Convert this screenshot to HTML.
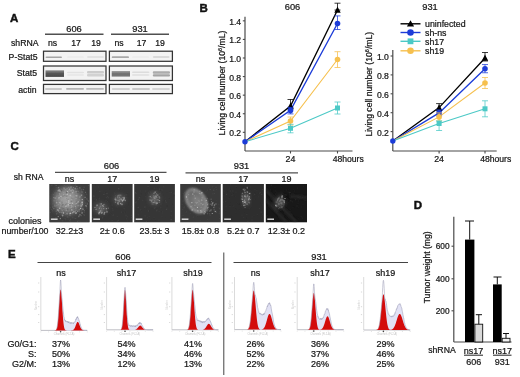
<!DOCTYPE html>
<html><head><meta charset="utf-8"><style>
html,body{margin:0;padding:0;background:#fff;width:520px;height:377px;overflow:hidden}
svg{display:block;font-family:"Liberation Sans", sans-serif;will-change:transform}
</style></head><body>
<svg width="520" height="377" viewBox="0 0 520 377">
<rect width="520" height="377" fill="#fff"/>
<defs>
<filter id="blur1" x="-20%" y="-80%" width="140%" height="260%"><feGaussianBlur stdDeviation="0.6"/></filter>
<filter id="blur2" x="-20%" y="-80%" width="140%" height="260%"><feGaussianBlur stdDeviation="1.0"/></filter>
<filter id="blurc" x="-50%" y="-50%" width="200%" height="200%"><feGaussianBlur stdDeviation="2.5"/></filter>
<filter id="soft" x="-5%" y="-5%" width="110%" height="110%"><feGaussianBlur stdDeviation="0.4"/></filter>
<filter id="blurd" x="-10%" y="-10%" width="120%" height="120%"><feGaussianBlur stdDeviation="0.35"/></filter>
</defs>
<text x="10" y="21.5" font-size="11.5" text-anchor="start" font-weight="bold" fill="#111" stroke="#111" stroke-width="0.45" >A</text>
<text x="74" y="32" font-size="9.3" text-anchor="middle" font-weight="normal" fill="#161616" stroke="#161616" stroke-width="0.22" >606</text>
<text x="140" y="32" font-size="9.3" text-anchor="middle" font-weight="normal" fill="#161616" stroke="#161616" stroke-width="0.22" >931</text>
<line x1="45" y1="34.2" x2="103.5" y2="34.2" stroke="#505050" stroke-width="1.35" />
<line x1="111" y1="34.2" x2="169" y2="34.2" stroke="#505050" stroke-width="1.35" />
<text x="11" y="46.3" font-size="8.7" text-anchor="start" font-weight="normal" fill="#161616" stroke="#161616" stroke-width="0.22" >shRNA</text>
<text x="52.5" y="46.3" font-size="8.7" text-anchor="middle" font-weight="normal" fill="#161616" stroke="#161616" stroke-width="0.22" >ns</text>
<text x="76" y="46.3" font-size="8.7" text-anchor="middle" font-weight="normal" fill="#161616" stroke="#161616" stroke-width="0.22" >17</text>
<text x="96" y="46.3" font-size="8.7" text-anchor="middle" font-weight="normal" fill="#161616" stroke="#161616" stroke-width="0.22" >19</text>
<text x="119" y="46.3" font-size="8.7" text-anchor="middle" font-weight="normal" fill="#161616" stroke="#161616" stroke-width="0.22" >ns</text>
<text x="141.5" y="46.3" font-size="8.7" text-anchor="middle" font-weight="normal" fill="#161616" stroke="#161616" stroke-width="0.22" >17</text>
<text x="160" y="46.3" font-size="8.7" text-anchor="middle" font-weight="normal" fill="#161616" stroke="#161616" stroke-width="0.22" >19</text>
<text x="37.6" y="60.1" font-size="8.7" text-anchor="end" font-weight="normal" fill="#161616" stroke="#161616" stroke-width="0.22" >P-Stat5</text>
<text x="37" y="75.7" font-size="8.7" text-anchor="end" font-weight="normal" fill="#161616" stroke="#161616" stroke-width="0.22" >Stat5</text>
<text x="36.6" y="92.7" font-size="8.7" text-anchor="end" font-weight="normal" fill="#161616" stroke="#161616" stroke-width="0.22" >actin</text>
<rect x="43.5" y="51.2" width="62.5" height="10.099999999999994" fill="#f3f3f3" stroke="#333333" stroke-width="1.25" />
<rect x="43.5" y="66" width="62.5" height="14.5" fill="#f3f3f3" stroke="#333333" stroke-width="1.25" />
<rect x="43.5" y="84.4" width="62.5" height="9.199999999999989" fill="#f3f3f3" stroke="#333333" stroke-width="1.25" />
<rect x="109.4" y="51.2" width="63.0" height="10.099999999999994" fill="#f3f3f3" stroke="#333333" stroke-width="1.25" />
<rect x="109.4" y="66" width="63.0" height="14.5" fill="#f3f3f3" stroke="#333333" stroke-width="1.25" />
<rect x="109.4" y="84.4" width="63.0" height="9.199999999999989" fill="#f3f3f3" stroke="#333333" stroke-width="1.25" />
<defs><linearGradient id="bg1" x1="0" y1="0" x2="0" y2="1"><stop offset="0" stop-color="#8a8a8a"/><stop offset="0.5" stop-color="#555"/><stop offset="1" stop-color="#4a4a4a"/></linearGradient><linearGradient id="bg2" x1="0" y1="0" x2="0" y2="1"><stop offset="0" stop-color="#a0a0a0"/><stop offset="0.5" stop-color="#6e6e6e"/><stop offset="1" stop-color="#7a7a7a"/></linearGradient></defs>
<rect x="45.5" y="56.55" width="16.5" height="1.5" fill="#a4a4a4" stroke="none" stroke-width="1" filter="url(#blur1)" rx="1" opacity="1"/>
<rect x="67" y="56.4" width="17" height="1.2" fill="#e8e8e8" stroke="none" stroke-width="1" filter="url(#blur1)" rx="1" opacity="1"/>
<rect x="87" y="56.35" width="17" height="1.3" fill="#dedede" stroke="none" stroke-width="1" filter="url(#blur1)" rx="1" opacity="1"/>
<rect x="45.5" y="70.3" width="18.5" height="6.6" fill="url(#bg1)" stroke="none" stroke-width="1" filter="url(#blur1)"/>
<rect x="67" y="71.75" width="17" height="1.5" fill="#e2e2e2" stroke="none" stroke-width="1" filter="url(#blur1)" rx="1" opacity="1"/>
<rect x="67" y="74.25" width="17" height="1.5" fill="#e6e6e6" stroke="none" stroke-width="1" filter="url(#blur1)" rx="1" opacity="1"/>
<rect x="87" y="71.1" width="17" height="2.4" fill="#cccccc" stroke="none" stroke-width="1" filter="url(#blur1)" rx="1" opacity="1"/>
<rect x="87" y="74.1" width="17" height="2.4" fill="#d2d2d2" stroke="none" stroke-width="1" filter="url(#blur1)" rx="1" opacity="1"/>
<rect x="45" y="88.15" width="17" height="1.5" fill="#bcbcbc" stroke="none" stroke-width="1" filter="url(#blur1)" rx="1" opacity="1"/>
<rect x="66" y="88.10000000000001" width="18" height="1.6" fill="#b4b4b4" stroke="none" stroke-width="1" filter="url(#blur1)" rx="1" opacity="1"/>
<rect x="86" y="88.10000000000001" width="18" height="1.6" fill="#bcbcbc" stroke="none" stroke-width="1" filter="url(#blur1)" rx="1" opacity="1"/>
<rect x="111.7" y="56.300000000000004" width="17.299999999999997" height="1.8" fill="#a8a8a8" stroke="none" stroke-width="1" filter="url(#blur1)" rx="1" opacity="1"/>
<rect x="132" y="56.4" width="17.400000000000006" height="1.2" fill="#e8e8e8" stroke="none" stroke-width="1" filter="url(#blur1)" rx="1" opacity="1"/>
<rect x="152.8" y="56.25" width="16.799999999999983" height="1.5" fill="#d2d2d2" stroke="none" stroke-width="1" filter="url(#blur1)" rx="1" opacity="1"/>
<rect x="111.7" y="71" width="18.3" height="5.6" fill="url(#bg2)" stroke="none" stroke-width="1" filter="url(#blur1)"/>
<rect x="132" y="71.6" width="17.5" height="1.4" fill="#dcdcdc" stroke="none" stroke-width="1" filter="url(#blur1)" rx="1" opacity="1"/>
<rect x="132" y="74.3" width="17.5" height="1.4" fill="#e0e0e0" stroke="none" stroke-width="1" filter="url(#blur1)" rx="1" opacity="1"/>
<rect x="152.8" y="71.3" width="17.19999999999999" height="2.4" fill="#acacac" stroke="none" stroke-width="1" filter="url(#blur1)" rx="1" opacity="1"/>
<rect x="152.8" y="74.2" width="17.19999999999999" height="2.4" fill="#a4a4a4" stroke="none" stroke-width="1" filter="url(#blur1)" rx="1" opacity="1"/>
<rect x="111.7" y="88.25" width="18.299999999999997" height="1.5" fill="#c6c6c6" stroke="none" stroke-width="1" filter="url(#blur1)" rx="1" opacity="1"/>
<rect x="132" y="88.25" width="18" height="1.5" fill="#bcbcbc" stroke="none" stroke-width="1" filter="url(#blur1)" rx="1" opacity="1"/>
<rect x="152" y="88.25" width="18" height="1.5" fill="#cacaca" stroke="none" stroke-width="1" filter="url(#blur1)" rx="1" opacity="1"/>
<text x="199.5" y="12" font-size="11.5" text-anchor="start" font-weight="bold" fill="#111" stroke="#111" stroke-width="0.45" >B</text>
<text x="292.5" y="10" font-size="9.3" text-anchor="middle" font-weight="normal" fill="#161616" stroke="#161616" stroke-width="0.22" >606</text>
<text x="430" y="9.5" font-size="9.3" text-anchor="middle" font-weight="normal" fill="#161616" stroke="#161616" stroke-width="0.22" >931</text>
<line x1="245" y1="16.8" x2="245" y2="151" stroke="#4a4a4a" stroke-width="1.2" />
<line x1="245" y1="151" x2="352.5" y2="151" stroke="#4a4a4a" stroke-width="1.2" />
<line x1="242.8" y1="132.32" x2="245" y2="132.32" stroke="#4a4a4a" stroke-width="1.1" />
<text x="241.1" y="136.32" font-size="8.6" text-anchor="end" font-weight="normal" fill="#161616" stroke="#161616" stroke-width="0.22" >0.2</text>
<line x1="242.8" y1="113.74000000000001" x2="245" y2="113.74000000000001" stroke="#4a4a4a" stroke-width="1.1" />
<text x="241.1" y="117.74000000000001" font-size="8.6" text-anchor="end" font-weight="normal" fill="#161616" stroke="#161616" stroke-width="0.22" >0.4</text>
<line x1="242.8" y1="95.16000000000003" x2="245" y2="95.16000000000003" stroke="#4a4a4a" stroke-width="1.1" />
<text x="241.1" y="99.16000000000003" font-size="8.6" text-anchor="end" font-weight="normal" fill="#161616" stroke="#161616" stroke-width="0.22" >0.6</text>
<line x1="242.8" y1="76.58000000000001" x2="245" y2="76.58000000000001" stroke="#4a4a4a" stroke-width="1.1" />
<text x="241.1" y="80.58000000000001" font-size="8.6" text-anchor="end" font-weight="normal" fill="#161616" stroke="#161616" stroke-width="0.22" >0.8</text>
<line x1="242.8" y1="58.000000000000014" x2="245" y2="58.000000000000014" stroke="#4a4a4a" stroke-width="1.1" />
<text x="241.1" y="62.000000000000014" font-size="8.6" text-anchor="end" font-weight="normal" fill="#161616" stroke="#161616" stroke-width="0.22" >1.0</text>
<line x1="242.8" y1="39.42000000000003" x2="245" y2="39.42000000000003" stroke="#4a4a4a" stroke-width="1.1" />
<text x="241.1" y="43.42000000000003" font-size="8.6" text-anchor="end" font-weight="normal" fill="#161616" stroke="#161616" stroke-width="0.22" >1.2</text>
<line x1="242.8" y1="20.840000000000032" x2="245" y2="20.840000000000032" stroke="#4a4a4a" stroke-width="1.1" />
<text x="241.1" y="24.840000000000032" font-size="8.6" text-anchor="end" font-weight="normal" fill="#161616" stroke="#161616" stroke-width="0.22" >1.4</text>
<line x1="290.5" y1="151" x2="290.5" y2="153.5" stroke="#4a4a4a" stroke-width="1.1" />
<line x1="337.5" y1="151" x2="337.5" y2="153.5" stroke="#4a4a4a" stroke-width="1.1" />
<text x="290.5" y="162.3" font-size="8.8" text-anchor="middle" font-weight="normal" fill="#161616" stroke="#161616" stroke-width="0.22" >24</text>
<text x="332.7" y="162.3" font-size="8.6" text-anchor="start" font-weight="normal" fill="#161616" stroke="#161616" stroke-width="0.22" >48hours</text>
<text x="225.3" y="83" font-size="8.65" text-anchor="middle" font-weight="normal" fill="#161616" stroke="#161616" stroke-width="0.22" transform="rotate(-90 225.3 83)">Living cell number (10<tspan font-size="5.6" dy="-3">6</tspan><tspan dy="3">/mL)</tspan></text>
<polyline points="245,141.7 290.5,106 337.5,10" fill="none" stroke="#000000" stroke-width="1.35"/>
<polyline points="245,141.7 290.5,110.4 337.5,23.5" fill="none" stroke="#1c3cd8" stroke-width="1.35"/>
<polyline points="245,141.7 290.5,121 337.5,59.5" fill="none" stroke="#f6c04e" stroke-width="1.1"/>
<polyline points="245,141.7 290.5,128.3 337.5,108" fill="none" stroke="#4cc9c6" stroke-width="1.1"/>
<line x1="290.5" y1="99.5" x2="290.5" y2="109" stroke="#000000" stroke-width="0.9" opacity="0.85"/>
<line x1="287.5" y1="99.5" x2="293.5" y2="99.5" stroke="#000000" stroke-width="0.9" opacity="0.85"/>
<line x1="287.5" y1="109" x2="293.5" y2="109" stroke="#000000" stroke-width="0.9" opacity="0.85"/>
<path d="M287.3,108.8 L290.5,102.6 L293.7,108.8 Z" fill="#000000" stroke="none" stroke-width="1" />
<line x1="337.5" y1="3.2" x2="337.5" y2="10" stroke="#000000" stroke-width="0.9" opacity="0.85"/>
<line x1="334.5" y1="3.2" x2="340.5" y2="3.2" stroke="#000000" stroke-width="0.9" opacity="0.85"/>
<line x1="334.5" y1="10" x2="340.5" y2="10" stroke="#000000" stroke-width="0.9" opacity="0.85"/>
<path d="M334.3,12.8 L337.5,6.6 L340.7,12.8 Z" fill="#000000" stroke="none" stroke-width="1" />
<line x1="290.5" y1="107.4" x2="290.5" y2="113.9" stroke="#1c3cd8" stroke-width="0.9" opacity="0.85"/>
<line x1="287.5" y1="107.4" x2="293.5" y2="107.4" stroke="#1c3cd8" stroke-width="0.9" opacity="0.85"/>
<line x1="287.5" y1="113.9" x2="293.5" y2="113.9" stroke="#1c3cd8" stroke-width="0.9" opacity="0.85"/>
<circle cx="290.5" cy="110.4" r="2.8" fill="#1c3cd8" />
<line x1="337.5" y1="15.9" x2="337.5" y2="29.5" stroke="#1c3cd8" stroke-width="0.9" opacity="0.85"/>
<line x1="334.5" y1="15.9" x2="340.5" y2="15.9" stroke="#1c3cd8" stroke-width="0.9" opacity="0.85"/>
<line x1="334.5" y1="29.5" x2="340.5" y2="29.5" stroke="#1c3cd8" stroke-width="0.9" opacity="0.85"/>
<circle cx="337.5" cy="23.5" r="2.8" fill="#1c3cd8" />
<line x1="290.5" y1="117" x2="290.5" y2="125" stroke="#f6c04e" stroke-width="0.9" opacity="0.85"/>
<line x1="287.5" y1="117" x2="293.5" y2="117" stroke="#f6c04e" stroke-width="0.9" opacity="0.85"/>
<line x1="287.5" y1="125" x2="293.5" y2="125" stroke="#f6c04e" stroke-width="0.9" opacity="0.85"/>
<circle cx="290.5" cy="121" r="2.8" fill="#f6c04e" />
<line x1="337.5" y1="51.7" x2="337.5" y2="67.5" stroke="#f6c04e" stroke-width="0.9" opacity="0.85"/>
<line x1="334.5" y1="51.7" x2="340.5" y2="51.7" stroke="#f6c04e" stroke-width="0.9" opacity="0.85"/>
<line x1="334.5" y1="67.5" x2="340.5" y2="67.5" stroke="#f6c04e" stroke-width="0.9" opacity="0.85"/>
<circle cx="337.5" cy="59.5" r="2.8" fill="#f6c04e" />
<line x1="290.5" y1="124.30000000000001" x2="290.5" y2="132.8" stroke="#4cc9c6" stroke-width="0.9" opacity="0.85"/>
<line x1="287.5" y1="124.30000000000001" x2="293.5" y2="124.30000000000001" stroke="#4cc9c6" stroke-width="0.9" opacity="0.85"/>
<line x1="287.5" y1="132.8" x2="293.5" y2="132.8" stroke="#4cc9c6" stroke-width="0.9" opacity="0.85"/>
<rect x="288.0" y="125.80000000000001" width="5" height="5" fill="#4cc9c6" stroke="none" stroke-width="1" />
<line x1="337.5" y1="102" x2="337.5" y2="114" stroke="#4cc9c6" stroke-width="0.9" opacity="0.85"/>
<line x1="334.5" y1="102" x2="340.5" y2="102" stroke="#4cc9c6" stroke-width="0.9" opacity="0.85"/>
<line x1="334.5" y1="114" x2="340.5" y2="114" stroke="#4cc9c6" stroke-width="0.9" opacity="0.85"/>
<rect x="335.0" y="105.5" width="5" height="5" fill="#4cc9c6" stroke="none" stroke-width="1" />
<circle cx="245" cy="141.7" r="2.7" fill="#1c3cd8" />
<line x1="392.8" y1="50" x2="392.8" y2="151" stroke="#4a4a4a" stroke-width="1.2" />
<line x1="392.8" y1="151" x2="496.7" y2="151" stroke="#4a4a4a" stroke-width="1.2" />
<line x1="390.6" y1="131.6" x2="392.8" y2="131.6" stroke="#4a4a4a" stroke-width="1.1" />
<text x="388.90000000000003" y="135.6" font-size="8.6" text-anchor="end" font-weight="normal" fill="#161616" stroke="#161616" stroke-width="0.22" >0.2</text>
<line x1="390.6" y1="112.7" x2="392.8" y2="112.7" stroke="#4a4a4a" stroke-width="1.1" />
<text x="388.90000000000003" y="116.7" font-size="8.6" text-anchor="end" font-weight="normal" fill="#161616" stroke="#161616" stroke-width="0.22" >0.4</text>
<line x1="390.6" y1="93.80000000000001" x2="392.8" y2="93.80000000000001" stroke="#4a4a4a" stroke-width="1.1" />
<text x="388.90000000000003" y="97.80000000000001" font-size="8.6" text-anchor="end" font-weight="normal" fill="#161616" stroke="#161616" stroke-width="0.22" >0.6</text>
<line x1="390.6" y1="74.9" x2="392.8" y2="74.9" stroke="#4a4a4a" stroke-width="1.1" />
<text x="388.90000000000003" y="78.9" font-size="8.6" text-anchor="end" font-weight="normal" fill="#161616" stroke="#161616" stroke-width="0.22" >0.8</text>
<line x1="390.6" y1="56.0" x2="392.8" y2="56.0" stroke="#4a4a4a" stroke-width="1.1" />
<text x="388.90000000000003" y="60.0" font-size="8.6" text-anchor="end" font-weight="normal" fill="#161616" stroke="#161616" stroke-width="0.22" >1.0</text>
<line x1="439.1" y1="151" x2="439.1" y2="153.5" stroke="#4a4a4a" stroke-width="1.1" />
<line x1="485" y1="151" x2="485" y2="153.5" stroke="#4a4a4a" stroke-width="1.1" />
<text x="439.1" y="162.3" font-size="8.8" text-anchor="middle" font-weight="normal" fill="#161616" stroke="#161616" stroke-width="0.22" >24</text>
<text x="480.2" y="162.3" font-size="8.6" text-anchor="start" font-weight="normal" fill="#161616" stroke="#161616" stroke-width="0.22" >48hours</text>
<text x="371.8" y="84.2" font-size="8.65" text-anchor="middle" font-weight="normal" fill="#161616" stroke="#161616" stroke-width="0.22" transform="rotate(-90 371.8 84.2)">Living cell number (10<tspan font-size="5.6" dy="-3">6</tspan><tspan dy="3">/mL)</tspan></text>
<polyline points="392.8,141 439.1,107.6 485,58" fill="none" stroke="#000000" stroke-width="1.35"/>
<polyline points="392.8,141 439.1,112.9 485,68.75" fill="none" stroke="#1c3cd8" stroke-width="1.35"/>
<polyline points="392.8,141 439.1,116.9 485,83" fill="none" stroke="#f6c04e" stroke-width="1.1"/>
<polyline points="392.8,141 439.1,123.5 485,108.8" fill="none" stroke="#4cc9c6" stroke-width="1.1"/>
<line x1="439.1" y1="103.6" x2="439.1" y2="110.6" stroke="#000000" stroke-width="0.9" opacity="0.85"/>
<line x1="436.1" y1="103.6" x2="442.1" y2="103.6" stroke="#000000" stroke-width="0.9" opacity="0.85"/>
<line x1="436.1" y1="110.6" x2="442.1" y2="110.6" stroke="#000000" stroke-width="0.9" opacity="0.85"/>
<path d="M435.90000000000003,110.39999999999999 L439.1,104.19999999999999 L442.3,110.39999999999999 Z" fill="#000000" stroke="none" stroke-width="1" />
<line x1="485" y1="52.5" x2="485" y2="61" stroke="#000000" stroke-width="0.9" opacity="0.85"/>
<line x1="482" y1="52.5" x2="488" y2="52.5" stroke="#000000" stroke-width="0.9" opacity="0.85"/>
<line x1="482" y1="61" x2="488" y2="61" stroke="#000000" stroke-width="0.9" opacity="0.85"/>
<path d="M481.8,60.8 L485,54.6 L488.2,60.8 Z" fill="#000000" stroke="none" stroke-width="1" />
<line x1="439.1" y1="109.9" x2="439.1" y2="115.9" stroke="#1c3cd8" stroke-width="0.9" opacity="0.85"/>
<line x1="436.1" y1="109.9" x2="442.1" y2="109.9" stroke="#1c3cd8" stroke-width="0.9" opacity="0.85"/>
<line x1="436.1" y1="115.9" x2="442.1" y2="115.9" stroke="#1c3cd8" stroke-width="0.9" opacity="0.85"/>
<circle cx="439.1" cy="112.9" r="2.8" fill="#1c3cd8" />
<line x1="485" y1="64.55" x2="485" y2="72.75" stroke="#1c3cd8" stroke-width="0.9" opacity="0.85"/>
<line x1="482" y1="64.55" x2="488" y2="64.55" stroke="#1c3cd8" stroke-width="0.9" opacity="0.85"/>
<line x1="482" y1="72.75" x2="488" y2="72.75" stroke="#1c3cd8" stroke-width="0.9" opacity="0.85"/>
<circle cx="485" cy="68.75" r="2.8" fill="#1c3cd8" />
<line x1="439.1" y1="112.9" x2="439.1" y2="120.9" stroke="#f6c04e" stroke-width="0.9" opacity="0.85"/>
<line x1="436.1" y1="112.9" x2="442.1" y2="112.9" stroke="#f6c04e" stroke-width="0.9" opacity="0.85"/>
<line x1="436.1" y1="120.9" x2="442.1" y2="120.9" stroke="#f6c04e" stroke-width="0.9" opacity="0.85"/>
<circle cx="439.1" cy="116.9" r="2.8" fill="#f6c04e" />
<line x1="485" y1="77.5" x2="485" y2="88.5" stroke="#f6c04e" stroke-width="0.9" opacity="0.85"/>
<line x1="482" y1="77.5" x2="488" y2="77.5" stroke="#f6c04e" stroke-width="0.9" opacity="0.85"/>
<line x1="482" y1="88.5" x2="488" y2="88.5" stroke="#f6c04e" stroke-width="0.9" opacity="0.85"/>
<circle cx="485" cy="83" r="2.8" fill="#f6c04e" />
<line x1="439.1" y1="120.9" x2="439.1" y2="130.5" stroke="#4cc9c6" stroke-width="0.9" opacity="0.85"/>
<line x1="436.1" y1="120.9" x2="442.1" y2="120.9" stroke="#4cc9c6" stroke-width="0.9" opacity="0.85"/>
<line x1="436.1" y1="130.5" x2="442.1" y2="130.5" stroke="#4cc9c6" stroke-width="0.9" opacity="0.85"/>
<rect x="436.6" y="121.0" width="5" height="5" fill="#4cc9c6" stroke="none" stroke-width="1" />
<line x1="485" y1="100.8" x2="485" y2="116.8" stroke="#4cc9c6" stroke-width="0.9" opacity="0.85"/>
<line x1="482" y1="100.8" x2="488" y2="100.8" stroke="#4cc9c6" stroke-width="0.9" opacity="0.85"/>
<line x1="482" y1="116.8" x2="488" y2="116.8" stroke="#4cc9c6" stroke-width="0.9" opacity="0.85"/>
<rect x="482.5" y="106.3" width="5" height="5" fill="#4cc9c6" stroke="none" stroke-width="1" />
<circle cx="392.8" cy="141" r="2.7" fill="#1c3cd8" />
<line x1="400.5" y1="23.8" x2="420.5" y2="23.8" stroke="#000000" stroke-width="1.4" />
<path d="M406.9,26.6 L410.5,20.2 L414.1,26.6 Z" fill="#000000" stroke="none" stroke-width="1" />
<text x="425" y="27.0" font-size="8.8" text-anchor="start" font-weight="normal" fill="#161616" stroke="#161616" stroke-width="0.22" >uninfected</text>
<line x1="400.5" y1="32.5" x2="420.5" y2="32.5" stroke="#1c3cd8" stroke-width="1.4" />
<circle cx="410.5" cy="32.5" r="3.3" fill="#1c3cd8" />
<text x="425" y="35.7" font-size="8.8" text-anchor="start" font-weight="normal" fill="#161616" stroke="#161616" stroke-width="0.22" >sh-ns</text>
<line x1="400.5" y1="41.3" x2="420.5" y2="41.3" stroke="#4cc9c6" stroke-width="1.4" />
<rect x="407.6" y="38.4" width="5.8" height="5.8" fill="#4cc9c6" stroke="none" stroke-width="1" />
<text x="425" y="44.5" font-size="8.8" text-anchor="start" font-weight="normal" fill="#161616" stroke="#161616" stroke-width="0.22" >sh17</text>
<line x1="400.5" y1="50.8" x2="420.5" y2="50.8" stroke="#f6c04e" stroke-width="1.4" />
<circle cx="410.5" cy="50.8" r="3.3" fill="#f6c04e" />
<text x="425" y="54.0" font-size="8.8" text-anchor="start" font-weight="normal" fill="#161616" stroke="#161616" stroke-width="0.22" >sh19</text>
<text x="10.5" y="150.2" font-size="11.5" text-anchor="start" font-weight="bold" fill="#111" stroke="#111" stroke-width="0.45" >C</text>
<text x="111.5" y="169" font-size="9.3" text-anchor="middle" font-weight="normal" fill="#161616" stroke="#161616" stroke-width="0.22" >606</text>
<text x="241.5" y="169" font-size="9.3" text-anchor="middle" font-weight="normal" fill="#161616" stroke="#161616" stroke-width="0.22" >931</text>
<line x1="55" y1="172.3" x2="166.5" y2="172.3" stroke="#505050" stroke-width="1.2" />
<line x1="185.5" y1="172.8" x2="298" y2="172.8" stroke="#505050" stroke-width="1.2" />
<text x="13.8" y="180.4" font-size="8.6" text-anchor="start" font-weight="normal" fill="#161616" stroke="#161616" stroke-width="0.22" >sh RNA</text>
<text x="69.5" y="182.3" font-size="9" text-anchor="middle" font-weight="normal" fill="#161616" stroke="#161616" stroke-width="0.22" >ns</text>
<text x="69.5" y="233.9" font-size="9" text-anchor="middle" font-weight="normal" fill="#161616" stroke="#161616" stroke-width="0.22" >32.2±3</text>
<rect x="49.4" y="184" width="40.2" height="38.3" fill="#3c3c3c" stroke="none" stroke-width="1" />
<text x="112.19999999999999" y="182.3" font-size="9" text-anchor="middle" font-weight="normal" fill="#161616" stroke="#161616" stroke-width="0.22" >17</text>
<text x="112.19999999999999" y="233.9" font-size="9" text-anchor="middle" font-weight="normal" fill="#161616" stroke="#161616" stroke-width="0.22" >2± 0.6</text>
<rect x="91.8" y="184" width="40.8" height="38.3" fill="#363636" stroke="none" stroke-width="1" />
<text x="154.54999999999998" y="182.3" font-size="9" text-anchor="middle" font-weight="normal" fill="#161616" stroke="#161616" stroke-width="0.22" >19</text>
<text x="154.54999999999998" y="233.9" font-size="9" text-anchor="middle" font-weight="normal" fill="#161616" stroke="#161616" stroke-width="0.22" >23.5± 3</text>
<rect x="134.2" y="184" width="40.7" height="38.3" fill="#363636" stroke="none" stroke-width="1" />
<text x="200.5" y="182.3" font-size="9" text-anchor="middle" font-weight="normal" fill="#161616" stroke="#161616" stroke-width="0.22" >ns</text>
<text x="200.5" y="233.9" font-size="9" text-anchor="middle" font-weight="normal" fill="#161616" stroke="#161616" stroke-width="0.22" >15.8± 0.8</text>
<rect x="180.2" y="184" width="40.6" height="38.3" fill="#3a3a3a" stroke="none" stroke-width="1" />
<text x="243.29999999999998" y="182.3" font-size="9" text-anchor="middle" font-weight="normal" fill="#161616" stroke="#161616" stroke-width="0.22" >17</text>
<text x="243.29999999999998" y="233.9" font-size="9" text-anchor="middle" font-weight="normal" fill="#161616" stroke="#161616" stroke-width="0.22" >5.2± 0.7</text>
<rect x="222.7" y="184" width="41.2" height="38.3" fill="#2e2e2e" stroke="none" stroke-width="1" />
<text x="286.40000000000003" y="182.3" font-size="9" text-anchor="middle" font-weight="normal" fill="#161616" stroke="#161616" stroke-width="0.22" >19</text>
<text x="286.40000000000003" y="233.9" font-size="9" text-anchor="middle" font-weight="normal" fill="#161616" stroke="#161616" stroke-width="0.22" >12.3± 0.2</text>
<rect x="265.8" y="184" width="41.2" height="38.3" fill="#181818" stroke="none" stroke-width="1" />
<text x="25" y="223.9" font-size="9" text-anchor="middle" font-weight="normal" fill="#161616" stroke="#161616" stroke-width="0.22" >colonies</text>
<text x="25" y="233.9" font-size="8.8" text-anchor="middle" font-weight="normal" fill="#161616" stroke="#161616" stroke-width="0.22" >number/100</text>
<defs><clipPath id="ci0"><rect x="49.4" y="184" width="40.2" height="38.3"/></clipPath><clipPath id="ci1"><rect x="91.8" y="184" width="40.8" height="38.3"/></clipPath><clipPath id="ci2"><rect x="134.2" y="184" width="40.7" height="38.3"/></clipPath><clipPath id="ci3"><rect x="180.2" y="184" width="40.6" height="38.3"/></clipPath><clipPath id="ci4"><rect x="222.7" y="184" width="41.2" height="38.3"/></clipPath><clipPath id="ci5"><rect x="265.8" y="184" width="41.2" height="38.3"/></clipPath></defs>
<g clip-path="url(#ci0)"><g filter="url(#soft)">
<rect x="49.4" y="184" width="40.2" height="38.3" fill="#3e3e3e" stroke="none" stroke-width="1" />
<rect x="62.1" y="189.6" width="1" height="1" fill="rgb(101,101,101)" opacity="0.22"/><rect x="81.6" y="187.5" width="1" height="1" fill="rgb(97,97,97)" opacity="0.22"/><rect x="69.3" y="185.4" width="1" height="1" fill="rgb(87,87,87)" opacity="0.37"/><rect x="58.8" y="204.6" width="1" height="1" fill="rgb(63,63,63)" opacity="0.53"/><rect x="54.3" y="192.3" width="1" height="1" fill="rgb(100,100,100)" opacity="0.43"/><rect x="51.8" y="205.8" width="1" height="1" fill="rgb(63,63,63)" opacity="0.59"/><rect x="51.2" y="216.0" width="1" height="1" fill="rgb(78,78,78)" opacity="0.37"/><rect x="70.6" y="205.3" width="1" height="1" fill="rgb(95,95,95)" opacity="0.53"/><rect x="56.5" y="205.7" width="1" height="1" fill="rgb(100,100,100)" opacity="0.28"/><rect x="53.2" y="210.6" width="1" height="1" fill="rgb(96,96,96)" opacity="0.22"/><rect x="57.5" y="209.4" width="1" height="1" fill="rgb(87,87,87)" opacity="0.51"/><rect x="67.7" y="218.4" width="1" height="1" fill="rgb(83,83,83)" opacity="0.32"/><rect x="80.5" y="210.1" width="1" height="1" fill="rgb(75,75,75)" opacity="0.23"/><rect x="61.2" y="202.5" width="1" height="1" fill="rgb(81,81,81)" opacity="0.49"/><rect x="60.7" y="220.6" width="1" height="1" fill="rgb(67,67,67)" opacity="0.40"/><rect x="55.9" y="196.8" width="1" height="1" fill="rgb(119,119,119)" opacity="0.40"/><rect x="50.9" y="208.9" width="1" height="1" fill="rgb(108,108,108)" opacity="0.42"/><rect x="80.3" y="214.5" width="1" height="1" fill="rgb(81,81,81)" opacity="0.48"/><rect x="72.7" y="205.6" width="1" height="1" fill="rgb(89,89,89)" opacity="0.23"/><rect x="53.1" y="194.1" width="1" height="1" fill="rgb(104,104,104)" opacity="0.47"/><rect x="51.8" y="210.2" width="1" height="1" fill="rgb(101,101,101)" opacity="0.43"/><rect x="76.1" y="200.6" width="1" height="1" fill="rgb(105,105,105)" opacity="0.35"/><rect x="75.6" y="184.8" width="1" height="1" fill="rgb(89,89,89)" opacity="0.34"/><rect x="73.3" y="202.4" width="1" height="1" fill="rgb(73,73,73)" opacity="0.51"/><rect x="54.5" y="193.2" width="1" height="1" fill="rgb(85,85,85)" opacity="0.57"/><rect x="68.9" y="190.2" width="1" height="1" fill="rgb(85,85,85)" opacity="0.42"/><rect x="84.0" y="214.6" width="1" height="1" fill="rgb(115,115,115)" opacity="0.42"/><rect x="77.1" y="220.8" width="1" height="1" fill="rgb(103,103,103)" opacity="0.55"/><rect x="86.9" y="189.6" width="1" height="1" fill="rgb(71,71,71)" opacity="0.26"/><rect x="75.2" y="184.4" width="1" height="1" fill="rgb(113,113,113)" opacity="0.44"/><rect x="59.7" y="184.2" width="1" height="1" fill="rgb(86,86,86)" opacity="0.41"/><rect x="73.3" y="195.9" width="1" height="1" fill="rgb(68,68,68)" opacity="0.48"/><rect x="69.6" y="207.0" width="1" height="1" fill="rgb(103,103,103)" opacity="0.50"/><rect x="67.3" y="216.5" width="1" height="1" fill="rgb(120,120,120)" opacity="0.55"/><rect x="80.7" y="198.6" width="1" height="1" fill="rgb(85,85,85)" opacity="0.36"/><rect x="68.3" y="198.9" width="1" height="1" fill="rgb(72,72,72)" opacity="0.23"/><rect x="57.6" y="190.1" width="1" height="1" fill="rgb(81,81,81)" opacity="0.44"/><rect x="53.4" y="205.1" width="1" height="1" fill="rgb(94,94,94)" opacity="0.24"/><rect x="63.7" y="185.0" width="1" height="1" fill="rgb(115,115,115)" opacity="0.28"/><rect x="64.1" y="207.7" width="1" height="1" fill="rgb(82,82,82)" opacity="0.44"/><rect x="68.0" y="188.3" width="1" height="1" fill="rgb(91,91,91)" opacity="0.60"/><rect x="67.7" y="202.0" width="1" height="1" fill="rgb(65,65,65)" opacity="0.26"/><rect x="78.8" y="211.6" width="1" height="1" fill="rgb(90,90,90)" opacity="0.53"/><rect x="55.7" y="184.9" width="1" height="1" fill="rgb(120,120,120)" opacity="0.58"/><rect x="63.6" y="209.7" width="1" height="1" fill="rgb(118,118,118)" opacity="0.21"/><rect x="70.1" y="220.5" width="1" height="1" fill="rgb(115,115,115)" opacity="0.24"/><rect x="82.5" y="203.3" width="1" height="1" fill="rgb(118,118,118)" opacity="0.27"/><rect x="79.7" y="203.9" width="1" height="1" fill="rgb(109,109,109)" opacity="0.40"/><rect x="74.3" y="206.9" width="1" height="1" fill="rgb(110,110,110)" opacity="0.59"/><rect x="82.8" y="214.1" width="1" height="1" fill="rgb(112,112,112)" opacity="0.36"/><rect x="80.9" y="191.5" width="1" height="1" fill="rgb(91,91,91)" opacity="0.34"/><rect x="50.5" y="185.0" width="1" height="1" fill="rgb(77,77,77)" opacity="0.39"/><rect x="57.0" y="206.6" width="1" height="1" fill="rgb(82,82,82)" opacity="0.38"/><rect x="86.1" y="220.9" width="1" height="1" fill="rgb(83,83,83)" opacity="0.23"/><rect x="53.4" y="201.5" width="1" height="1" fill="rgb(81,81,81)" opacity="0.28"/><rect x="73.9" y="217.6" width="1" height="1" fill="rgb(113,113,113)" opacity="0.20"/><rect x="85.0" y="196.8" width="1" height="1" fill="rgb(101,101,101)" opacity="0.23"/><rect x="75.3" y="217.9" width="1" height="1" fill="rgb(110,110,110)" opacity="0.48"/><rect x="57.2" y="217.2" width="1" height="1" fill="rgb(87,87,87)" opacity="0.52"/><rect x="62.4" y="213.9" width="1" height="1" fill="rgb(106,106,106)" opacity="0.36"/><rect x="65.1" y="219.3" width="1" height="1" fill="rgb(106,106,106)" opacity="0.26"/><rect x="88.3" y="185.0" width="1" height="1" fill="rgb(97,97,97)" opacity="0.56"/><rect x="81.0" y="189.5" width="1" height="1" fill="rgb(112,112,112)" opacity="0.44"/><rect x="68.0" y="219.0" width="1" height="1" fill="rgb(69,69,69)" opacity="0.42"/><rect x="54.5" y="184.5" width="1" height="1" fill="rgb(106,106,106)" opacity="0.46"/><rect x="70.0" y="218.8" width="1" height="1" fill="rgb(87,87,87)" opacity="0.59"/><rect x="57.0" y="216.6" width="1" height="1" fill="rgb(61,61,61)" opacity="0.30"/><rect x="60.9" y="193.0" width="1" height="1" fill="rgb(97,97,97)" opacity="0.33"/><rect x="70.7" y="215.1" width="1" height="1" fill="rgb(63,63,63)" opacity="0.56"/><rect x="63.3" y="201.1" width="1" height="1" fill="rgb(97,97,97)" opacity="0.53"/><rect x="69.7" y="214.9" width="1" height="1" fill="rgb(116,116,116)" opacity="0.40"/><rect x="70.2" y="203.5" width="1" height="1" fill="rgb(61,61,61)" opacity="0.55"/><rect x="79.8" y="206.7" width="1" height="1" fill="rgb(109,109,109)" opacity="0.52"/><rect x="56.2" y="201.7" width="1" height="1" fill="rgb(106,106,106)" opacity="0.25"/><rect x="51.8" y="209.5" width="1" height="1" fill="rgb(93,93,93)" opacity="0.42"/><rect x="80.1" y="188.0" width="1" height="1" fill="rgb(95,95,95)" opacity="0.22"/><rect x="56.9" y="185.6" width="1" height="1" fill="rgb(66,66,66)" opacity="0.40"/><rect x="71.4" y="212.3" width="1" height="1" fill="rgb(118,118,118)" opacity="0.23"/><rect x="62.2" y="220.3" width="1" height="1" fill="rgb(98,98,98)" opacity="0.40"/><rect x="76.6" y="200.9" width="1" height="1" fill="rgb(94,94,94)" opacity="0.52"/><rect x="69.3" y="193.2" width="1" height="1" fill="rgb(93,93,93)" opacity="0.55"/><rect x="86.3" y="193.7" width="1" height="1" fill="rgb(95,95,95)" opacity="0.56"/><rect x="57.3" y="200.7" width="1" height="1" fill="rgb(86,86,86)" opacity="0.25"/><rect x="66.7" y="186.7" width="1" height="1" fill="rgb(75,75,75)" opacity="0.37"/><rect x="57.7" y="195.3" width="1" height="1" fill="rgb(67,67,67)" opacity="0.56"/><rect x="55.5" y="210.7" width="1" height="1" fill="rgb(102,102,102)" opacity="0.35"/><rect x="59.3" y="189.1" width="1" height="1" fill="rgb(89,89,89)" opacity="0.29"/><rect x="86.7" y="198.9" width="1" height="1" fill="rgb(91,91,91)" opacity="0.27"/><rect x="75.6" y="192.3" width="1" height="1" fill="rgb(105,105,105)" opacity="0.37"/><rect x="69.6" y="196.6" width="1" height="1" fill="rgb(72,72,72)" opacity="0.34"/><rect x="53.0" y="197.7" width="1" height="1" fill="rgb(81,81,81)" opacity="0.42"/><rect x="66.7" y="184.7" width="1" height="1" fill="rgb(81,81,81)" opacity="0.41"/><rect x="61.0" y="219.8" width="1" height="1" fill="rgb(67,67,67)" opacity="0.59"/><rect x="80.3" y="220.2" width="1" height="1" fill="rgb(66,66,66)" opacity="0.23"/><rect x="60.1" y="217.8" width="1" height="1" fill="rgb(71,71,71)" opacity="0.31"/><rect x="54.5" y="199.8" width="1" height="1" fill="rgb(118,118,118)" opacity="0.47"/><rect x="86.5" y="199.1" width="1" height="1" fill="rgb(94,94,94)" opacity="0.57"/><rect x="71.8" y="210.1" width="1" height="1" fill="rgb(65,65,65)" opacity="0.31"/><rect x="80.7" y="190.8" width="1" height="1" fill="rgb(117,117,117)" opacity="0.23"/><rect x="86.2" y="207.7" width="1" height="1" fill="rgb(111,111,111)" opacity="0.30"/><rect x="73.2" y="192.3" width="1" height="1" fill="rgb(76,76,76)" opacity="0.55"/><rect x="67.2" y="196.7" width="1" height="1" fill="rgb(95,95,95)" opacity="0.37"/><rect x="85.3" y="207.2" width="1" height="1" fill="rgb(62,62,62)" opacity="0.41"/><rect x="58.7" y="188.1" width="1" height="1" fill="rgb(70,70,70)" opacity="0.30"/><rect x="56.5" y="218.8" width="1" height="1" fill="rgb(100,100,100)" opacity="0.32"/><rect x="79.2" y="194.8" width="1" height="1" fill="rgb(92,92,92)" opacity="0.47"/><rect x="60.0" y="214.0" width="1" height="1" fill="rgb(76,76,76)" opacity="0.21"/><rect x="50.1" y="202.9" width="1" height="1" fill="rgb(72,72,72)" opacity="0.41"/><rect x="59.0" y="200.7" width="1" height="1" fill="rgb(102,102,102)" opacity="0.53"/><rect x="66.3" y="202.5" width="1" height="1" fill="rgb(113,113,113)" opacity="0.56"/><rect x="87.4" y="195.5" width="1" height="1" fill="rgb(73,73,73)" opacity="0.59"/><rect x="62.8" y="215.0" width="1" height="1" fill="rgb(105,105,105)" opacity="0.49"/><rect x="54.9" y="220.9" width="1" height="1" fill="rgb(63,63,63)" opacity="0.53"/><rect x="50.0" y="207.3" width="1" height="1" fill="rgb(116,116,116)" opacity="0.30"/><rect x="55.8" y="187.2" width="1" height="1" fill="rgb(113,113,113)" opacity="0.35"/><rect x="69.2" y="220.2" width="1" height="1" fill="rgb(98,98,98)" opacity="0.30"/><rect x="60.9" y="201.1" width="1" height="1" fill="rgb(70,70,70)" opacity="0.31"/><rect x="49.5" y="197.6" width="1" height="1" fill="rgb(81,81,81)" opacity="0.59"/><rect x="70.8" y="193.1" width="1" height="1" fill="rgb(116,116,116)" opacity="0.32"/><rect x="63.4" y="184.0" width="1" height="1" fill="rgb(84,84,84)" opacity="0.23"/><rect x="60.3" y="208.5" width="1" height="1" fill="rgb(75,75,75)" opacity="0.40"/><rect x="49.6" y="193.9" width="1" height="1" fill="rgb(65,65,65)" opacity="0.26"/><rect x="72.4" y="198.7" width="1" height="1" fill="rgb(79,79,79)" opacity="0.32"/><rect x="58.5" y="205.8" width="1" height="1" fill="rgb(93,93,93)" opacity="0.54"/><rect x="55.5" y="217.3" width="1" height="1" fill="rgb(110,110,110)" opacity="0.55"/><rect x="64.7" y="196.2" width="1" height="1" fill="rgb(91,91,91)" opacity="0.26"/><rect x="77.8" y="208.0" width="1" height="1" fill="rgb(62,62,62)" opacity="0.53"/><rect x="77.4" y="203.1" width="1" height="1" fill="rgb(87,87,87)" opacity="0.49"/><rect x="81.2" y="189.2" width="1" height="1" fill="rgb(93,93,93)" opacity="0.50"/><rect x="71.7" y="214.3" width="1" height="1" fill="rgb(61,61,61)" opacity="0.53"/><rect x="72.3" y="217.3" width="1" height="1" fill="rgb(103,103,103)" opacity="0.58"/><rect x="74.6" y="187.2" width="1" height="1" fill="rgb(62,62,62)" opacity="0.25"/><rect x="63.5" y="187.9" width="1" height="1" fill="rgb(113,113,113)" opacity="0.38"/><rect x="51.4" y="184.7" width="1" height="1" fill="rgb(94,94,94)" opacity="0.47"/><rect x="68.6" y="184.1" width="1" height="1" fill="rgb(111,111,111)" opacity="0.23"/><rect x="86.0" y="217.5" width="1" height="1" fill="rgb(65,65,65)" opacity="0.46"/><rect x="52.0" y="211.5" width="1" height="1" fill="rgb(76,76,76)" opacity="0.52"/><rect x="82.6" y="192.8" width="1" height="1" fill="rgb(108,108,108)" opacity="0.28"/><rect x="78.4" y="220.4" width="1" height="1" fill="rgb(91,91,91)" opacity="0.54"/><rect x="52.4" y="218.0" width="1" height="1" fill="rgb(78,78,78)" opacity="0.51"/><rect x="73.6" y="208.0" width="1" height="1" fill="rgb(64,64,64)" opacity="0.44"/><rect x="62.4" y="208.3" width="1" height="1" fill="rgb(104,104,104)" opacity="0.32"/><rect x="71.7" y="184.5" width="1" height="1" fill="rgb(63,63,63)" opacity="0.39"/><rect x="87.5" y="187.7" width="1" height="1" fill="rgb(73,73,73)" opacity="0.47"/><rect x="60.8" y="203.3" width="1" height="1" fill="rgb(89,89,89)" opacity="0.39"/><rect x="79.5" y="221.1" width="1" height="1" fill="rgb(95,95,95)" opacity="0.28"/><rect x="87.7" y="218.9" width="1" height="1" fill="rgb(61,61,61)" opacity="0.32"/><rect x="52.4" y="202.9" width="1" height="1" fill="rgb(88,88,88)" opacity="0.60"/><rect x="64.6" y="218.2" width="1" height="1" fill="rgb(119,119,119)" opacity="0.28"/><rect x="72.2" y="189.3" width="1" height="1" fill="rgb(93,93,93)" opacity="0.30"/><rect x="63.5" y="206.5" width="1" height="1" fill="rgb(100,100,100)" opacity="0.40"/><rect x="84.2" y="210.2" width="1" height="1" fill="rgb(74,74,74)" opacity="0.40"/><rect x="83.7" y="198.7" width="1" height="1" fill="rgb(70,70,70)" opacity="0.20"/><rect x="68.7" y="200.8" width="1" height="1" fill="rgb(79,79,79)" opacity="0.49"/><rect x="65.7" y="198.0" width="1" height="1" fill="rgb(67,67,67)" opacity="0.54"/><rect x="49.5" y="212.0" width="1" height="1" fill="rgb(113,113,113)" opacity="0.36"/><rect x="86.2" y="191.3" width="1" height="1" fill="rgb(60,60,60)" opacity="0.56"/><rect x="60.8" y="197.9" width="1" height="1" fill="rgb(85,85,85)" opacity="0.36"/><rect x="83.5" y="186.8" width="1" height="1" fill="rgb(119,119,119)" opacity="0.37"/><rect x="60.2" y="185.8" width="1" height="1" fill="rgb(66,66,66)" opacity="0.22"/>
<ellipse cx="68" cy="200.5" rx="15" ry="14" fill="#767676" opacity="1" filter="url(#blurc)" transform="rotate(0 68 200.5)"/>
<ellipse cx="67" cy="199.5" rx="9" ry="8.5" fill="#9c9c9c" opacity="1" filter="url(#blurc)" transform="rotate(0 67 199.5)"/>
<rect x="61.7" y="190.7" width="1.0" height="1.0" fill="rgb(144,144,144)" opacity="0.69"/><rect x="62.7" y="212.2" width="1.3" height="1.3" fill="rgb(164,164,164)" opacity="0.94"/><rect x="72.5" y="189.8" width="1.4" height="1.4" fill="rgb(180,180,180)" opacity="0.75"/><rect x="67.4" y="197.3" width="1.3" height="1.3" fill="rgb(167,167,167)" opacity="0.79"/><rect x="77.0" y="210.8" width="1.1" height="1.1" fill="rgb(180,180,180)" opacity="0.52"/><rect x="59.3" y="202.0" width="1.0" height="1.0" fill="rgb(193,193,193)" opacity="0.59"/><rect x="63.4" y="193.9" width="1.2" height="1.2" fill="rgb(160,160,160)" opacity="0.52"/><rect x="65.4" y="197.4" width="1.2" height="1.2" fill="rgb(173,173,173)" opacity="0.75"/><rect x="59.7" y="202.9" width="1.3" height="1.3" fill="rgb(164,164,164)" opacity="0.53"/><rect x="69.6" y="204.6" width="1.1" height="1.1" fill="rgb(121,121,121)" opacity="0.63"/><rect x="58.9" y="210.1" width="1.0" height="1.0" fill="rgb(112,112,112)" opacity="0.86"/><rect x="59.8" y="205.4" width="1.2" height="1.2" fill="rgb(158,158,158)" opacity="0.60"/><rect x="68.1" y="190.3" width="1.2" height="1.2" fill="rgb(156,156,156)" opacity="0.52"/><rect x="56.1" y="200.3" width="1.3" height="1.3" fill="rgb(137,137,137)" opacity="0.50"/><rect x="75.4" y="195.1" width="1.2" height="1.2" fill="rgb(165,165,165)" opacity="0.97"/><rect x="76.1" y="189.5" width="0.9" height="0.9" fill="rgb(114,114,114)" opacity="0.68"/><rect x="69.2" y="187.5" width="1.4" height="1.4" fill="rgb(172,172,172)" opacity="0.45"/><rect x="56.8" y="209.3" width="1.3" height="1.3" fill="rgb(169,169,169)" opacity="0.98"/><rect x="68.0" y="205.3" width="1.0" height="1.0" fill="rgb(176,176,176)" opacity="0.98"/><rect x="78.6" y="208.8" width="1.3" height="1.3" fill="rgb(168,168,168)" opacity="0.50"/><rect x="68.1" y="200.0" width="1.0" height="1.0" fill="rgb(182,182,182)" opacity="0.96"/><rect x="63.0" y="194.2" width="1.0" height="1.0" fill="rgb(142,142,142)" opacity="0.74"/><rect x="55.9" y="205.4" width="0.9" height="0.9" fill="rgb(148,148,148)" opacity="0.74"/><rect x="59.9" y="196.0" width="1.0" height="1.0" fill="rgb(186,186,186)" opacity="0.45"/><rect x="53.4" y="197.1" width="1.0" height="1.0" fill="rgb(150,150,150)" opacity="0.80"/><rect x="75.7" y="193.8" width="1.0" height="1.0" fill="rgb(141,141,141)" opacity="0.47"/><rect x="57.7" y="206.6" width="0.9" height="0.9" fill="rgb(134,134,134)" opacity="0.72"/><rect x="63.6" y="192.1" width="1.0" height="1.0" fill="rgb(195,195,195)" opacity="0.68"/><rect x="60.8" y="207.9" width="1.2" height="1.2" fill="rgb(163,163,163)" opacity="0.65"/><rect x="67.0" y="201.2" width="1.0" height="1.0" fill="rgb(174,174,174)" opacity="0.49"/><rect x="61.3" y="200.7" width="1.3" height="1.3" fill="rgb(134,134,134)" opacity="0.58"/><rect x="70.3" y="212.9" width="1.0" height="1.0" fill="rgb(189,189,189)" opacity="0.72"/><rect x="70.7" y="206.8" width="1.1" height="1.1" fill="rgb(195,195,195)" opacity="0.48"/><rect x="56.1" y="192.7" width="0.9" height="0.9" fill="rgb(113,113,113)" opacity="0.99"/><rect x="70.1" y="203.1" width="0.9" height="0.9" fill="rgb(160,160,160)" opacity="0.70"/><rect x="66.0" y="192.6" width="1.0" height="1.0" fill="rgb(120,120,120)" opacity="0.96"/><rect x="64.9" y="206.0" width="1.4" height="1.4" fill="rgb(169,169,169)" opacity="0.47"/><rect x="63.3" y="192.8" width="1.1" height="1.1" fill="rgb(152,152,152)" opacity="0.69"/><rect x="71.3" y="203.1" width="0.9" height="0.9" fill="rgb(163,163,163)" opacity="0.98"/><rect x="78.5" y="210.5" width="1.0" height="1.0" fill="rgb(155,155,155)" opacity="0.87"/><rect x="63.2" y="212.6" width="0.9" height="0.9" fill="rgb(200,200,200)" opacity="0.71"/><rect x="58.0" y="210.5" width="1.0" height="1.0" fill="rgb(156,156,156)" opacity="0.86"/><rect x="56.2" y="202.3" width="1.0" height="1.0" fill="rgb(190,190,190)" opacity="0.87"/><rect x="70.7" y="201.2" width="0.9" height="0.9" fill="rgb(117,117,117)" opacity="0.59"/><rect x="67.8" y="186.8" width="1.1" height="1.1" fill="rgb(144,144,144)" opacity="0.63"/><rect x="71.0" y="199.6" width="1.3" height="1.3" fill="rgb(198,198,198)" opacity="0.62"/><rect x="67.9" y="201.4" width="1.3" height="1.3" fill="rgb(191,191,191)" opacity="0.97"/><rect x="80.5" y="205.8" width="1.0" height="1.0" fill="rgb(169,169,169)" opacity="0.97"/><rect x="62.3" y="205.3" width="1.1" height="1.1" fill="rgb(173,173,173)" opacity="0.52"/><rect x="66.6" y="200.5" width="1.4" height="1.4" fill="rgb(148,148,148)" opacity="0.90"/><rect x="69.7" y="189.3" width="1.1" height="1.1" fill="rgb(150,150,150)" opacity="0.70"/><rect x="70.4" y="189.6" width="1.2" height="1.2" fill="rgb(160,160,160)" opacity="0.86"/><rect x="68.1" y="204.2" width="0.9" height="0.9" fill="rgb(180,180,180)" opacity="0.75"/><rect x="73.2" y="208.5" width="1.0" height="1.0" fill="rgb(119,119,119)" opacity="0.60"/><rect x="72.0" y="202.8" width="1.1" height="1.1" fill="rgb(200,200,200)" opacity="0.98"/><rect x="70.5" y="205.2" width="1.1" height="1.1" fill="rgb(196,196,196)" opacity="0.58"/><rect x="55.2" y="197.4" width="1.3" height="1.3" fill="rgb(147,147,147)" opacity="0.61"/><rect x="59.6" y="196.9" width="1.3" height="1.3" fill="rgb(135,135,135)" opacity="0.69"/><rect x="70.9" y="207.0" width="1.0" height="1.0" fill="rgb(184,184,184)" opacity="0.55"/><rect x="74.9" y="203.4" width="1.0" height="1.0" fill="rgb(177,177,177)" opacity="0.58"/><rect x="72.4" y="189.6" width="1.4" height="1.4" fill="rgb(123,123,123)" opacity="0.45"/><rect x="73.3" y="195.8" width="1.1" height="1.1" fill="rgb(157,157,157)" opacity="0.47"/><rect x="66.6" y="205.3" width="1.0" height="1.0" fill="rgb(184,184,184)" opacity="0.56"/><rect x="77.6" y="205.2" width="1.0" height="1.0" fill="rgb(187,187,187)" opacity="0.59"/><rect x="70.5" y="186.6" width="1.0" height="1.0" fill="rgb(186,186,186)" opacity="0.84"/><rect x="66.3" y="202.8" width="1.1" height="1.1" fill="rgb(115,115,115)" opacity="0.56"/><rect x="67.6" y="211.7" width="1.2" height="1.2" fill="rgb(136,136,136)" opacity="0.90"/><rect x="72.0" y="192.1" width="1.1" height="1.1" fill="rgb(189,189,189)" opacity="0.62"/><rect x="71.9" y="212.9" width="1.2" height="1.2" fill="rgb(118,118,118)" opacity="0.67"/><rect x="71.5" y="189.2" width="1.0" height="1.0" fill="rgb(178,178,178)" opacity="0.50"/><rect x="74.5" y="210.9" width="1.1" height="1.1" fill="rgb(146,146,146)" opacity="0.82"/><rect x="65.0" y="202.1" width="1.3" height="1.3" fill="rgb(155,155,155)" opacity="0.68"/><rect x="81.0" y="201.9" width="1.3" height="1.3" fill="rgb(192,192,192)" opacity="0.56"/><rect x="67.1" y="194.0" width="0.9" height="0.9" fill="rgb(130,130,130)" opacity="0.68"/><rect x="72.1" y="192.1" width="1.3" height="1.3" fill="rgb(168,168,168)" opacity="0.88"/><rect x="70.3" y="202.9" width="1.0" height="1.0" fill="rgb(160,160,160)" opacity="0.50"/><rect x="61.4" y="194.4" width="1.2" height="1.2" fill="rgb(128,128,128)" opacity="0.64"/><rect x="71.3" y="205.6" width="0.9" height="0.9" fill="rgb(159,159,159)" opacity="0.72"/><rect x="73.0" y="187.1" width="1.0" height="1.0" fill="rgb(126,126,126)" opacity="0.91"/><rect x="81.8" y="204.2" width="1.1" height="1.1" fill="rgb(187,187,187)" opacity="0.96"/><rect x="57.1" y="209.4" width="1.2" height="1.2" fill="rgb(130,130,130)" opacity="0.80"/><rect x="75.3" y="191.5" width="1.2" height="1.2" fill="rgb(135,135,135)" opacity="0.91"/><rect x="70.9" y="206.7" width="1.1" height="1.1" fill="rgb(176,176,176)" opacity="0.54"/><rect x="64.3" y="204.8" width="1.4" height="1.4" fill="rgb(134,134,134)" opacity="0.47"/><rect x="55.9" y="195.7" width="0.9" height="0.9" fill="rgb(151,151,151)" opacity="0.51"/><rect x="59.0" y="194.2" width="1.2" height="1.2" fill="rgb(149,149,149)" opacity="0.81"/><rect x="65.3" y="207.3" width="1.1" height="1.1" fill="rgb(157,157,157)" opacity="0.70"/><rect x="65.9" y="201.3" width="1.2" height="1.2" fill="rgb(172,172,172)" opacity="0.71"/><rect x="56.9" y="204.2" width="1.3" height="1.3" fill="rgb(132,132,132)" opacity="0.90"/><rect x="64.9" y="202.7" width="1.1" height="1.1" fill="rgb(156,156,156)" opacity="0.50"/><rect x="58.0" y="204.2" width="0.9" height="0.9" fill="rgb(191,191,191)" opacity="0.52"/><rect x="75.4" y="196.7" width="1.3" height="1.3" fill="rgb(120,120,120)" opacity="0.48"/><rect x="58.8" y="200.3" width="1.4" height="1.4" fill="rgb(127,127,127)" opacity="0.46"/><rect x="78.7" y="205.1" width="1.2" height="1.2" fill="rgb(124,124,124)" opacity="0.56"/><rect x="78.5" y="199.3" width="1.4" height="1.4" fill="rgb(131,131,131)" opacity="0.83"/><rect x="66.7" y="193.8" width="1.3" height="1.3" fill="rgb(188,188,188)" opacity="0.87"/><rect x="75.7" y="212.0" width="1.0" height="1.0" fill="rgb(168,168,168)" opacity="0.53"/><rect x="53.6" y="200.3" width="1.0" height="1.0" fill="rgb(143,143,143)" opacity="0.79"/><rect x="68.7" y="209.3" width="1.0" height="1.0" fill="rgb(161,161,161)" opacity="0.54"/><rect x="79.4" y="195.8" width="1.3" height="1.3" fill="rgb(131,131,131)" opacity="0.89"/><rect x="66.8" y="213.2" width="0.9" height="0.9" fill="rgb(156,156,156)" opacity="0.98"/><rect x="57.6" y="203.5" width="1.2" height="1.2" fill="rgb(123,123,123)" opacity="0.59"/><rect x="54.5" y="197.5" width="1.3" height="1.3" fill="rgb(157,157,157)" opacity="0.60"/><rect x="79.4" y="199.8" width="1.1" height="1.1" fill="rgb(120,120,120)" opacity="0.69"/><rect x="73.7" y="211.7" width="0.9" height="0.9" fill="rgb(176,176,176)" opacity="0.59"/><rect x="58.5" y="189.5" width="1.2" height="1.2" fill="rgb(194,194,194)" opacity="0.94"/><rect x="66.6" y="188.0" width="1.0" height="1.0" fill="rgb(147,147,147)" opacity="0.79"/><rect x="58.2" y="204.8" width="1.3" height="1.3" fill="rgb(126,126,126)" opacity="0.72"/><rect x="65.6" y="198.5" width="0.9" height="0.9" fill="rgb(182,182,182)" opacity="0.65"/><rect x="75.0" y="205.9" width="1.0" height="1.0" fill="rgb(184,184,184)" opacity="0.62"/><rect x="74.1" y="207.0" width="1.3" height="1.3" fill="rgb(130,130,130)" opacity="0.52"/><rect x="74.8" y="197.7" width="1.0" height="1.0" fill="rgb(122,122,122)" opacity="0.49"/><rect x="75.5" y="209.8" width="1.0" height="1.0" fill="rgb(143,143,143)" opacity="0.98"/><rect x="80.8" y="205.0" width="1.3" height="1.3" fill="rgb(186,186,186)" opacity="0.81"/><rect x="54.4" y="205.4" width="1.3" height="1.3" fill="rgb(141,141,141)" opacity="0.54"/><rect x="71.7" y="200.5" width="0.9" height="0.9" fill="rgb(133,133,133)" opacity="0.58"/><rect x="80.4" y="205.1" width="0.9" height="0.9" fill="rgb(180,180,180)" opacity="0.81"/><rect x="71.1" y="209.3" width="1.2" height="1.2" fill="rgb(192,192,192)" opacity="0.73"/><rect x="59.5" y="190.3" width="1.0" height="1.0" fill="rgb(149,149,149)" opacity="0.49"/><rect x="57.5" y="190.2" width="1.3" height="1.3" fill="rgb(171,171,171)" opacity="0.84"/><rect x="81.8" y="201.0" width="1.3" height="1.3" fill="rgb(169,169,169)" opacity="0.49"/><rect x="64.5" y="195.5" width="1.4" height="1.4" fill="rgb(143,143,143)" opacity="0.58"/><rect x="76.4" y="202.5" width="1.3" height="1.3" fill="rgb(198,198,198)" opacity="0.97"/><rect x="67.7" y="203.8" width="1.2" height="1.2" fill="rgb(196,196,196)" opacity="0.69"/><rect x="70.6" y="190.3" width="1.0" height="1.0" fill="rgb(192,192,192)" opacity="0.96"/><rect x="71.5" y="197.9" width="1.2" height="1.2" fill="rgb(131,131,131)" opacity="0.59"/><rect x="69.1" y="213.0" width="1.4" height="1.4" fill="rgb(151,151,151)" opacity="0.56"/><rect x="59.1" y="207.7" width="1.1" height="1.1" fill="rgb(190,190,190)" opacity="0.96"/><rect x="81.7" y="199.0" width="1.2" height="1.2" fill="rgb(170,170,170)" opacity="0.91"/><rect x="63.5" y="187.8" width="1.1" height="1.1" fill="rgb(139,139,139)" opacity="0.76"/><rect x="65.5" y="206.7" width="1.2" height="1.2" fill="rgb(119,119,119)" opacity="0.76"/><rect x="69.3" y="202.8" width="1.0" height="1.0" fill="rgb(189,189,189)" opacity="0.96"/><rect x="64.8" y="205.0" width="0.9" height="0.9" fill="rgb(115,115,115)" opacity="0.53"/><rect x="66.1" y="198.2" width="0.9" height="0.9" fill="rgb(115,115,115)" opacity="0.49"/><rect x="60.4" y="195.8" width="1.3" height="1.3" fill="rgb(178,178,178)" opacity="0.94"/><rect x="80.8" y="205.9" width="1.4" height="1.4" fill="rgb(159,159,159)" opacity="0.51"/><rect x="69.4" y="205.2" width="0.9" height="0.9" fill="rgb(191,191,191)" opacity="0.50"/><rect x="68.1" y="189.0" width="1.1" height="1.1" fill="rgb(126,126,126)" opacity="0.50"/><rect x="68.3" y="193.9" width="1.1" height="1.1" fill="rgb(164,164,164)" opacity="0.59"/><rect x="59.4" y="211.8" width="0.9" height="0.9" fill="rgb(157,157,157)" opacity="0.95"/><rect x="69.4" y="189.3" width="1.1" height="1.1" fill="rgb(146,146,146)" opacity="0.79"/><rect x="77.5" y="202.3" width="1.1" height="1.1" fill="rgb(122,122,122)" opacity="0.64"/><rect x="64.9" y="190.3" width="1.0" height="1.0" fill="rgb(121,121,121)" opacity="0.77"/><rect x="65.7" y="209.8" width="1.2" height="1.2" fill="rgb(146,146,146)" opacity="0.87"/><rect x="69.0" y="200.4" width="1.1" height="1.1" fill="rgb(172,172,172)" opacity="0.83"/><rect x="74.7" y="187.8" width="1.2" height="1.2" fill="rgb(175,175,175)" opacity="0.59"/><rect x="75.5" y="197.8" width="1.0" height="1.0" fill="rgb(199,199,199)" opacity="0.58"/><rect x="75.3" y="212.6" width="1.3" height="1.3" fill="rgb(172,172,172)" opacity="0.88"/><rect x="63.7" y="188.3" width="1.2" height="1.2" fill="rgb(155,155,155)" opacity="0.50"/><rect x="80.8" y="194.6" width="1.3" height="1.3" fill="rgb(164,164,164)" opacity="0.94"/><rect x="74.7" y="201.5" width="1.0" height="1.0" fill="rgb(179,179,179)" opacity="0.73"/><rect x="57.8" y="209.9" width="1.0" height="1.0" fill="rgb(168,168,168)" opacity="0.52"/><rect x="57.7" y="193.8" width="1.2" height="1.2" fill="rgb(114,114,114)" opacity="0.64"/><rect x="65.3" y="205.6" width="1.3" height="1.3" fill="rgb(194,194,194)" opacity="0.75"/><rect x="63.5" y="209.3" width="1.2" height="1.2" fill="rgb(142,142,142)" opacity="0.77"/><rect x="75.2" y="207.5" width="1.3" height="1.3" fill="rgb(140,140,140)" opacity="0.73"/><rect x="66.6" y="213.0" width="1.3" height="1.3" fill="rgb(189,189,189)" opacity="0.54"/><rect x="72.2" y="206.5" width="1.1" height="1.1" fill="rgb(176,176,176)" opacity="0.64"/><rect x="69.3" y="214.6" width="1.0" height="1.0" fill="rgb(123,123,123)" opacity="0.54"/><rect x="64.4" y="195.1" width="1.0" height="1.0" fill="rgb(128,128,128)" opacity="0.89"/><rect x="67.0" y="191.0" width="1.0" height="1.0" fill="rgb(191,191,191)" opacity="0.95"/><rect x="65.3" y="213.9" width="1.1" height="1.1" fill="rgb(111,111,111)" opacity="0.67"/><rect x="71.2" y="188.8" width="1.2" height="1.2" fill="rgb(190,190,190)" opacity="0.61"/><rect x="75.5" y="201.5" width="1.3" height="1.3" fill="rgb(110,110,110)" opacity="0.86"/><rect x="76.2" y="195.3" width="1.2" height="1.2" fill="rgb(192,192,192)" opacity="0.68"/><rect x="69.7" y="212.7" width="1.3" height="1.3" fill="rgb(192,192,192)" opacity="0.84"/><rect x="75.4" y="190.9" width="1.2" height="1.2" fill="rgb(168,168,168)" opacity="0.69"/><rect x="67.2" y="212.6" width="1.3" height="1.3" fill="rgb(141,141,141)" opacity="0.88"/><rect x="65.3" y="189.3" width="1.0" height="1.0" fill="rgb(164,164,164)" opacity="0.72"/><rect x="81.8" y="202.2" width="1.2" height="1.2" fill="rgb(194,194,194)" opacity="0.96"/><rect x="73.0" y="211.2" width="1.3" height="1.3" fill="rgb(159,159,159)" opacity="0.91"/><rect x="72.1" y="197.9" width="1.0" height="1.0" fill="rgb(137,137,137)" opacity="0.54"/><rect x="70.9" y="186.7" width="1.2" height="1.2" fill="rgb(122,122,122)" opacity="0.92"/><rect x="61.5" y="202.3" width="1.1" height="1.1" fill="rgb(112,112,112)" opacity="0.80"/><rect x="73.2" y="191.3" width="1.1" height="1.1" fill="rgb(168,168,168)" opacity="0.57"/><rect x="64.2" y="192.2" width="1.3" height="1.3" fill="rgb(125,125,125)" opacity="0.85"/><rect x="59.0" y="192.9" width="1.0" height="1.0" fill="rgb(158,158,158)" opacity="0.67"/><rect x="77.7" y="201.3" width="1.1" height="1.1" fill="rgb(199,199,199)" opacity="0.82"/><rect x="63.7" y="198.2" width="1.1" height="1.1" fill="rgb(161,161,161)" opacity="0.97"/><rect x="61.1" y="199.4" width="1.3" height="1.3" fill="rgb(160,160,160)" opacity="0.70"/><rect x="75.4" y="212.5" width="0.9" height="0.9" fill="rgb(191,191,191)" opacity="0.56"/><rect x="60.0" y="190.9" width="1.3" height="1.3" fill="rgb(128,128,128)" opacity="0.64"/><rect x="59.3" y="190.5" width="1.3" height="1.3" fill="rgb(169,169,169)" opacity="1.00"/><rect x="68.8" y="188.8" width="1.3" height="1.3" fill="rgb(170,170,170)" opacity="0.65"/><rect x="72.6" y="194.5" width="1.1" height="1.1" fill="rgb(142,142,142)" opacity="0.99"/><rect x="63.5" y="191.4" width="1.3" height="1.3" fill="rgb(145,145,145)" opacity="0.65"/><rect x="63.2" y="193.7" width="1.1" height="1.1" fill="rgb(189,189,189)" opacity="0.80"/><rect x="63.1" y="193.2" width="1.4" height="1.4" fill="rgb(159,159,159)" opacity="0.48"/><rect x="74.7" y="188.3" width="1.3" height="1.3" fill="rgb(127,127,127)" opacity="0.74"/><rect x="61.6" y="209.6" width="1.2" height="1.2" fill="rgb(136,136,136)" opacity="0.97"/><rect x="63.8" y="194.5" width="1.0" height="1.0" fill="rgb(128,128,128)" opacity="0.92"/><rect x="72.0" y="209.5" width="1.3" height="1.3" fill="rgb(136,136,136)" opacity="0.95"/><rect x="69.6" y="194.8" width="1.3" height="1.3" fill="rgb(187,187,187)" opacity="0.99"/><rect x="80.0" y="207.9" width="1.2" height="1.2" fill="rgb(191,191,191)" opacity="0.91"/><rect x="72.1" y="211.9" width="1.2" height="1.2" fill="rgb(166,166,166)" opacity="0.82"/><rect x="71.8" y="203.8" width="1.1" height="1.1" fill="rgb(127,127,127)" opacity="0.71"/><rect x="58.2" y="197.0" width="1.4" height="1.4" fill="rgb(199,199,199)" opacity="0.72"/><rect x="57.0" y="200.6" width="1.3" height="1.3" fill="rgb(110,110,110)" opacity="0.54"/><rect x="62.6" y="211.4" width="1.1" height="1.1" fill="rgb(147,147,147)" opacity="0.91"/><rect x="61.1" y="207.1" width="1.4" height="1.4" fill="rgb(119,119,119)" opacity="0.55"/>
<rect x="57.2" y="212.7" width="0.9" height="0.9" fill="rgb(85,85,85)" opacity="0.83"/><rect x="79.0" y="196.4" width="1.4" height="1.4" fill="rgb(145,145,145)" opacity="0.72"/><rect x="68.4" y="193.8" width="1.0" height="1.0" fill="rgb(133,133,133)" opacity="0.79"/><rect x="57.7" y="216.0" width="1.1" height="1.1" fill="rgb(140,140,140)" opacity="0.88"/><rect x="62.2" y="209.0" width="0.9" height="0.9" fill="rgb(117,117,117)" opacity="0.61"/><rect x="74.3" y="190.3" width="1.2" height="1.2" fill="rgb(114,114,114)" opacity="0.93"/><rect x="62.7" y="208.1" width="1.1" height="1.1" fill="rgb(95,95,95)" opacity="0.63"/><rect x="63.3" y="210.5" width="1.2" height="1.2" fill="rgb(91,91,91)" opacity="0.88"/><rect x="85.3" y="205.0" width="1.3" height="1.3" fill="rgb(149,149,149)" opacity="0.77"/><rect x="62.4" y="204.7" width="0.9" height="0.9" fill="rgb(140,140,140)" opacity="0.78"/><rect x="57.8" y="186.9" width="1.4" height="1.4" fill="rgb(128,128,128)" opacity="0.79"/><rect x="55.8" y="189.7" width="1.2" height="1.2" fill="rgb(90,90,90)" opacity="0.57"/><rect x="60.9" y="189.9" width="1.3" height="1.3" fill="rgb(92,92,92)" opacity="0.81"/><rect x="77.3" y="192.0" width="1.0" height="1.0" fill="rgb(81,81,81)" opacity="0.65"/><rect x="76.2" y="185.9" width="1.2" height="1.2" fill="rgb(113,113,113)" opacity="0.92"/><rect x="69.5" y="204.2" width="0.9" height="0.9" fill="rgb(86,86,86)" opacity="0.72"/><rect x="52.6" y="208.5" width="1.1" height="1.1" fill="rgb(88,88,88)" opacity="0.46"/><rect x="55.7" y="210.5" width="1.4" height="1.4" fill="rgb(99,99,99)" opacity="0.71"/><rect x="62.3" y="204.2" width="1.2" height="1.2" fill="rgb(107,107,107)" opacity="0.94"/><rect x="58.4" y="192.1" width="0.9" height="0.9" fill="rgb(95,95,95)" opacity="0.99"/><rect x="74.2" y="194.1" width="1.0" height="1.0" fill="rgb(140,140,140)" opacity="0.46"/><rect x="66.0" y="191.8" width="1.3" height="1.3" fill="rgb(103,103,103)" opacity="0.96"/><rect x="55.9" y="213.3" width="1.2" height="1.2" fill="rgb(98,98,98)" opacity="0.85"/><rect x="82.4" y="208.6" width="1.3" height="1.3" fill="rgb(138,138,138)" opacity="0.82"/><rect x="83.5" y="189.4" width="0.9" height="0.9" fill="rgb(84,84,84)" opacity="0.46"/><rect x="84.9" y="202.4" width="1.3" height="1.3" fill="rgb(90,90,90)" opacity="0.66"/><rect x="61.8" y="214.6" width="1.4" height="1.4" fill="rgb(142,142,142)" opacity="0.78"/><rect x="59.7" y="217.9" width="1.3" height="1.3" fill="rgb(140,140,140)" opacity="0.82"/><rect x="79.5" y="214.4" width="1.1" height="1.1" fill="rgb(100,100,100)" opacity="0.80"/><rect x="56.7" y="206.8" width="1.3" height="1.3" fill="rgb(114,114,114)" opacity="0.88"/><rect x="57.6" y="196.8" width="0.9" height="0.9" fill="rgb(122,122,122)" opacity="0.93"/><rect x="67.6" y="198.7" width="1.0" height="1.0" fill="rgb(119,119,119)" opacity="0.77"/><rect x="78.3" y="199.6" width="1.1" height="1.1" fill="rgb(128,128,128)" opacity="0.78"/><rect x="83.0" y="190.6" width="1.0" height="1.0" fill="rgb(80,80,80)" opacity="0.63"/><rect x="67.1" y="208.5" width="1.4" height="1.4" fill="rgb(85,85,85)" opacity="0.61"/><rect x="80.6" y="214.9" width="1.4" height="1.4" fill="rgb(98,98,98)" opacity="0.60"/><rect x="79.2" y="187.3" width="1.2" height="1.2" fill="rgb(143,143,143)" opacity="0.64"/><rect x="81.4" y="208.2" width="1.3" height="1.3" fill="rgb(105,105,105)" opacity="0.88"/><rect x="80.4" y="205.2" width="1.3" height="1.3" fill="rgb(112,112,112)" opacity="0.77"/><rect x="81.0" y="201.7" width="1.2" height="1.2" fill="rgb(148,148,148)" opacity="0.89"/><rect x="69.4" y="191.9" width="1.2" height="1.2" fill="rgb(113,113,113)" opacity="0.94"/><rect x="53.6" y="199.2" width="1.2" height="1.2" fill="rgb(104,104,104)" opacity="0.57"/><rect x="83.8" y="210.3" width="1.0" height="1.0" fill="rgb(125,125,125)" opacity="0.67"/><rect x="59.9" y="200.2" width="0.9" height="0.9" fill="rgb(143,143,143)" opacity="0.66"/><rect x="81.1" y="210.3" width="1.3" height="1.3" fill="rgb(99,99,99)" opacity="0.62"/><rect x="78.9" y="202.9" width="1.2" height="1.2" fill="rgb(92,92,92)" opacity="0.47"/><rect x="87.5" y="199.9" width="1.1" height="1.1" fill="rgb(107,107,107)" opacity="0.59"/><rect x="70.5" y="188.8" width="1.4" height="1.4" fill="rgb(96,96,96)" opacity="0.59"/><rect x="77.1" y="203.0" width="1.0" height="1.0" fill="rgb(90,90,90)" opacity="0.47"/><rect x="80.5" y="203.5" width="1.3" height="1.3" fill="rgb(142,142,142)" opacity="0.97"/><rect x="72.5" y="198.4" width="1.2" height="1.2" fill="rgb(130,130,130)" opacity="0.96"/><rect x="66.3" y="195.5" width="1.1" height="1.1" fill="rgb(109,109,109)" opacity="0.80"/><rect x="84.5" y="196.8" width="1.1" height="1.1" fill="rgb(137,137,137)" opacity="0.92"/><rect x="61.0" y="207.7" width="1.3" height="1.3" fill="rgb(102,102,102)" opacity="0.47"/><rect x="67.5" y="212.3" width="1.4" height="1.4" fill="rgb(83,83,83)" opacity="0.91"/><rect x="85.8" y="205.9" width="1.3" height="1.3" fill="rgb(141,141,141)" opacity="0.48"/><rect x="79.2" y="214.0" width="1.4" height="1.4" fill="rgb(118,118,118)" opacity="0.77"/><rect x="52.2" y="206.5" width="1.1" height="1.1" fill="rgb(127,127,127)" opacity="0.59"/><rect x="78.4" y="210.3" width="1.0" height="1.0" fill="rgb(110,110,110)" opacity="0.89"/><rect x="85.0" y="191.8" width="1.1" height="1.1" fill="rgb(104,104,104)" opacity="0.89"/><rect x="78.6" y="215.5" width="0.9" height="0.9" fill="rgb(127,127,127)" opacity="0.94"/><rect x="77.0" y="210.8" width="0.9" height="0.9" fill="rgb(129,129,129)" opacity="0.91"/><rect x="58.2" y="191.8" width="1.1" height="1.1" fill="rgb(109,109,109)" opacity="0.71"/><rect x="62.5" y="195.8" width="1.0" height="1.0" fill="rgb(87,87,87)" opacity="0.55"/><rect x="76.0" y="210.9" width="1.0" height="1.0" fill="rgb(83,83,83)" opacity="0.60"/><rect x="74.5" y="191.7" width="1.0" height="1.0" fill="rgb(142,142,142)" opacity="0.51"/><rect x="54.0" y="204.6" width="1.0" height="1.0" fill="rgb(145,145,145)" opacity="0.48"/><rect x="81.6" y="191.5" width="1.0" height="1.0" fill="rgb(141,141,141)" opacity="0.91"/><rect x="81.4" y="212.2" width="1.4" height="1.4" fill="rgb(135,135,135)" opacity="1.00"/><rect x="88.2" y="200.8" width="0.9" height="0.9" fill="rgb(117,117,117)" opacity="0.68"/><rect x="78.0" y="215.8" width="1.4" height="1.4" fill="rgb(98,98,98)" opacity="0.99"/><rect x="86.8" y="202.7" width="1.1" height="1.1" fill="rgb(97,97,97)" opacity="0.69"/><rect x="65.3" y="203.9" width="1.1" height="1.1" fill="rgb(115,115,115)" opacity="0.76"/><rect x="73.8" y="207.2" width="1.3" height="1.3" fill="rgb(102,102,102)" opacity="0.56"/><rect x="73.5" y="203.7" width="1.2" height="1.2" fill="rgb(143,143,143)" opacity="0.87"/><rect x="71.5" y="207.3" width="1.2" height="1.2" fill="rgb(104,104,104)" opacity="0.77"/><rect x="69.6" y="205.7" width="1.3" height="1.3" fill="rgb(132,132,132)" opacity="0.91"/><rect x="81.1" y="194.1" width="1.1" height="1.1" fill="rgb(116,116,116)" opacity="0.91"/><rect x="77.7" y="191.0" width="0.9" height="0.9" fill="rgb(141,141,141)" opacity="0.52"/><rect x="62.7" y="192.8" width="1.2" height="1.2" fill="rgb(126,126,126)" opacity="0.47"/><rect x="63.3" y="187.2" width="1.3" height="1.3" fill="rgb(125,125,125)" opacity="0.74"/><rect x="53.8" y="205.6" width="1.0" height="1.0" fill="rgb(111,111,111)" opacity="0.90"/><rect x="75.9" y="192.9" width="1.3" height="1.3" fill="rgb(128,128,128)" opacity="0.77"/><rect x="77.1" y="194.9" width="1.0" height="1.0" fill="rgb(143,143,143)" opacity="0.70"/><rect x="86.6" y="203.7" width="1.0" height="1.0" fill="rgb(111,111,111)" opacity="0.98"/><rect x="69.5" y="209.0" width="1.0" height="1.0" fill="rgb(112,112,112)" opacity="0.76"/><rect x="70.8" y="200.3" width="1.4" height="1.4" fill="rgb(104,104,104)" opacity="0.59"/><rect x="76.7" y="188.1" width="1.1" height="1.1" fill="rgb(110,110,110)" opacity="0.84"/><rect x="83.6" y="211.7" width="1.3" height="1.3" fill="rgb(85,85,85)" opacity="0.60"/><rect x="52.3" y="204.2" width="1.3" height="1.3" fill="rgb(94,94,94)" opacity="0.52"/><rect x="61.6" y="204.9" width="1.2" height="1.2" fill="rgb(109,109,109)" opacity="0.53"/><rect x="51.7" y="193.7" width="1.0" height="1.0" fill="rgb(82,82,82)" opacity="0.97"/><rect x="57.6" y="208.9" width="1.3" height="1.3" fill="rgb(147,147,147)" opacity="0.47"/><rect x="72.7" y="200.2" width="1.1" height="1.1" fill="rgb(131,131,131)" opacity="0.58"/><rect x="60.9" y="211.8" width="1.4" height="1.4" fill="rgb(121,121,121)" opacity="0.90"/><rect x="70.8" y="197.4" width="1.2" height="1.2" fill="rgb(125,125,125)" opacity="0.59"/><rect x="53.3" y="208.1" width="1.1" height="1.1" fill="rgb(147,147,147)" opacity="0.55"/><rect x="63.8" y="208.6" width="1.2" height="1.2" fill="rgb(108,108,108)" opacity="0.53"/><rect x="86.2" y="197.8" width="1.4" height="1.4" fill="rgb(85,85,85)" opacity="0.90"/><rect x="82.8" y="189.1" width="0.9" height="0.9" fill="rgb(114,114,114)" opacity="0.95"/><rect x="56.1" y="190.5" width="1.3" height="1.3" fill="rgb(84,84,84)" opacity="0.79"/><rect x="67.9" y="214.7" width="1.1" height="1.1" fill="rgb(85,85,85)" opacity="0.61"/><rect x="62.2" y="215.4" width="1.0" height="1.0" fill="rgb(145,145,145)" opacity="0.95"/><rect x="81.9" y="208.4" width="1.4" height="1.4" fill="rgb(136,136,136)" opacity="0.52"/><rect x="75.7" y="208.6" width="1.1" height="1.1" fill="rgb(116,116,116)" opacity="0.60"/>
</g></g>
<g clip-path="url(#ci1)"><g filter="url(#soft)">
<rect x="121.1" y="211.6" width="1" height="1" fill="rgb(73,73,73)" opacity="0.54"/><rect x="116.1" y="205.3" width="1" height="1" fill="rgb(79,79,79)" opacity="0.28"/><rect x="120.1" y="201.2" width="1" height="1" fill="rgb(90,90,90)" opacity="0.32"/><rect x="110.8" y="214.5" width="1" height="1" fill="rgb(56,56,56)" opacity="0.30"/><rect x="100.6" y="203.1" width="1" height="1" fill="rgb(79,79,79)" opacity="0.59"/><rect x="107.6" y="218.5" width="1" height="1" fill="rgb(65,65,65)" opacity="0.54"/><rect x="101.3" y="204.8" width="1" height="1" fill="rgb(86,86,86)" opacity="0.31"/><rect x="126.8" y="192.1" width="1" height="1" fill="rgb(58,58,58)" opacity="0.51"/><rect x="98.1" y="186.5" width="1" height="1" fill="rgb(77,77,77)" opacity="0.38"/><rect x="94.3" y="198.5" width="1" height="1" fill="rgb(83,83,83)" opacity="0.34"/><rect x="122.2" y="203.4" width="1" height="1" fill="rgb(64,64,64)" opacity="0.37"/><rect x="118.4" y="189.2" width="1" height="1" fill="rgb(67,67,67)" opacity="0.45"/><rect x="125.6" y="214.6" width="1" height="1" fill="rgb(88,88,88)" opacity="0.24"/><rect x="125.9" y="218.4" width="1" height="1" fill="rgb(85,85,85)" opacity="0.31"/><rect x="116.9" y="207.6" width="1" height="1" fill="rgb(63,63,63)" opacity="0.37"/><rect x="95.9" y="199.3" width="1" height="1" fill="rgb(90,90,90)" opacity="0.43"/><rect x="111.6" y="219.9" width="1" height="1" fill="rgb(91,91,91)" opacity="0.26"/><rect x="125.6" y="194.4" width="1" height="1" fill="rgb(94,94,94)" opacity="0.44"/><rect x="106.9" y="200.9" width="1" height="1" fill="rgb(84,84,84)" opacity="0.32"/><rect x="105.8" y="197.2" width="1" height="1" fill="rgb(88,88,88)" opacity="0.42"/><rect x="107.1" y="196.0" width="1" height="1" fill="rgb(86,86,86)" opacity="0.35"/><rect x="103.7" y="204.0" width="1" height="1" fill="rgb(64,64,64)" opacity="0.37"/><rect x="106.8" y="192.7" width="1" height="1" fill="rgb(76,76,76)" opacity="0.33"/><rect x="125.4" y="215.3" width="1" height="1" fill="rgb(75,75,75)" opacity="0.28"/><rect x="108.8" y="218.0" width="1" height="1" fill="rgb(55,55,55)" opacity="0.21"/><rect x="102.0" y="217.4" width="1" height="1" fill="rgb(74,74,74)" opacity="0.57"/><rect x="122.6" y="204.1" width="1" height="1" fill="rgb(82,82,82)" opacity="0.41"/><rect x="112.4" y="209.6" width="1" height="1" fill="rgb(79,79,79)" opacity="0.39"/><rect x="93.4" y="209.2" width="1" height="1" fill="rgb(83,83,83)" opacity="0.58"/><rect x="118.7" y="203.6" width="1" height="1" fill="rgb(61,61,61)" opacity="0.36"/><rect x="111.7" y="208.2" width="1" height="1" fill="rgb(91,91,91)" opacity="0.26"/><rect x="99.3" y="199.7" width="1" height="1" fill="rgb(80,80,80)" opacity="0.38"/><rect x="116.7" y="221.2" width="1" height="1" fill="rgb(76,76,76)" opacity="0.48"/><rect x="121.5" y="187.4" width="1" height="1" fill="rgb(78,78,78)" opacity="0.33"/><rect x="130.7" y="214.8" width="1" height="1" fill="rgb(87,87,87)" opacity="0.27"/><rect x="117.9" y="195.0" width="1" height="1" fill="rgb(76,76,76)" opacity="0.53"/><rect x="131.2" y="217.1" width="1" height="1" fill="rgb(81,81,81)" opacity="0.45"/><rect x="112.7" y="214.4" width="1" height="1" fill="rgb(68,68,68)" opacity="0.40"/><rect x="99.3" y="190.8" width="1" height="1" fill="rgb(95,95,95)" opacity="0.43"/><rect x="96.0" y="205.3" width="1" height="1" fill="rgb(95,95,95)" opacity="0.45"/><rect x="93.5" y="199.3" width="1" height="1" fill="rgb(55,55,55)" opacity="0.32"/><rect x="119.3" y="184.1" width="1" height="1" fill="rgb(74,74,74)" opacity="0.36"/><rect x="95.7" y="184.6" width="1" height="1" fill="rgb(56,56,56)" opacity="0.28"/><rect x="111.6" y="204.6" width="1" height="1" fill="rgb(72,72,72)" opacity="0.55"/><rect x="127.4" y="203.2" width="1" height="1" fill="rgb(64,64,64)" opacity="0.43"/><rect x="108.2" y="188.5" width="1" height="1" fill="rgb(65,65,65)" opacity="0.41"/><rect x="112.1" y="185.1" width="1" height="1" fill="rgb(59,59,59)" opacity="0.27"/><rect x="112.6" y="214.7" width="1" height="1" fill="rgb(94,94,94)" opacity="0.37"/><rect x="123.7" y="208.2" width="1" height="1" fill="rgb(92,92,92)" opacity="0.33"/><rect x="120.3" y="197.2" width="1" height="1" fill="rgb(65,65,65)" opacity="0.21"/><rect x="116.8" y="216.1" width="1" height="1" fill="rgb(92,92,92)" opacity="0.23"/><rect x="99.4" y="207.3" width="1" height="1" fill="rgb(56,56,56)" opacity="0.22"/><rect x="127.2" y="205.7" width="1" height="1" fill="rgb(57,57,57)" opacity="0.38"/><rect x="116.5" y="193.3" width="1" height="1" fill="rgb(57,57,57)" opacity="0.26"/><rect x="115.2" y="190.5" width="1" height="1" fill="rgb(55,55,55)" opacity="0.56"/><rect x="124.3" y="195.3" width="1" height="1" fill="rgb(93,93,93)" opacity="0.30"/><rect x="127.1" y="220.5" width="1" height="1" fill="rgb(59,59,59)" opacity="0.30"/><rect x="107.3" y="210.8" width="1" height="1" fill="rgb(69,69,69)" opacity="0.37"/><rect x="107.7" y="210.5" width="1" height="1" fill="rgb(56,56,56)" opacity="0.52"/><rect x="101.5" y="190.5" width="1" height="1" fill="rgb(77,77,77)" opacity="0.35"/><rect x="92.1" y="216.9" width="1" height="1" fill="rgb(80,80,80)" opacity="0.42"/><rect x="96.4" y="203.9" width="1" height="1" fill="rgb(79,79,79)" opacity="0.33"/><rect x="117.7" y="219.9" width="1" height="1" fill="rgb(82,82,82)" opacity="0.53"/><rect x="105.8" y="193.1" width="1" height="1" fill="rgb(67,67,67)" opacity="0.39"/><rect x="105.5" y="200.2" width="1" height="1" fill="rgb(72,72,72)" opacity="0.47"/><rect x="105.4" y="189.8" width="1" height="1" fill="rgb(63,63,63)" opacity="0.24"/><rect x="102.5" y="215.1" width="1" height="1" fill="rgb(63,63,63)" opacity="0.42"/><rect x="110.4" y="213.7" width="1" height="1" fill="rgb(70,70,70)" opacity="0.26"/><rect x="105.8" y="210.9" width="1" height="1" fill="rgb(79,79,79)" opacity="0.45"/><rect x="114.9" y="195.1" width="1" height="1" fill="rgb(85,85,85)" opacity="0.40"/><rect x="100.8" y="200.9" width="1" height="1" fill="rgb(63,63,63)" opacity="0.58"/><rect x="131.5" y="206.2" width="1" height="1" fill="rgb(83,83,83)" opacity="0.44"/><rect x="106.4" y="193.2" width="1" height="1" fill="rgb(93,93,93)" opacity="0.40"/><rect x="96.8" y="212.0" width="1" height="1" fill="rgb(87,87,87)" opacity="0.24"/><rect x="125.7" y="211.5" width="1" height="1" fill="rgb(79,79,79)" opacity="0.21"/><rect x="120.4" y="189.4" width="1" height="1" fill="rgb(55,55,55)" opacity="0.36"/><rect x="95.2" y="190.6" width="1" height="1" fill="rgb(69,69,69)" opacity="0.33"/><rect x="118.2" y="188.1" width="1" height="1" fill="rgb(90,90,90)" opacity="0.57"/><rect x="123.8" y="212.3" width="1" height="1" fill="rgb(67,67,67)" opacity="0.23"/><rect x="104.2" y="192.4" width="1" height="1" fill="rgb(63,63,63)" opacity="0.53"/><rect x="107.7" y="197.3" width="1" height="1" fill="rgb(84,84,84)" opacity="0.51"/><rect x="126.9" y="216.1" width="1" height="1" fill="rgb(63,63,63)" opacity="0.57"/><rect x="98.8" y="197.7" width="1" height="1" fill="rgb(77,77,77)" opacity="0.56"/><rect x="92.8" y="210.3" width="1" height="1" fill="rgb(84,84,84)" opacity="0.30"/><rect x="125.5" y="197.1" width="1" height="1" fill="rgb(95,95,95)" opacity="0.24"/><rect x="103.4" y="194.1" width="1" height="1" fill="rgb(93,93,93)" opacity="0.49"/><rect x="120.2" y="185.5" width="1" height="1" fill="rgb(57,57,57)" opacity="0.44"/><rect x="108.9" y="212.2" width="1" height="1" fill="rgb(64,64,64)" opacity="0.35"/><rect x="93.4" y="195.6" width="1" height="1" fill="rgb(95,95,95)" opacity="0.58"/><rect x="114.3" y="192.5" width="1" height="1" fill="rgb(86,86,86)" opacity="0.49"/>
<ellipse cx="101" cy="208.5" rx="5.5" ry="4.5" fill="#666" opacity="1" filter="url(#blurc)" transform="rotate(0 101 208.5)"/>
<ellipse cx="119.5" cy="199.5" rx="4.5" ry="4" fill="#6e6e6e" opacity="1" filter="url(#blurc)" transform="rotate(0 119.5 199.5)"/>
<rect x="100.9" y="212.1" width="1.2" height="1.2" fill="rgb(144,144,144)" opacity="0.96"/><rect x="105.7" y="211.6" width="1.2" height="1.2" fill="rgb(105,105,105)" opacity="0.93"/><rect x="96.0" y="206.2" width="1.4" height="1.4" fill="rgb(114,114,114)" opacity="0.47"/><rect x="98.4" y="212.9" width="1.1" height="1.1" fill="rgb(111,111,111)" opacity="0.68"/><rect x="100.7" y="203.0" width="1.2" height="1.2" fill="rgb(128,128,128)" opacity="0.60"/><rect x="106.8" y="211.4" width="1.1" height="1.1" fill="rgb(143,143,143)" opacity="0.83"/><rect x="100.5" y="203.5" width="1.2" height="1.2" fill="rgb(157,157,157)" opacity="0.73"/><rect x="99.6" y="206.3" width="1.2" height="1.2" fill="rgb(116,116,116)" opacity="0.72"/><rect x="103.5" y="213.5" width="1.3" height="1.3" fill="rgb(171,171,171)" opacity="0.59"/><rect x="94.4" y="206.9" width="1.2" height="1.2" fill="rgb(169,169,169)" opacity="0.59"/><rect x="103.8" y="208.0" width="1.1" height="1.1" fill="rgb(111,111,111)" opacity="0.56"/><rect x="100.0" y="210.4" width="1.3" height="1.3" fill="rgb(185,185,185)" opacity="0.72"/><rect x="100.9" y="208.1" width="1.2" height="1.2" fill="rgb(117,117,117)" opacity="0.96"/><rect x="98.7" y="210.9" width="1.3" height="1.3" fill="rgb(118,118,118)" opacity="0.77"/><rect x="101.3" y="212.9" width="1.0" height="1.0" fill="rgb(154,154,154)" opacity="0.87"/><rect x="103.8" y="212.4" width="1.2" height="1.2" fill="rgb(159,159,159)" opacity="0.91"/><rect x="98.4" y="209.9" width="1.2" height="1.2" fill="rgb(101,101,101)" opacity="0.65"/><rect x="101.5" y="209.8" width="1.0" height="1.0" fill="rgb(125,125,125)" opacity="0.51"/><rect x="98.5" y="213.5" width="1.0" height="1.0" fill="rgb(156,156,156)" opacity="0.71"/><rect x="99.1" y="210.2" width="0.9" height="0.9" fill="rgb(101,101,101)" opacity="0.71"/><rect x="105.8" y="208.0" width="1.3" height="1.3" fill="rgb(142,142,142)" opacity="0.99"/><rect x="98.9" y="207.8" width="1.1" height="1.1" fill="rgb(155,155,155)" opacity="0.72"/><rect x="101.8" y="205.5" width="1.1" height="1.1" fill="rgb(111,111,111)" opacity="0.80"/><rect x="96.3" y="204.7" width="1.2" height="1.2" fill="rgb(132,132,132)" opacity="0.81"/><rect x="106.3" y="210.7" width="0.9" height="0.9" fill="rgb(150,150,150)" opacity="0.91"/><rect x="100.1" y="210.8" width="1.2" height="1.2" fill="rgb(121,121,121)" opacity="0.51"/><rect x="100.2" y="205.5" width="1.2" height="1.2" fill="rgb(148,148,148)" opacity="0.55"/><rect x="102.8" y="205.7" width="1.1" height="1.1" fill="rgb(170,170,170)" opacity="0.96"/><rect x="102.8" y="206.1" width="0.9" height="0.9" fill="rgb(113,113,113)" opacity="0.76"/><rect x="96.6" y="204.9" width="1.3" height="1.3" fill="rgb(106,106,106)" opacity="0.97"/><rect x="96.1" y="208.6" width="1.0" height="1.0" fill="rgb(138,138,138)" opacity="0.78"/><rect x="99.2" y="207.0" width="1.0" height="1.0" fill="rgb(117,117,117)" opacity="0.69"/><rect x="103.1" y="208.2" width="0.9" height="0.9" fill="rgb(156,156,156)" opacity="0.71"/><rect x="101.8" y="211.8" width="0.9" height="0.9" fill="rgb(178,178,178)" opacity="0.92"/><rect x="102.0" y="205.0" width="1.0" height="1.0" fill="rgb(184,184,184)" opacity="0.48"/><rect x="99.4" y="203.5" width="0.9" height="0.9" fill="rgb(101,101,101)" opacity="0.82"/><rect x="104.1" y="203.9" width="1.0" height="1.0" fill="rgb(137,137,137)" opacity="0.45"/><rect x="102.9" y="204.2" width="1.2" height="1.2" fill="rgb(160,160,160)" opacity="0.50"/><rect x="98.9" y="211.8" width="1.4" height="1.4" fill="rgb(180,180,180)" opacity="0.93"/><rect x="107.8" y="207.6" width="1.2" height="1.2" fill="rgb(107,107,107)" opacity="0.85"/><rect x="98.2" y="212.4" width="1.2" height="1.2" fill="rgb(153,153,153)" opacity="0.97"/><rect x="95.4" y="209.0" width="1.0" height="1.0" fill="rgb(143,143,143)" opacity="0.74"/><rect x="96.7" y="204.7" width="1.0" height="1.0" fill="rgb(157,157,157)" opacity="0.83"/><rect x="104.2" y="211.8" width="1.2" height="1.2" fill="rgb(153,153,153)" opacity="0.65"/><rect x="101.3" y="212.1" width="1.0" height="1.0" fill="rgb(129,129,129)" opacity="0.55"/>
<rect x="122.6" y="197.1" width="1.0" height="1.0" fill="rgb(142,142,142)" opacity="0.81"/><rect x="121.2" y="203.3" width="1.3" height="1.3" fill="rgb(139,139,139)" opacity="0.75"/><rect x="120.1" y="203.2" width="1.0" height="1.0" fill="rgb(175,175,175)" opacity="0.95"/><rect x="114.9" y="197.6" width="1.2" height="1.2" fill="rgb(166,166,166)" opacity="0.52"/><rect x="115.6" y="199.4" width="1.3" height="1.3" fill="rgb(124,124,124)" opacity="0.79"/><rect x="123.3" y="198.6" width="1.1" height="1.1" fill="rgb(160,160,160)" opacity="0.75"/><rect x="121.9" y="199.1" width="1.1" height="1.1" fill="rgb(121,121,121)" opacity="0.53"/><rect x="119.7" y="198.3" width="1.0" height="1.0" fill="rgb(157,157,157)" opacity="0.47"/><rect x="117.9" y="194.8" width="1.1" height="1.1" fill="rgb(125,125,125)" opacity="0.84"/><rect x="114.9" y="201.6" width="1.2" height="1.2" fill="rgb(135,135,135)" opacity="0.76"/><rect x="124.0" y="197.2" width="1.0" height="1.0" fill="rgb(153,153,153)" opacity="0.89"/><rect x="119.4" y="199.0" width="1.0" height="1.0" fill="rgb(140,140,140)" opacity="0.66"/><rect x="119.1" y="194.6" width="1.3" height="1.3" fill="rgb(115,115,115)" opacity="0.90"/><rect x="117.5" y="201.9" width="1.1" height="1.1" fill="rgb(187,187,187)" opacity="0.51"/><rect x="123.5" y="197.6" width="1.0" height="1.0" fill="rgb(134,134,134)" opacity="0.83"/><rect x="124.9" y="200.2" width="1.1" height="1.1" fill="rgb(112,112,112)" opacity="0.72"/><rect x="122.0" y="200.6" width="1.0" height="1.0" fill="rgb(147,147,147)" opacity="0.93"/><rect x="117.1" y="195.5" width="1.2" height="1.2" fill="rgb(142,142,142)" opacity="0.75"/><rect x="117.7" y="195.3" width="1.4" height="1.4" fill="rgb(111,111,111)" opacity="0.46"/><rect x="123.3" y="199.4" width="1.1" height="1.1" fill="rgb(114,114,114)" opacity="0.89"/><rect x="121.8" y="200.0" width="1.3" height="1.3" fill="rgb(186,186,186)" opacity="0.67"/><rect x="117.3" y="199.8" width="1.3" height="1.3" fill="rgb(160,160,160)" opacity="0.58"/><rect x="123.3" y="198.6" width="1.1" height="1.1" fill="rgb(177,177,177)" opacity="0.57"/><rect x="122.8" y="197.1" width="0.9" height="0.9" fill="rgb(131,131,131)" opacity="0.90"/><rect x="119.0" y="196.7" width="1.1" height="1.1" fill="rgb(155,155,155)" opacity="0.62"/><rect x="117.5" y="202.5" width="1.0" height="1.0" fill="rgb(141,141,141)" opacity="0.70"/><rect x="120.7" y="199.4" width="1.0" height="1.0" fill="rgb(195,195,195)" opacity="0.53"/><rect x="118.5" y="200.3" width="1.4" height="1.4" fill="rgb(155,155,155)" opacity="0.76"/><rect x="114.2" y="198.6" width="1.4" height="1.4" fill="rgb(114,114,114)" opacity="0.95"/><rect x="120.9" y="198.6" width="1.0" height="1.0" fill="rgb(164,164,164)" opacity="0.80"/><rect x="117.3" y="197.2" width="1.0" height="1.0" fill="rgb(140,140,140)" opacity="0.93"/><rect x="123.7" y="197.9" width="1.1" height="1.1" fill="rgb(153,153,153)" opacity="0.86"/><rect x="115.1" y="199.3" width="1.1" height="1.1" fill="rgb(180,180,180)" opacity="0.84"/><rect x="117.2" y="203.1" width="1.2" height="1.2" fill="rgb(171,171,171)" opacity="0.73"/><rect x="123.4" y="196.7" width="1.4" height="1.4" fill="rgb(129,129,129)" opacity="0.52"/><rect x="124.6" y="199.7" width="1.1" height="1.1" fill="rgb(167,167,167)" opacity="0.67"/><rect x="120.2" y="194.7" width="1.2" height="1.2" fill="rgb(128,128,128)" opacity="0.62"/><rect x="117.8" y="203.5" width="1.2" height="1.2" fill="rgb(153,153,153)" opacity="0.49"/><rect x="121.4" y="204.0" width="1.2" height="1.2" fill="rgb(148,148,148)" opacity="0.77"/><rect x="122.8" y="199.3" width="1.3" height="1.3" fill="rgb(164,164,164)" opacity="0.85"/>
</g></g>
<g clip-path="url(#ci2)"><g filter="url(#soft)">
<rect x="170.8" y="215.3" width="1" height="1" fill="rgb(75,75,75)" opacity="0.56"/><rect x="145.2" y="193.6" width="1" height="1" fill="rgb(56,56,56)" opacity="0.50"/><rect x="159.1" y="192.8" width="1" height="1" fill="rgb(56,56,56)" opacity="0.29"/><rect x="150.1" y="191.5" width="1" height="1" fill="rgb(93,93,93)" opacity="0.31"/><rect x="154.1" y="187.7" width="1" height="1" fill="rgb(70,70,70)" opacity="0.49"/><rect x="172.4" y="206.4" width="1" height="1" fill="rgb(60,60,60)" opacity="0.23"/><rect x="166.6" y="205.5" width="1" height="1" fill="rgb(63,63,63)" opacity="0.20"/><rect x="144.9" y="208.0" width="1" height="1" fill="rgb(55,55,55)" opacity="0.46"/><rect x="170.8" y="191.9" width="1" height="1" fill="rgb(75,75,75)" opacity="0.55"/><rect x="135.3" y="202.1" width="1" height="1" fill="rgb(94,94,94)" opacity="0.47"/><rect x="147.6" y="186.1" width="1" height="1" fill="rgb(81,81,81)" opacity="0.52"/><rect x="137.7" y="206.9" width="1" height="1" fill="rgb(86,86,86)" opacity="0.60"/><rect x="150.1" y="219.1" width="1" height="1" fill="rgb(55,55,55)" opacity="0.21"/><rect x="146.8" y="208.4" width="1" height="1" fill="rgb(75,75,75)" opacity="0.22"/><rect x="158.6" y="211.0" width="1" height="1" fill="rgb(76,76,76)" opacity="0.26"/><rect x="134.9" y="191.9" width="1" height="1" fill="rgb(88,88,88)" opacity="0.51"/><rect x="137.8" y="214.4" width="1" height="1" fill="rgb(82,82,82)" opacity="0.34"/><rect x="161.2" y="216.3" width="1" height="1" fill="rgb(64,64,64)" opacity="0.46"/><rect x="158.1" y="196.3" width="1" height="1" fill="rgb(94,94,94)" opacity="0.30"/><rect x="162.4" y="212.5" width="1" height="1" fill="rgb(74,74,74)" opacity="0.46"/><rect x="156.0" y="210.3" width="1" height="1" fill="rgb(90,90,90)" opacity="0.31"/><rect x="155.0" y="219.1" width="1" height="1" fill="rgb(63,63,63)" opacity="0.30"/><rect x="156.4" y="187.7" width="1" height="1" fill="rgb(78,78,78)" opacity="0.26"/><rect x="159.2" y="199.0" width="1" height="1" fill="rgb(60,60,60)" opacity="0.57"/><rect x="159.0" y="188.6" width="1" height="1" fill="rgb(89,89,89)" opacity="0.40"/><rect x="156.2" y="190.8" width="1" height="1" fill="rgb(93,93,93)" opacity="0.35"/><rect x="140.1" y="190.6" width="1" height="1" fill="rgb(65,65,65)" opacity="0.41"/><rect x="148.1" y="210.5" width="1" height="1" fill="rgb(83,83,83)" opacity="0.59"/><rect x="154.0" y="207.7" width="1" height="1" fill="rgb(77,77,77)" opacity="0.56"/><rect x="149.6" y="191.9" width="1" height="1" fill="rgb(56,56,56)" opacity="0.24"/><rect x="163.3" y="186.4" width="1" height="1" fill="rgb(80,80,80)" opacity="0.47"/><rect x="148.1" y="192.5" width="1" height="1" fill="rgb(79,79,79)" opacity="0.36"/><rect x="170.7" y="219.2" width="1" height="1" fill="rgb(95,95,95)" opacity="0.54"/><rect x="135.4" y="184.8" width="1" height="1" fill="rgb(82,82,82)" opacity="0.30"/><rect x="148.3" y="196.2" width="1" height="1" fill="rgb(82,82,82)" opacity="0.46"/><rect x="146.0" y="221.1" width="1" height="1" fill="rgb(68,68,68)" opacity="0.59"/><rect x="165.6" y="201.8" width="1" height="1" fill="rgb(72,72,72)" opacity="0.58"/><rect x="139.6" y="195.2" width="1" height="1" fill="rgb(60,60,60)" opacity="0.33"/><rect x="153.5" y="217.2" width="1" height="1" fill="rgb(65,65,65)" opacity="0.33"/><rect x="158.4" y="219.7" width="1" height="1" fill="rgb(68,68,68)" opacity="0.43"/><rect x="169.2" y="191.8" width="1" height="1" fill="rgb(78,78,78)" opacity="0.22"/><rect x="164.9" y="200.4" width="1" height="1" fill="rgb(82,82,82)" opacity="0.55"/><rect x="173.7" y="195.1" width="1" height="1" fill="rgb(56,56,56)" opacity="0.52"/><rect x="140.2" y="218.0" width="1" height="1" fill="rgb(63,63,63)" opacity="0.56"/><rect x="140.2" y="211.5" width="1" height="1" fill="rgb(61,61,61)" opacity="0.50"/><rect x="152.6" y="198.8" width="1" height="1" fill="rgb(81,81,81)" opacity="0.34"/><rect x="170.7" y="210.7" width="1" height="1" fill="rgb(76,76,76)" opacity="0.59"/><rect x="135.5" y="192.8" width="1" height="1" fill="rgb(95,95,95)" opacity="0.48"/><rect x="135.7" y="202.8" width="1" height="1" fill="rgb(69,69,69)" opacity="0.43"/><rect x="161.9" y="211.2" width="1" height="1" fill="rgb(58,58,58)" opacity="0.60"/><rect x="146.8" y="216.8" width="1" height="1" fill="rgb(62,62,62)" opacity="0.58"/><rect x="172.7" y="203.6" width="1" height="1" fill="rgb(55,55,55)" opacity="0.27"/><rect x="161.4" y="189.5" width="1" height="1" fill="rgb(89,89,89)" opacity="0.40"/><rect x="138.7" y="197.2" width="1" height="1" fill="rgb(86,86,86)" opacity="0.58"/><rect x="137.3" y="220.2" width="1" height="1" fill="rgb(69,69,69)" opacity="0.49"/><rect x="145.0" y="190.6" width="1" height="1" fill="rgb(71,71,71)" opacity="0.31"/><rect x="172.6" y="191.3" width="1" height="1" fill="rgb(58,58,58)" opacity="0.36"/><rect x="156.3" y="197.5" width="1" height="1" fill="rgb(55,55,55)" opacity="0.33"/><rect x="135.8" y="200.9" width="1" height="1" fill="rgb(73,73,73)" opacity="0.42"/><rect x="161.6" y="220.6" width="1" height="1" fill="rgb(72,72,72)" opacity="0.36"/><rect x="146.8" y="199.6" width="1" height="1" fill="rgb(64,64,64)" opacity="0.35"/><rect x="149.5" y="199.3" width="1" height="1" fill="rgb(64,64,64)" opacity="0.56"/><rect x="159.4" y="192.9" width="1" height="1" fill="rgb(87,87,87)" opacity="0.57"/><rect x="144.3" y="206.8" width="1" height="1" fill="rgb(79,79,79)" opacity="0.60"/><rect x="167.0" y="208.7" width="1" height="1" fill="rgb(60,60,60)" opacity="0.54"/><rect x="165.3" y="217.9" width="1" height="1" fill="rgb(58,58,58)" opacity="0.36"/><rect x="156.4" y="209.5" width="1" height="1" fill="rgb(83,83,83)" opacity="0.42"/><rect x="146.7" y="220.2" width="1" height="1" fill="rgb(55,55,55)" opacity="0.39"/><rect x="159.9" y="201.6" width="1" height="1" fill="rgb(76,76,76)" opacity="0.44"/><rect x="173.7" y="192.7" width="1" height="1" fill="rgb(95,95,95)" opacity="0.52"/><rect x="168.7" y="197.2" width="1" height="1" fill="rgb(59,59,59)" opacity="0.36"/><rect x="155.1" y="206.9" width="1" height="1" fill="rgb(75,75,75)" opacity="0.23"/><rect x="165.9" y="208.8" width="1" height="1" fill="rgb(94,94,94)" opacity="0.51"/><rect x="144.6" y="215.4" width="1" height="1" fill="rgb(77,77,77)" opacity="0.41"/><rect x="153.1" y="192.3" width="1" height="1" fill="rgb(64,64,64)" opacity="0.23"/><rect x="164.3" y="197.6" width="1" height="1" fill="rgb(68,68,68)" opacity="0.41"/><rect x="166.5" y="192.9" width="1" height="1" fill="rgb(66,66,66)" opacity="0.26"/><rect x="160.5" y="190.6" width="1" height="1" fill="rgb(57,57,57)" opacity="0.33"/><rect x="148.6" y="216.2" width="1" height="1" fill="rgb(82,82,82)" opacity="0.25"/><rect x="140.3" y="193.4" width="1" height="1" fill="rgb(61,61,61)" opacity="0.35"/><rect x="160.5" y="203.5" width="1" height="1" fill="rgb(74,74,74)" opacity="0.38"/><rect x="137.7" y="198.8" width="1" height="1" fill="rgb(83,83,83)" opacity="0.48"/><rect x="152.0" y="201.8" width="1" height="1" fill="rgb(66,66,66)" opacity="0.50"/><rect x="140.2" y="209.4" width="1" height="1" fill="rgb(78,78,78)" opacity="0.40"/><rect x="160.4" y="207.2" width="1" height="1" fill="rgb(88,88,88)" opacity="0.34"/><rect x="149.3" y="184.7" width="1" height="1" fill="rgb(67,67,67)" opacity="0.20"/><rect x="144.5" y="206.0" width="1" height="1" fill="rgb(74,74,74)" opacity="0.49"/><rect x="145.1" y="196.1" width="1" height="1" fill="rgb(70,70,70)" opacity="0.31"/><rect x="151.6" y="203.6" width="1" height="1" fill="rgb(86,86,86)" opacity="0.54"/><rect x="142.2" y="199.8" width="1" height="1" fill="rgb(73,73,73)" opacity="0.45"/>
<ellipse cx="154.5" cy="198.5" rx="4.5" ry="5.5" fill="#646464" opacity="1" filter="url(#blurc)" transform="rotate(0 154.5 198.5)"/>
<rect x="153.7" y="199.6" width="1.1" height="1.1" fill="rgb(146,146,146)" opacity="0.47"/><rect x="154.6" y="191.6" width="1.1" height="1.1" fill="rgb(177,177,177)" opacity="0.90"/><rect x="152.5" y="202.0" width="1.2" height="1.2" fill="rgb(179,179,179)" opacity="0.56"/><rect x="159.1" y="197.4" width="1.1" height="1.1" fill="rgb(185,185,185)" opacity="0.56"/><rect x="155.5" y="197.0" width="1.1" height="1.1" fill="rgb(150,150,150)" opacity="0.74"/><rect x="149.3" y="198.6" width="1.3" height="1.3" fill="rgb(103,103,103)" opacity="0.51"/><rect x="149.6" y="195.9" width="1.3" height="1.3" fill="rgb(155,155,155)" opacity="0.68"/><rect x="149.4" y="199.6" width="1.1" height="1.1" fill="rgb(162,162,162)" opacity="0.52"/><rect x="154.5" y="197.8" width="1.0" height="1.0" fill="rgb(125,125,125)" opacity="0.67"/><rect x="158.9" y="200.0" width="1.2" height="1.2" fill="rgb(149,149,149)" opacity="0.87"/><rect x="156.4" y="200.7" width="0.9" height="0.9" fill="rgb(101,101,101)" opacity="0.51"/><rect x="158.6" y="201.7" width="1.2" height="1.2" fill="rgb(107,107,107)" opacity="0.90"/><rect x="155.5" y="202.4" width="1.3" height="1.3" fill="rgb(170,170,170)" opacity="0.83"/><rect x="150.8" y="201.1" width="1.4" height="1.4" fill="rgb(106,106,106)" opacity="0.93"/><rect x="156.4" y="201.7" width="1.2" height="1.2" fill="rgb(100,100,100)" opacity="0.55"/><rect x="150.7" y="197.3" width="0.9" height="0.9" fill="rgb(149,149,149)" opacity="0.59"/><rect x="157.1" y="194.5" width="1.2" height="1.2" fill="rgb(153,153,153)" opacity="0.82"/><rect x="153.5" y="201.8" width="1.1" height="1.1" fill="rgb(155,155,155)" opacity="0.92"/><rect x="154.4" y="201.6" width="0.9" height="0.9" fill="rgb(168,168,168)" opacity="0.81"/><rect x="158.6" y="196.2" width="1.3" height="1.3" fill="rgb(118,118,118)" opacity="0.65"/><rect x="155.3" y="195.5" width="1.4" height="1.4" fill="rgb(171,171,171)" opacity="0.82"/><rect x="154.4" y="197.9" width="0.9" height="0.9" fill="rgb(172,172,172)" opacity="0.90"/><rect x="157.0" y="199.2" width="1.1" height="1.1" fill="rgb(125,125,125)" opacity="0.84"/><rect x="155.9" y="193.4" width="1.1" height="1.1" fill="rgb(156,156,156)" opacity="0.56"/><rect x="155.2" y="201.3" width="1.3" height="1.3" fill="rgb(115,115,115)" opacity="0.48"/><rect x="155.5" y="197.1" width="1.2" height="1.2" fill="rgb(123,123,123)" opacity="0.46"/><rect x="153.7" y="192.6" width="1.0" height="1.0" fill="rgb(128,128,128)" opacity="0.82"/><rect x="153.1" y="195.1" width="1.0" height="1.0" fill="rgb(120,120,120)" opacity="0.53"/><rect x="156.7" y="196.9" width="1.0" height="1.0" fill="rgb(112,112,112)" opacity="0.56"/><rect x="155.5" y="199.4" width="1.0" height="1.0" fill="rgb(132,132,132)" opacity="0.84"/><rect x="151.1" y="200.1" width="1.3" height="1.3" fill="rgb(189,189,189)" opacity="0.52"/><rect x="156.5" y="202.5" width="1.3" height="1.3" fill="rgb(174,174,174)" opacity="0.89"/><rect x="153.3" y="192.8" width="1.1" height="1.1" fill="rgb(133,133,133)" opacity="0.63"/><rect x="155.7" y="196.2" width="1.3" height="1.3" fill="rgb(129,129,129)" opacity="0.67"/><rect x="157.8" y="199.4" width="1.2" height="1.2" fill="rgb(128,128,128)" opacity="0.81"/><rect x="153.7" y="195.6" width="1.0" height="1.0" fill="rgb(123,123,123)" opacity="0.69"/><rect x="153.7" y="196.4" width="1.3" height="1.3" fill="rgb(115,115,115)" opacity="0.81"/><rect x="155.6" y="204.0" width="1.2" height="1.2" fill="rgb(109,109,109)" opacity="0.61"/><rect x="151.7" y="203.5" width="1.1" height="1.1" fill="rgb(111,111,111)" opacity="0.56"/><rect x="153.9" y="202.3" width="1.2" height="1.2" fill="rgb(111,111,111)" opacity="0.56"/><rect x="149.8" y="199.6" width="1.3" height="1.3" fill="rgb(129,129,129)" opacity="0.77"/><rect x="153.2" y="203.6" width="1.0" height="1.0" fill="rgb(100,100,100)" opacity="0.64"/><rect x="158.7" y="196.6" width="0.9" height="0.9" fill="rgb(142,142,142)" opacity="0.64"/><rect x="151.4" y="199.0" width="1.1" height="1.1" fill="rgb(114,114,114)" opacity="0.88"/><rect x="154.1" y="200.3" width="1.2" height="1.2" fill="rgb(112,112,112)" opacity="0.86"/><rect x="156.2" y="200.3" width="1.1" height="1.1" fill="rgb(104,104,104)" opacity="0.47"/><rect x="152.8" y="198.3" width="1.2" height="1.2" fill="rgb(116,116,116)" opacity="0.68"/><rect x="155.3" y="196.9" width="1.3" height="1.3" fill="rgb(120,120,120)" opacity="0.65"/><rect x="153.6" y="196.7" width="0.9" height="0.9" fill="rgb(182,182,182)" opacity="0.93"/><rect x="152.4" y="198.8" width="0.9" height="0.9" fill="rgb(130,130,130)" opacity="0.51"/>
</g></g>
<g clip-path="url(#ci3)"><g filter="url(#soft)">
<rect x="199.8" y="204.0" width="1" height="1" fill="rgb(62,62,62)" opacity="0.33"/><rect x="189.9" y="205.2" width="1" height="1" fill="rgb(57,57,57)" opacity="0.40"/><rect x="194.7" y="191.4" width="1" height="1" fill="rgb(80,80,80)" opacity="0.42"/><rect x="219.3" y="217.9" width="1" height="1" fill="rgb(89,89,89)" opacity="0.40"/><rect x="215.5" y="184.6" width="1" height="1" fill="rgb(58,58,58)" opacity="0.40"/><rect x="211.5" y="205.3" width="1" height="1" fill="rgb(99,99,99)" opacity="0.50"/><rect x="183.6" y="190.4" width="1" height="1" fill="rgb(71,71,71)" opacity="0.60"/><rect x="197.0" y="207.3" width="1" height="1" fill="rgb(62,62,62)" opacity="0.32"/><rect x="215.5" y="187.1" width="1" height="1" fill="rgb(92,92,92)" opacity="0.29"/><rect x="189.8" y="212.9" width="1" height="1" fill="rgb(87,87,87)" opacity="0.48"/><rect x="182.7" y="193.2" width="1" height="1" fill="rgb(93,93,93)" opacity="0.33"/><rect x="184.1" y="192.0" width="1" height="1" fill="rgb(99,99,99)" opacity="0.27"/><rect x="192.2" y="187.1" width="1" height="1" fill="rgb(84,84,84)" opacity="0.44"/><rect x="187.4" y="195.8" width="1" height="1" fill="rgb(81,81,81)" opacity="0.51"/><rect x="181.5" y="213.4" width="1" height="1" fill="rgb(64,64,64)" opacity="0.49"/><rect x="207.1" y="189.6" width="1" height="1" fill="rgb(77,77,77)" opacity="0.51"/><rect x="188.3" y="218.5" width="1" height="1" fill="rgb(98,98,98)" opacity="0.33"/><rect x="218.8" y="221.2" width="1" height="1" fill="rgb(85,85,85)" opacity="0.22"/><rect x="201.0" y="196.3" width="1" height="1" fill="rgb(59,59,59)" opacity="0.50"/><rect x="205.4" y="191.4" width="1" height="1" fill="rgb(95,95,95)" opacity="0.22"/><rect x="194.7" y="199.3" width="1" height="1" fill="rgb(96,96,96)" opacity="0.49"/><rect x="194.0" y="190.1" width="1" height="1" fill="rgb(86,86,86)" opacity="0.47"/><rect x="209.7" y="189.0" width="1" height="1" fill="rgb(99,99,99)" opacity="0.57"/><rect x="216.0" y="211.8" width="1" height="1" fill="rgb(98,98,98)" opacity="0.44"/><rect x="197.4" y="214.8" width="1" height="1" fill="rgb(87,87,87)" opacity="0.32"/><rect x="218.3" y="203.8" width="1" height="1" fill="rgb(95,95,95)" opacity="0.25"/><rect x="218.6" y="213.4" width="1" height="1" fill="rgb(71,71,71)" opacity="0.50"/><rect x="213.8" y="193.0" width="1" height="1" fill="rgb(92,92,92)" opacity="0.38"/><rect x="189.6" y="202.4" width="1" height="1" fill="rgb(98,98,98)" opacity="0.56"/><rect x="182.2" y="208.8" width="1" height="1" fill="rgb(80,80,80)" opacity="0.52"/><rect x="207.2" y="219.1" width="1" height="1" fill="rgb(79,79,79)" opacity="0.36"/><rect x="183.6" y="208.3" width="1" height="1" fill="rgb(76,76,76)" opacity="0.47"/><rect x="216.0" y="199.9" width="1" height="1" fill="rgb(74,74,74)" opacity="0.20"/><rect x="199.6" y="184.6" width="1" height="1" fill="rgb(62,62,62)" opacity="0.55"/><rect x="199.0" y="199.3" width="1" height="1" fill="rgb(74,74,74)" opacity="0.38"/><rect x="193.5" y="192.0" width="1" height="1" fill="rgb(77,77,77)" opacity="0.36"/><rect x="198.7" y="185.2" width="1" height="1" fill="rgb(76,76,76)" opacity="0.24"/><rect x="190.9" y="210.2" width="1" height="1" fill="rgb(83,83,83)" opacity="0.36"/><rect x="201.5" y="193.0" width="1" height="1" fill="rgb(68,68,68)" opacity="0.47"/><rect x="181.8" y="214.7" width="1" height="1" fill="rgb(66,66,66)" opacity="0.36"/><rect x="193.4" y="189.6" width="1" height="1" fill="rgb(65,65,65)" opacity="0.29"/><rect x="215.4" y="206.8" width="1" height="1" fill="rgb(80,80,80)" opacity="0.32"/><rect x="192.8" y="216.7" width="1" height="1" fill="rgb(93,93,93)" opacity="0.28"/><rect x="213.1" y="190.1" width="1" height="1" fill="rgb(88,88,88)" opacity="0.20"/><rect x="214.0" y="187.9" width="1" height="1" fill="rgb(70,70,70)" opacity="0.38"/><rect x="212.3" y="193.4" width="1" height="1" fill="rgb(77,77,77)" opacity="0.47"/><rect x="219.2" y="211.4" width="1" height="1" fill="rgb(87,87,87)" opacity="0.47"/><rect x="185.5" y="212.1" width="1" height="1" fill="rgb(71,71,71)" opacity="0.47"/><rect x="183.2" y="207.3" width="1" height="1" fill="rgb(83,83,83)" opacity="0.31"/><rect x="191.9" y="195.4" width="1" height="1" fill="rgb(100,100,100)" opacity="0.45"/><rect x="195.1" y="203.5" width="1" height="1" fill="rgb(98,98,98)" opacity="0.22"/><rect x="206.1" y="202.4" width="1" height="1" fill="rgb(99,99,99)" opacity="0.59"/><rect x="182.5" y="215.1" width="1" height="1" fill="rgb(98,98,98)" opacity="0.25"/><rect x="195.1" y="195.6" width="1" height="1" fill="rgb(87,87,87)" opacity="0.56"/><rect x="209.1" y="212.0" width="1" height="1" fill="rgb(57,57,57)" opacity="0.58"/><rect x="199.3" y="184.3" width="1" height="1" fill="rgb(72,72,72)" opacity="0.26"/><rect x="203.5" y="205.5" width="1" height="1" fill="rgb(57,57,57)" opacity="0.60"/><rect x="187.1" y="206.0" width="1" height="1" fill="rgb(72,72,72)" opacity="0.45"/><rect x="189.8" y="212.8" width="1" height="1" fill="rgb(56,56,56)" opacity="0.37"/><rect x="218.9" y="208.2" width="1" height="1" fill="rgb(98,98,98)" opacity="0.46"/><rect x="199.7" y="220.4" width="1" height="1" fill="rgb(78,78,78)" opacity="0.48"/><rect x="191.2" y="190.0" width="1" height="1" fill="rgb(91,91,91)" opacity="0.40"/><rect x="182.1" y="203.9" width="1" height="1" fill="rgb(63,63,63)" opacity="0.28"/><rect x="212.2" y="186.3" width="1" height="1" fill="rgb(74,74,74)" opacity="0.50"/><rect x="187.0" y="195.6" width="1" height="1" fill="rgb(58,58,58)" opacity="0.43"/><rect x="218.7" y="213.0" width="1" height="1" fill="rgb(78,78,78)" opacity="0.58"/><rect x="187.6" y="195.5" width="1" height="1" fill="rgb(85,85,85)" opacity="0.28"/><rect x="192.9" y="200.3" width="1" height="1" fill="rgb(61,61,61)" opacity="0.47"/><rect x="194.5" y="195.9" width="1" height="1" fill="rgb(85,85,85)" opacity="0.31"/><rect x="188.3" y="217.9" width="1" height="1" fill="rgb(83,83,83)" opacity="0.40"/><rect x="196.4" y="190.0" width="1" height="1" fill="rgb(75,75,75)" opacity="0.22"/><rect x="191.2" y="204.0" width="1" height="1" fill="rgb(97,97,97)" opacity="0.42"/><rect x="206.8" y="212.1" width="1" height="1" fill="rgb(72,72,72)" opacity="0.36"/><rect x="208.6" y="198.8" width="1" height="1" fill="rgb(73,73,73)" opacity="0.54"/><rect x="185.0" y="200.8" width="1" height="1" fill="rgb(55,55,55)" opacity="0.22"/><rect x="212.9" y="205.1" width="1" height="1" fill="rgb(77,77,77)" opacity="0.44"/><rect x="194.4" y="220.6" width="1" height="1" fill="rgb(59,59,59)" opacity="0.55"/><rect x="184.0" y="206.5" width="1" height="1" fill="rgb(81,81,81)" opacity="0.53"/><rect x="208.4" y="218.7" width="1" height="1" fill="rgb(65,65,65)" opacity="0.46"/><rect x="218.5" y="207.6" width="1" height="1" fill="rgb(99,99,99)" opacity="0.25"/><rect x="196.2" y="215.4" width="1" height="1" fill="rgb(76,76,76)" opacity="0.36"/><rect x="200.0" y="196.6" width="1" height="1" fill="rgb(66,66,66)" opacity="0.48"/><rect x="185.9" y="211.4" width="1" height="1" fill="rgb(81,81,81)" opacity="0.47"/><rect x="215.9" y="189.0" width="1" height="1" fill="rgb(76,76,76)" opacity="0.47"/><rect x="216.8" y="186.5" width="1" height="1" fill="rgb(55,55,55)" opacity="0.54"/><rect x="206.6" y="205.6" width="1" height="1" fill="rgb(80,80,80)" opacity="0.29"/><rect x="209.1" y="213.3" width="1" height="1" fill="rgb(98,98,98)" opacity="0.52"/><rect x="213.4" y="189.6" width="1" height="1" fill="rgb(97,97,97)" opacity="0.54"/><rect x="189.7" y="188.7" width="1" height="1" fill="rgb(73,73,73)" opacity="0.56"/><rect x="209.6" y="214.6" width="1" height="1" fill="rgb(96,96,96)" opacity="0.35"/><rect x="191.6" y="208.2" width="1" height="1" fill="rgb(100,100,100)" opacity="0.35"/><rect x="215.7" y="210.6" width="1" height="1" fill="rgb(93,93,93)" opacity="0.44"/><rect x="200.4" y="206.7" width="1" height="1" fill="rgb(69,69,69)" opacity="0.32"/><rect x="194.4" y="205.2" width="1" height="1" fill="rgb(60,60,60)" opacity="0.34"/><rect x="207.9" y="186.7" width="1" height="1" fill="rgb(75,75,75)" opacity="0.29"/><rect x="198.3" y="212.5" width="1" height="1" fill="rgb(83,83,83)" opacity="0.31"/><rect x="182.5" y="200.6" width="1" height="1" fill="rgb(90,90,90)" opacity="0.44"/><rect x="181.5" y="204.1" width="1" height="1" fill="rgb(84,84,84)" opacity="0.24"/><rect x="189.1" y="207.5" width="1" height="1" fill="rgb(76,76,76)" opacity="0.59"/><rect x="201.2" y="192.6" width="1" height="1" fill="rgb(90,90,90)" opacity="0.52"/>
<ellipse cx="197" cy="201.5" rx="13.5" ry="9.5" fill="#6c6c6c" transform="rotate(55 197 201.5)" filter="url(#blur2)"/>
<ellipse cx="196" cy="200.5" rx="12.5" ry="8.5" fill="none" stroke="#a8a8a8" stroke-width="2.2" transform="rotate(55 196 200.5)" filter="url(#blur2)" opacity="0.7"/>
<ellipse cx="198" cy="202" rx="7" ry="4.5" fill="#828282" transform="rotate(55 198 202)" filter="url(#blurc)"/>
<rect x="191.6" y="209.3" width="1.3" height="1.3" fill="rgb(178,178,178)" opacity="0.84"/><rect x="194.2" y="204.7" width="1.3" height="1.3" fill="rgb(144,144,144)" opacity="0.68"/><rect x="200.4" y="211.7" width="1.3" height="1.3" fill="rgb(184,184,184)" opacity="0.51"/><rect x="185.9" y="196.4" width="1.1" height="1.1" fill="rgb(195,195,195)" opacity="0.93"/><rect x="204.4" y="211.6" width="1.4" height="1.4" fill="rgb(152,152,152)" opacity="0.81"/><rect x="190.4" y="206.0" width="1.2" height="1.2" fill="rgb(165,165,165)" opacity="0.70"/><rect x="200.5" y="193.1" width="1.1" height="1.1" fill="rgb(153,153,153)" opacity="0.79"/><rect x="197.3" y="206.6" width="1.3" height="1.3" fill="rgb(119,119,119)" opacity="0.85"/><rect x="192.3" y="193.6" width="1.0" height="1.0" fill="rgb(200,200,200)" opacity="0.86"/><rect x="201.2" y="199.7" width="1.3" height="1.3" fill="rgb(147,147,147)" opacity="0.86"/><rect x="206.8" y="210.2" width="1.3" height="1.3" fill="rgb(112,112,112)" opacity="0.48"/><rect x="196.4" y="202.5" width="1.3" height="1.3" fill="rgb(190,190,190)" opacity="0.75"/><rect x="193.4" y="191.4" width="1.2" height="1.2" fill="rgb(150,150,150)" opacity="1.00"/><rect x="194.8" y="201.8" width="1.0" height="1.0" fill="rgb(155,155,155)" opacity="0.68"/><rect x="202.4" y="211.9" width="1.3" height="1.3" fill="rgb(153,153,153)" opacity="0.51"/><rect x="195.1" y="211.4" width="1.1" height="1.1" fill="rgb(120,120,120)" opacity="0.95"/><rect x="204.0" y="199.9" width="1.3" height="1.3" fill="rgb(126,126,126)" opacity="0.92"/><rect x="193.8" y="195.3" width="1.1" height="1.1" fill="rgb(155,155,155)" opacity="0.59"/><rect x="203.5" y="213.1" width="1.3" height="1.3" fill="rgb(176,176,176)" opacity="0.69"/><rect x="201.5" y="197.2" width="1.3" height="1.3" fill="rgb(165,165,165)" opacity="0.52"/><rect x="200.4" y="207.0" width="1.2" height="1.2" fill="rgb(158,158,158)" opacity="0.47"/><rect x="207.5" y="200.7" width="0.9" height="0.9" fill="rgb(115,115,115)" opacity="0.56"/><rect x="193.6" y="189.2" width="1.3" height="1.3" fill="rgb(153,153,153)" opacity="0.79"/><rect x="205.0" y="204.9" width="1.2" height="1.2" fill="rgb(136,136,136)" opacity="0.45"/><rect x="193.7" y="206.7" width="1.3" height="1.3" fill="rgb(122,122,122)" opacity="0.78"/><rect x="196.9" y="206.9" width="1.1" height="1.1" fill="rgb(184,184,184)" opacity="0.96"/><rect x="201.2" y="192.1" width="1.3" height="1.3" fill="rgb(182,182,182)" opacity="0.85"/><rect x="200.3" y="210.2" width="1.1" height="1.1" fill="rgb(196,196,196)" opacity="0.92"/><rect x="204.2" y="210.9" width="1.1" height="1.1" fill="rgb(170,170,170)" opacity="0.78"/><rect x="197.3" y="210.2" width="1.1" height="1.1" fill="rgb(199,199,199)" opacity="0.58"/><rect x="201.2" y="206.7" width="1.1" height="1.1" fill="rgb(138,138,138)" opacity="0.80"/><rect x="198.5" y="200.3" width="0.9" height="0.9" fill="rgb(135,135,135)" opacity="0.89"/><rect x="198.3" y="204.3" width="1.0" height="1.0" fill="rgb(138,138,138)" opacity="0.88"/><rect x="201.1" y="210.9" width="1.2" height="1.2" fill="rgb(162,162,162)" opacity="0.59"/><rect x="196.7" y="203.0" width="1.3" height="1.3" fill="rgb(123,123,123)" opacity="0.87"/><rect x="200.6" y="202.9" width="1.0" height="1.0" fill="rgb(177,177,177)" opacity="0.54"/><rect x="194.6" y="197.6" width="1.3" height="1.3" fill="rgb(158,158,158)" opacity="0.95"/><rect x="204.3" y="212.2" width="1.2" height="1.2" fill="rgb(120,120,120)" opacity="0.73"/><rect x="196.8" y="192.0" width="1.3" height="1.3" fill="rgb(119,119,119)" opacity="0.84"/><rect x="199.1" y="192.9" width="1.1" height="1.1" fill="rgb(195,195,195)" opacity="0.45"/><rect x="198.2" y="200.6" width="1.3" height="1.3" fill="rgb(168,168,168)" opacity="0.56"/><rect x="202.0" y="194.2" width="1.2" height="1.2" fill="rgb(124,124,124)" opacity="0.79"/><rect x="198.9" y="210.7" width="1.2" height="1.2" fill="rgb(121,121,121)" opacity="0.85"/><rect x="207.4" y="203.4" width="1.0" height="1.0" fill="rgb(157,157,157)" opacity="0.60"/><rect x="191.3" y="202.1" width="1.1" height="1.1" fill="rgb(183,183,183)" opacity="0.99"/><rect x="197.8" y="201.1" width="0.9" height="0.9" fill="rgb(124,124,124)" opacity="0.83"/><rect x="201.2" y="199.4" width="1.1" height="1.1" fill="rgb(162,162,162)" opacity="0.96"/><rect x="195.4" y="195.6" width="1.3" height="1.3" fill="rgb(120,120,120)" opacity="0.95"/><rect x="206.5" y="202.4" width="0.9" height="0.9" fill="rgb(197,197,197)" opacity="0.52"/><rect x="207.0" y="207.5" width="0.9" height="0.9" fill="rgb(189,189,189)" opacity="0.97"/><rect x="188.2" y="194.2" width="1.0" height="1.0" fill="rgb(148,148,148)" opacity="0.92"/><rect x="201.0" y="209.1" width="1.0" height="1.0" fill="rgb(130,130,130)" opacity="0.99"/><rect x="199.1" y="190.7" width="1.3" height="1.3" fill="rgb(151,151,151)" opacity="0.60"/><rect x="191.7" y="205.2" width="0.9" height="0.9" fill="rgb(139,139,139)" opacity="0.75"/><rect x="186.7" y="199.1" width="0.9" height="0.9" fill="rgb(140,140,140)" opacity="0.94"/>
<rect x="210.6" y="198.7" width="1.0" height="1.0" fill="rgb(130,130,130)" opacity="0.68"/><rect x="207.9" y="206.9" width="1.0" height="1.0" fill="rgb(148,148,148)" opacity="0.54"/><rect x="202.7" y="203.6" width="1.2" height="1.2" fill="rgb(142,142,142)" opacity="0.96"/><rect x="202.0" y="204.1" width="1.2" height="1.2" fill="rgb(172,172,172)" opacity="0.57"/><rect x="207.2" y="213.3" width="0.9" height="0.9" fill="rgb(123,123,123)" opacity="0.69"/><rect x="214.7" y="210.9" width="1.2" height="1.2" fill="rgb(168,168,168)" opacity="0.83"/><rect x="206.5" y="197.8" width="1.3" height="1.3" fill="rgb(121,121,121)" opacity="0.64"/><rect x="211.3" y="204.3" width="1.3" height="1.3" fill="rgb(172,172,172)" opacity="0.59"/><rect x="215.3" y="203.4" width="1.2" height="1.2" fill="rgb(173,173,173)" opacity="0.49"/><rect x="213.6" y="207.3" width="0.9" height="0.9" fill="rgb(183,183,183)" opacity="0.49"/><rect x="213.8" y="205.5" width="1.0" height="1.0" fill="rgb(104,104,104)" opacity="0.85"/><rect x="205.6" y="199.8" width="1.3" height="1.3" fill="rgb(188,188,188)" opacity="0.70"/><rect x="212.3" y="202.3" width="1.1" height="1.1" fill="rgb(179,179,179)" opacity="0.83"/><rect x="202.6" y="207.6" width="0.9" height="0.9" fill="rgb(148,148,148)" opacity="0.64"/><rect x="209.7" y="203.6" width="1.3" height="1.3" fill="rgb(118,118,118)" opacity="0.51"/><rect x="210.2" y="210.2" width="1.1" height="1.1" fill="rgb(169,169,169)" opacity="0.46"/><rect x="211.8" y="213.0" width="1.0" height="1.0" fill="rgb(174,174,174)" opacity="0.81"/><rect x="207.4" y="209.3" width="0.9" height="0.9" fill="rgb(151,151,151)" opacity="0.50"/><rect x="213.9" y="204.4" width="1.2" height="1.2" fill="rgb(162,162,162)" opacity="0.77"/><rect x="213.0" y="206.9" width="1.0" height="1.0" fill="rgb(106,106,106)" opacity="0.96"/><rect x="205.4" y="210.2" width="1.0" height="1.0" fill="rgb(137,137,137)" opacity="0.88"/><rect x="208.9" y="210.4" width="1.2" height="1.2" fill="rgb(104,104,104)" opacity="0.93"/><rect x="211.7" y="203.0" width="1.3" height="1.3" fill="rgb(187,187,187)" opacity="0.47"/><rect x="204.5" y="198.2" width="1.3" height="1.3" fill="rgb(136,136,136)" opacity="0.58"/><rect x="212.2" y="202.1" width="0.9" height="0.9" fill="rgb(102,102,102)" opacity="0.81"/><rect x="211.0" y="201.3" width="0.9" height="0.9" fill="rgb(146,146,146)" opacity="0.72"/><rect x="213.6" y="209.3" width="1.1" height="1.1" fill="rgb(141,141,141)" opacity="0.51"/><rect x="205.7" y="205.5" width="1.0" height="1.0" fill="rgb(146,146,146)" opacity="0.48"/><rect x="210.5" y="209.3" width="1.1" height="1.1" fill="rgb(120,120,120)" opacity="0.97"/><rect x="207.0" y="204.2" width="1.0" height="1.0" fill="rgb(185,185,185)" opacity="0.57"/>
</g></g>
<g clip-path="url(#ci4)"><g filter="url(#soft)">
<rect x="247.3" y="221.3" width="1" height="1" fill="rgb(74,74,74)" opacity="0.54"/><rect x="227.1" y="219.2" width="1" height="1" fill="rgb(61,61,61)" opacity="0.22"/><rect x="243.7" y="203.0" width="1" height="1" fill="rgb(55,55,55)" opacity="0.28"/><rect x="226.0" y="193.9" width="1" height="1" fill="rgb(74,74,74)" opacity="0.58"/><rect x="254.3" y="188.9" width="1" height="1" fill="rgb(70,70,70)" opacity="0.38"/><rect x="235.5" y="191.7" width="1" height="1" fill="rgb(66,66,66)" opacity="0.52"/><rect x="225.4" y="210.2" width="1" height="1" fill="rgb(60,60,60)" opacity="0.39"/><rect x="229.9" y="184.4" width="1" height="1" fill="rgb(65,65,65)" opacity="0.52"/><rect x="259.0" y="208.0" width="1" height="1" fill="rgb(66,66,66)" opacity="0.50"/><rect x="244.3" y="192.7" width="1" height="1" fill="rgb(60,60,60)" opacity="0.47"/><rect x="228.3" y="197.6" width="1" height="1" fill="rgb(57,57,57)" opacity="0.52"/><rect x="260.7" y="211.6" width="1" height="1" fill="rgb(72,72,72)" opacity="0.54"/><rect x="249.1" y="208.3" width="1" height="1" fill="rgb(67,67,67)" opacity="0.29"/><rect x="246.7" y="217.6" width="1" height="1" fill="rgb(47,47,47)" opacity="0.38"/><rect x="256.9" y="194.6" width="1" height="1" fill="rgb(49,49,49)" opacity="0.54"/><rect x="234.9" y="195.7" width="1" height="1" fill="rgb(51,51,51)" opacity="0.58"/><rect x="238.9" y="209.3" width="1" height="1" fill="rgb(45,45,45)" opacity="0.34"/><rect x="242.2" y="186.5" width="1" height="1" fill="rgb(56,56,56)" opacity="0.40"/><rect x="260.8" y="202.4" width="1" height="1" fill="rgb(51,51,51)" opacity="0.45"/><rect x="231.4" y="215.1" width="1" height="1" fill="rgb(51,51,51)" opacity="0.32"/><rect x="254.2" y="194.1" width="1" height="1" fill="rgb(75,75,75)" opacity="0.50"/><rect x="224.0" y="190.6" width="1" height="1" fill="rgb(58,58,58)" opacity="0.47"/><rect x="223.6" y="197.9" width="1" height="1" fill="rgb(50,50,50)" opacity="0.30"/><rect x="256.3" y="189.8" width="1" height="1" fill="rgb(70,70,70)" opacity="0.30"/><rect x="241.0" y="205.0" width="1" height="1" fill="rgb(67,67,67)" opacity="0.35"/><rect x="233.2" y="205.0" width="1" height="1" fill="rgb(53,53,53)" opacity="0.58"/><rect x="228.7" y="189.1" width="1" height="1" fill="rgb(61,61,61)" opacity="0.25"/><rect x="235.6" y="212.1" width="1" height="1" fill="rgb(50,50,50)" opacity="0.29"/><rect x="229.4" y="205.8" width="1" height="1" fill="rgb(59,59,59)" opacity="0.52"/><rect x="232.9" y="205.3" width="1" height="1" fill="rgb(52,52,52)" opacity="0.54"/><rect x="261.2" y="194.0" width="1" height="1" fill="rgb(75,75,75)" opacity="0.48"/><rect x="226.5" y="200.2" width="1" height="1" fill="rgb(71,71,71)" opacity="0.24"/><rect x="223.4" y="194.8" width="1" height="1" fill="rgb(54,54,54)" opacity="0.50"/><rect x="229.7" y="189.2" width="1" height="1" fill="rgb(47,47,47)" opacity="0.41"/><rect x="256.8" y="214.1" width="1" height="1" fill="rgb(65,65,65)" opacity="0.48"/><rect x="246.1" y="200.6" width="1" height="1" fill="rgb(60,60,60)" opacity="0.46"/><rect x="246.3" y="213.9" width="1" height="1" fill="rgb(73,73,73)" opacity="0.41"/><rect x="245.1" y="200.3" width="1" height="1" fill="rgb(63,63,63)" opacity="0.56"/><rect x="245.6" y="190.8" width="1" height="1" fill="rgb(67,67,67)" opacity="0.58"/><rect x="248.6" y="199.4" width="1" height="1" fill="rgb(75,75,75)" opacity="0.41"/><rect x="249.9" y="186.7" width="1" height="1" fill="rgb(68,68,68)" opacity="0.22"/><rect x="250.1" y="191.9" width="1" height="1" fill="rgb(55,55,55)" opacity="0.52"/><rect x="223.1" y="201.7" width="1" height="1" fill="rgb(66,66,66)" opacity="0.50"/><rect x="261.1" y="217.2" width="1" height="1" fill="rgb(59,59,59)" opacity="0.58"/><rect x="254.3" y="192.7" width="1" height="1" fill="rgb(58,58,58)" opacity="0.24"/><rect x="261.7" y="204.2" width="1" height="1" fill="rgb(57,57,57)" opacity="0.58"/><rect x="258.9" y="192.7" width="1" height="1" fill="rgb(68,68,68)" opacity="0.48"/><rect x="238.0" y="202.4" width="1" height="1" fill="rgb(56,56,56)" opacity="0.25"/><rect x="231.6" y="192.0" width="1" height="1" fill="rgb(53,53,53)" opacity="0.25"/><rect x="243.2" y="217.0" width="1" height="1" fill="rgb(64,64,64)" opacity="0.37"/><rect x="225.8" y="205.7" width="1" height="1" fill="rgb(75,75,75)" opacity="0.33"/><rect x="244.5" y="196.9" width="1" height="1" fill="rgb(69,69,69)" opacity="0.37"/><rect x="229.8" y="202.0" width="1" height="1" fill="rgb(45,45,45)" opacity="0.47"/><rect x="254.1" y="198.7" width="1" height="1" fill="rgb(48,48,48)" opacity="0.58"/><rect x="253.5" y="215.2" width="1" height="1" fill="rgb(65,65,65)" opacity="0.28"/><rect x="232.7" y="206.1" width="1" height="1" fill="rgb(69,69,69)" opacity="0.28"/><rect x="253.5" y="195.2" width="1" height="1" fill="rgb(53,53,53)" opacity="0.27"/><rect x="225.3" y="201.0" width="1" height="1" fill="rgb(66,66,66)" opacity="0.55"/><rect x="246.4" y="191.4" width="1" height="1" fill="rgb(45,45,45)" opacity="0.44"/><rect x="239.3" y="204.9" width="1" height="1" fill="rgb(45,45,45)" opacity="0.23"/><rect x="222.9" y="190.5" width="1" height="1" fill="rgb(67,67,67)" opacity="0.30"/><rect x="229.7" y="190.5" width="1" height="1" fill="rgb(73,73,73)" opacity="0.48"/><rect x="262.4" y="184.7" width="1" height="1" fill="rgb(48,48,48)" opacity="0.23"/><rect x="226.3" y="191.4" width="1" height="1" fill="rgb(60,60,60)" opacity="0.33"/><rect x="243.7" y="195.9" width="1" height="1" fill="rgb(58,58,58)" opacity="0.50"/><rect x="257.9" y="196.4" width="1" height="1" fill="rgb(74,74,74)" opacity="0.23"/><rect x="229.2" y="187.4" width="1" height="1" fill="rgb(64,64,64)" opacity="0.22"/><rect x="261.8" y="188.9" width="1" height="1" fill="rgb(72,72,72)" opacity="0.49"/><rect x="236.4" y="202.3" width="1" height="1" fill="rgb(51,51,51)" opacity="0.44"/><rect x="262.5" y="214.0" width="1" height="1" fill="rgb(69,69,69)" opacity="0.26"/><rect x="250.5" y="198.4" width="1" height="1" fill="rgb(67,67,67)" opacity="0.21"/><rect x="235.2" y="186.7" width="1" height="1" fill="rgb(60,60,60)" opacity="0.24"/><rect x="246.3" y="191.1" width="1" height="1" fill="rgb(67,67,67)" opacity="0.38"/><rect x="241.5" y="214.4" width="1" height="1" fill="rgb(64,64,64)" opacity="0.24"/><rect x="249.4" y="205.1" width="1" height="1" fill="rgb(49,49,49)" opacity="0.21"/><rect x="260.2" y="192.0" width="1" height="1" fill="rgb(71,71,71)" opacity="0.45"/><rect x="232.4" y="193.6" width="1" height="1" fill="rgb(58,58,58)" opacity="0.41"/><rect x="236.0" y="186.1" width="1" height="1" fill="rgb(52,52,52)" opacity="0.49"/><rect x="231.6" y="194.8" width="1" height="1" fill="rgb(65,65,65)" opacity="0.49"/><rect x="241.0" y="191.2" width="1" height="1" fill="rgb(50,50,50)" opacity="0.28"/><rect x="235.2" y="208.7" width="1" height="1" fill="rgb(53,53,53)" opacity="0.25"/><rect x="225.2" y="201.3" width="1" height="1" fill="rgb(55,55,55)" opacity="0.53"/><rect x="251.5" y="219.8" width="1" height="1" fill="rgb(70,70,70)" opacity="0.52"/><rect x="238.6" y="203.5" width="1" height="1" fill="rgb(54,54,54)" opacity="0.22"/><rect x="247.2" y="187.3" width="1" height="1" fill="rgb(46,46,46)" opacity="0.33"/><rect x="232.2" y="190.5" width="1" height="1" fill="rgb(65,65,65)" opacity="0.55"/><rect x="241.3" y="191.4" width="1" height="1" fill="rgb(48,48,48)" opacity="0.51"/><rect x="251.6" y="216.4" width="1" height="1" fill="rgb(66,66,66)" opacity="0.49"/><rect x="244.0" y="212.9" width="1" height="1" fill="rgb(48,48,48)" opacity="0.46"/><rect x="247.8" y="200.3" width="1" height="1" fill="rgb(47,47,47)" opacity="0.30"/>
<ellipse cx="246" cy="199" rx="3" ry="6.5" fill="#5a5a5a" opacity="1" filter="url(#blurc)" transform="rotate(0 246 199)"/>
<ellipse cx="246" cy="199.5" rx="2" ry="3" fill="#7c7c7c" opacity="1" filter="url(#blurc)" transform="rotate(0 246 199.5)"/>
<rect x="244.5" y="192.0" width="1.1" height="1.1" fill="rgb(141,141,141)" opacity="0.97"/><rect x="242.2" y="201.0" width="1.2" height="1.2" fill="rgb(179,179,179)" opacity="0.96"/><rect x="248.7" y="193.0" width="1.0" height="1.0" fill="rgb(138,138,138)" opacity="0.50"/><rect x="247.0" y="194.6" width="1.3" height="1.3" fill="rgb(151,151,151)" opacity="0.52"/><rect x="242.0" y="198.3" width="1.0" height="1.0" fill="rgb(88,88,88)" opacity="0.92"/><rect x="244.1" y="191.1" width="1.2" height="1.2" fill="rgb(98,98,98)" opacity="0.67"/><rect x="249.2" y="202.5" width="0.9" height="0.9" fill="rgb(116,116,116)" opacity="0.95"/><rect x="243.9" y="189.5" width="1.3" height="1.3" fill="rgb(120,120,120)" opacity="0.54"/><rect x="241.5" y="194.5" width="1.0" height="1.0" fill="rgb(102,102,102)" opacity="0.66"/><rect x="246.8" y="187.8" width="1.1" height="1.1" fill="rgb(111,111,111)" opacity="0.70"/><rect x="244.2" y="195.4" width="1.4" height="1.4" fill="rgb(172,172,172)" opacity="0.95"/><rect x="241.2" y="198.3" width="1.2" height="1.2" fill="rgb(116,116,116)" opacity="0.87"/><rect x="243.9" y="199.6" width="1.3" height="1.3" fill="rgb(175,175,175)" opacity="0.56"/><rect x="246.9" y="195.6" width="1.3" height="1.3" fill="rgb(123,123,123)" opacity="0.89"/><rect x="248.7" y="197.9" width="1.3" height="1.3" fill="rgb(169,169,169)" opacity="0.53"/><rect x="247.1" y="191.6" width="1.0" height="1.0" fill="rgb(175,175,175)" opacity="0.92"/><rect x="244.0" y="188.4" width="0.9" height="0.9" fill="rgb(80,80,80)" opacity="0.92"/><rect x="245.1" y="196.0" width="1.3" height="1.3" fill="rgb(157,157,157)" opacity="0.47"/><rect x="249.9" y="199.1" width="1.0" height="1.0" fill="rgb(120,120,120)" opacity="0.90"/><rect x="245.2" y="203.1" width="1.1" height="1.1" fill="rgb(125,125,125)" opacity="0.67"/><rect x="244.6" y="206.9" width="0.9" height="0.9" fill="rgb(166,166,166)" opacity="0.68"/><rect x="242.7" y="188.7" width="1.3" height="1.3" fill="rgb(111,111,111)" opacity="0.90"/><rect x="244.9" y="194.5" width="1.3" height="1.3" fill="rgb(101,101,101)" opacity="0.87"/><rect x="246.4" y="191.4" width="1.2" height="1.2" fill="rgb(128,128,128)" opacity="0.69"/><rect x="244.7" y="201.5" width="1.3" height="1.3" fill="rgb(165,165,165)" opacity="0.90"/><rect x="243.2" y="204.8" width="1.3" height="1.3" fill="rgb(179,179,179)" opacity="0.53"/><rect x="249.1" y="192.9" width="1.2" height="1.2" fill="rgb(163,163,163)" opacity="0.95"/><rect x="246.6" y="186.8" width="1.4" height="1.4" fill="rgb(123,123,123)" opacity="0.71"/><rect x="241.7" y="198.8" width="1.3" height="1.3" fill="rgb(173,173,173)" opacity="0.64"/><rect x="245.5" y="200.0" width="1.1" height="1.1" fill="rgb(83,83,83)" opacity="0.95"/><rect x="248.2" y="197.6" width="1.2" height="1.2" fill="rgb(143,143,143)" opacity="0.86"/><rect x="246.5" y="203.6" width="1.1" height="1.1" fill="rgb(141,141,141)" opacity="0.97"/><rect x="244.2" y="204.6" width="1.3" height="1.3" fill="rgb(140,140,140)" opacity="0.63"/><rect x="243.2" y="204.8" width="1.3" height="1.3" fill="rgb(125,125,125)" opacity="0.77"/><rect x="248.2" y="201.7" width="1.3" height="1.3" fill="rgb(146,146,146)" opacity="0.49"/><rect x="245.0" y="196.9" width="1.4" height="1.4" fill="rgb(109,109,109)" opacity="0.56"/><rect x="243.7" y="201.5" width="1.4" height="1.4" fill="rgb(169,169,169)" opacity="0.92"/><rect x="243.6" y="189.6" width="1.1" height="1.1" fill="rgb(152,152,152)" opacity="0.69"/><rect x="244.9" y="189.4" width="0.9" height="0.9" fill="rgb(147,147,147)" opacity="0.61"/><rect x="241.6" y="195.6" width="1.0" height="1.0" fill="rgb(175,175,175)" opacity="0.78"/><rect x="248.0" y="198.9" width="1.4" height="1.4" fill="rgb(174,174,174)" opacity="0.69"/><rect x="242.7" y="202.8" width="1.4" height="1.4" fill="rgb(105,105,105)" opacity="0.63"/><rect x="248.7" y="196.1" width="1.4" height="1.4" fill="rgb(142,142,142)" opacity="0.75"/><rect x="241.8" y="196.5" width="1.0" height="1.0" fill="rgb(128,128,128)" opacity="1.00"/><rect x="241.8" y="192.8" width="1.0" height="1.0" fill="rgb(163,163,163)" opacity="0.75"/>
</g></g>
<g clip-path="url(#ci5)"><g filter="url(#soft)">
<rect x="296.3" y="216.4" width="1" height="1" fill="rgb(41,41,41)" opacity="0.22"/><rect x="268.0" y="202.8" width="1" height="1" fill="rgb(58,58,58)" opacity="0.40"/><rect x="301.9" y="217.6" width="1" height="1" fill="rgb(60,60,60)" opacity="0.29"/><rect x="284.4" y="189.8" width="1" height="1" fill="rgb(36,36,36)" opacity="0.26"/><rect x="291.2" y="214.0" width="1" height="1" fill="rgb(43,43,43)" opacity="0.25"/><rect x="293.4" y="206.5" width="1" height="1" fill="rgb(37,37,37)" opacity="0.37"/><rect x="286.4" y="201.5" width="1" height="1" fill="rgb(32,32,32)" opacity="0.51"/><rect x="298.1" y="217.7" width="1" height="1" fill="rgb(35,35,35)" opacity="0.50"/><rect x="275.3" y="193.5" width="1" height="1" fill="rgb(46,46,46)" opacity="0.53"/><rect x="275.1" y="190.5" width="1" height="1" fill="rgb(57,57,57)" opacity="0.28"/><rect x="289.3" y="210.9" width="1" height="1" fill="rgb(53,53,53)" opacity="0.38"/><rect x="289.7" y="192.1" width="1" height="1" fill="rgb(56,56,56)" opacity="0.54"/><rect x="303.0" y="186.0" width="1" height="1" fill="rgb(60,60,60)" opacity="0.20"/><rect x="300.7" y="216.4" width="1" height="1" fill="rgb(58,58,58)" opacity="0.52"/><rect x="293.0" y="189.3" width="1" height="1" fill="rgb(44,44,44)" opacity="0.27"/><rect x="274.5" y="204.3" width="1" height="1" fill="rgb(43,43,43)" opacity="0.51"/><rect x="275.7" y="191.4" width="1" height="1" fill="rgb(35,35,35)" opacity="0.55"/><rect x="280.1" y="200.3" width="1" height="1" fill="rgb(39,39,39)" opacity="0.26"/><rect x="274.6" y="187.2" width="1" height="1" fill="rgb(36,36,36)" opacity="0.44"/><rect x="270.8" y="195.0" width="1" height="1" fill="rgb(43,43,43)" opacity="0.39"/><rect x="283.5" y="220.3" width="1" height="1" fill="rgb(45,45,45)" opacity="0.39"/><rect x="276.9" y="203.3" width="1" height="1" fill="rgb(45,45,45)" opacity="0.44"/><rect x="271.6" y="190.3" width="1" height="1" fill="rgb(32,32,32)" opacity="0.34"/><rect x="281.2" y="186.6" width="1" height="1" fill="rgb(33,33,33)" opacity="0.34"/><rect x="282.9" y="197.1" width="1" height="1" fill="rgb(52,52,52)" opacity="0.54"/><rect x="291.7" y="201.4" width="1" height="1" fill="rgb(56,56,56)" opacity="0.43"/><rect x="266.1" y="215.7" width="1" height="1" fill="rgb(53,53,53)" opacity="0.39"/><rect x="286.3" y="210.6" width="1" height="1" fill="rgb(51,51,51)" opacity="0.36"/><rect x="283.2" y="195.1" width="1" height="1" fill="rgb(47,47,47)" opacity="0.46"/><rect x="295.8" y="184.1" width="1" height="1" fill="rgb(51,51,51)" opacity="0.26"/><rect x="280.5" y="215.8" width="1" height="1" fill="rgb(55,55,55)" opacity="0.33"/><rect x="288.8" y="192.2" width="1" height="1" fill="rgb(55,55,55)" opacity="0.58"/><rect x="287.9" y="199.0" width="1" height="1" fill="rgb(35,35,35)" opacity="0.31"/><rect x="271.3" y="217.7" width="1" height="1" fill="rgb(30,30,30)" opacity="0.45"/><rect x="298.2" y="200.4" width="1" height="1" fill="rgb(38,38,38)" opacity="0.35"/><rect x="301.8" y="197.0" width="1" height="1" fill="rgb(47,47,47)" opacity="0.52"/><rect x="278.9" y="219.0" width="1" height="1" fill="rgb(33,33,33)" opacity="0.33"/><rect x="281.4" y="206.7" width="1" height="1" fill="rgb(55,55,55)" opacity="0.54"/><rect x="266.5" y="213.8" width="1" height="1" fill="rgb(32,32,32)" opacity="0.35"/><rect x="302.5" y="204.1" width="1" height="1" fill="rgb(38,38,38)" opacity="0.56"/><rect x="277.4" y="202.5" width="1" height="1" fill="rgb(60,60,60)" opacity="0.48"/><rect x="266.7" y="191.2" width="1" height="1" fill="rgb(31,31,31)" opacity="0.49"/><rect x="271.5" y="195.6" width="1" height="1" fill="rgb(37,37,37)" opacity="0.22"/><rect x="276.4" y="211.4" width="1" height="1" fill="rgb(53,53,53)" opacity="0.56"/><rect x="270.1" y="189.4" width="1" height="1" fill="rgb(47,47,47)" opacity="0.57"/><rect x="269.4" y="218.5" width="1" height="1" fill="rgb(43,43,43)" opacity="0.54"/><rect x="267.4" y="202.5" width="1" height="1" fill="rgb(53,53,53)" opacity="0.35"/><rect x="269.5" y="216.6" width="1" height="1" fill="rgb(54,54,54)" opacity="0.27"/><rect x="270.9" y="195.3" width="1" height="1" fill="rgb(32,32,32)" opacity="0.22"/><rect x="270.8" y="184.8" width="1" height="1" fill="rgb(52,52,52)" opacity="0.48"/><rect x="272.6" y="201.3" width="1" height="1" fill="rgb(33,33,33)" opacity="0.27"/><rect x="290.3" y="209.1" width="1" height="1" fill="rgb(36,36,36)" opacity="0.34"/><rect x="305.2" y="200.2" width="1" height="1" fill="rgb(42,42,42)" opacity="0.36"/><rect x="283.7" y="202.0" width="1" height="1" fill="rgb(30,30,30)" opacity="0.60"/><rect x="294.2" y="190.5" width="1" height="1" fill="rgb(35,35,35)" opacity="0.56"/><rect x="297.7" y="207.4" width="1" height="1" fill="rgb(50,50,50)" opacity="0.22"/><rect x="287.1" y="209.4" width="1" height="1" fill="rgb(31,31,31)" opacity="0.51"/><rect x="287.8" y="217.0" width="1" height="1" fill="rgb(30,30,30)" opacity="0.38"/><rect x="301.2" y="206.4" width="1" height="1" fill="rgb(40,40,40)" opacity="0.46"/><rect x="286.4" y="189.5" width="1" height="1" fill="rgb(31,31,31)" opacity="0.57"/><rect x="288.3" y="189.3" width="1" height="1" fill="rgb(35,35,35)" opacity="0.48"/><rect x="272.1" y="208.1" width="1" height="1" fill="rgb(46,46,46)" opacity="0.52"/><rect x="297.4" y="203.2" width="1" height="1" fill="rgb(30,30,30)" opacity="0.54"/><rect x="280.4" y="210.3" width="1" height="1" fill="rgb(36,36,36)" opacity="0.43"/><rect x="295.1" y="199.2" width="1" height="1" fill="rgb(60,60,60)" opacity="0.39"/><rect x="289.1" y="220.5" width="1" height="1" fill="rgb(35,35,35)" opacity="0.33"/><rect x="280.9" y="194.0" width="1" height="1" fill="rgb(58,58,58)" opacity="0.28"/><rect x="292.5" y="206.9" width="1" height="1" fill="rgb(30,30,30)" opacity="0.60"/><rect x="293.5" y="195.9" width="1" height="1" fill="rgb(54,54,54)" opacity="0.42"/><rect x="298.0" y="196.6" width="1" height="1" fill="rgb(48,48,48)" opacity="0.54"/><rect x="285.4" y="194.3" width="1" height="1" fill="rgb(59,59,59)" opacity="0.60"/><rect x="285.6" y="214.9" width="1" height="1" fill="rgb(31,31,31)" opacity="0.26"/><rect x="296.4" y="205.4" width="1" height="1" fill="rgb(59,59,59)" opacity="0.32"/><rect x="286.2" y="210.3" width="1" height="1" fill="rgb(30,30,30)" opacity="0.23"/><rect x="297.0" y="187.8" width="1" height="1" fill="rgb(38,38,38)" opacity="0.55"/><rect x="290.2" y="200.2" width="1" height="1" fill="rgb(58,58,58)" opacity="0.49"/><rect x="276.1" y="211.2" width="1" height="1" fill="rgb(50,50,50)" opacity="0.35"/><rect x="267.2" y="215.1" width="1" height="1" fill="rgb(39,39,39)" opacity="0.29"/><rect x="292.1" y="194.4" width="1" height="1" fill="rgb(41,41,41)" opacity="0.28"/><rect x="286.2" y="202.7" width="1" height="1" fill="rgb(46,46,46)" opacity="0.37"/>
<path d="M266 200 L286 222 M266 190 L296 222 M290 196 L308 198" stroke="#262626" stroke-width="3" fill="none" filter="url(#blur2)"/>
<ellipse cx="279.8" cy="202" rx="4" ry="6.5" fill="#5a5a5a" opacity="1" filter="url(#blurc)" transform="rotate(30 279.8 202)"/>
<ellipse cx="285.5" cy="198" rx="2" ry="3" fill="#0c0c0c" opacity="1" filter="url(#blurc)" transform="rotate(30 285.5 198)"/>
<rect x="278.1" y="197.6" width="1.3" height="1.3" fill="rgb(148,148,148)" opacity="0.80"/><rect x="275.6" y="206.1" width="1.2" height="1.2" fill="rgb(105,105,105)" opacity="0.48"/><rect x="284.5" y="198.0" width="1.0" height="1.0" fill="rgb(167,167,167)" opacity="0.99"/><rect x="277.4" y="198.7" width="1.0" height="1.0" fill="rgb(171,171,171)" opacity="0.92"/><rect x="282.5" y="200.1" width="1.2" height="1.2" fill="rgb(146,146,146)" opacity="0.71"/><rect x="281.1" y="206.9" width="1.3" height="1.3" fill="rgb(94,94,94)" opacity="0.57"/><rect x="278.9" y="196.7" width="0.9" height="0.9" fill="rgb(127,127,127)" opacity="0.64"/><rect x="282.0" y="201.7" width="1.0" height="1.0" fill="rgb(105,105,105)" opacity="0.80"/><rect x="282.5" y="199.8" width="1.0" height="1.0" fill="rgb(118,118,118)" opacity="0.71"/><rect x="282.1" y="199.1" width="1.4" height="1.4" fill="rgb(118,118,118)" opacity="0.54"/><rect x="282.0" y="203.2" width="1.4" height="1.4" fill="rgb(98,98,98)" opacity="0.80"/><rect x="277.0" y="198.7" width="1.1" height="1.1" fill="rgb(102,102,102)" opacity="0.68"/><rect x="277.3" y="201.5" width="0.9" height="0.9" fill="rgb(139,139,139)" opacity="0.58"/><rect x="275.6" y="201.4" width="1.4" height="1.4" fill="rgb(123,123,123)" opacity="0.54"/><rect x="281.2" y="196.9" width="1.1" height="1.1" fill="rgb(111,111,111)" opacity="0.95"/><rect x="283.5" y="200.6" width="1.4" height="1.4" fill="rgb(162,162,162)" opacity="0.65"/><rect x="277.7" y="198.3" width="1.2" height="1.2" fill="rgb(110,110,110)" opacity="0.64"/><rect x="280.5" y="205.4" width="1.0" height="1.0" fill="rgb(107,107,107)" opacity="0.72"/><rect x="277.2" y="205.4" width="1.2" height="1.2" fill="rgb(112,112,112)" opacity="0.62"/><rect x="281.2" y="203.5" width="1.0" height="1.0" fill="rgb(126,126,126)" opacity="0.70"/><rect x="275.0" y="204.8" width="1.4" height="1.4" fill="rgb(179,179,179)" opacity="0.65"/><rect x="283.7" y="202.1" width="1.2" height="1.2" fill="rgb(175,175,175)" opacity="0.82"/><rect x="275.6" y="204.8" width="1.1" height="1.1" fill="rgb(180,180,180)" opacity="0.58"/><rect x="280.9" y="202.3" width="0.9" height="0.9" fill="rgb(160,160,160)" opacity="0.49"/><rect x="276.9" y="199.7" width="1.3" height="1.3" fill="rgb(120,120,120)" opacity="0.82"/><rect x="281.6" y="195.4" width="1.4" height="1.4" fill="rgb(176,176,176)" opacity="0.77"/><rect x="280.5" y="198.5" width="1.4" height="1.4" fill="rgb(101,101,101)" opacity="0.98"/><rect x="276.1" y="205.9" width="0.9" height="0.9" fill="rgb(143,143,143)" opacity="0.64"/><rect x="281.7" y="197.0" width="1.0" height="1.0" fill="rgb(163,163,163)" opacity="0.56"/><rect x="278.2" y="208.2" width="1.0" height="1.0" fill="rgb(105,105,105)" opacity="0.60"/><rect x="283.7" y="200.0" width="1.1" height="1.1" fill="rgb(139,139,139)" opacity="0.67"/><rect x="280.4" y="200.2" width="1.3" height="1.3" fill="rgb(144,144,144)" opacity="0.51"/><rect x="281.7" y="198.6" width="1.0" height="1.0" fill="rgb(136,136,136)" opacity="0.93"/><rect x="280.4" y="202.5" width="0.9" height="0.9" fill="rgb(144,144,144)" opacity="0.79"/><rect x="280.1" y="199.3" width="1.3" height="1.3" fill="rgb(160,160,160)" opacity="0.52"/><rect x="283.0" y="201.3" width="1.2" height="1.2" fill="rgb(110,110,110)" opacity="0.54"/><rect x="279.2" y="207.0" width="1.3" height="1.3" fill="rgb(110,110,110)" opacity="0.62"/><rect x="279.2" y="200.5" width="1.1" height="1.1" fill="rgb(149,149,149)" opacity="0.75"/><rect x="280.6" y="202.7" width="1.1" height="1.1" fill="rgb(120,120,120)" opacity="0.96"/><rect x="283.4" y="204.3" width="1.1" height="1.1" fill="rgb(101,101,101)" opacity="0.91"/><rect x="278.9" y="198.5" width="1.1" height="1.1" fill="rgb(95,95,95)" opacity="0.57"/><rect x="281.1" y="195.8" width="1.1" height="1.1" fill="rgb(154,154,154)" opacity="0.58"/><rect x="282.6" y="205.6" width="1.0" height="1.0" fill="rgb(123,123,123)" opacity="0.50"/><rect x="278.3" y="203.4" width="1.2" height="1.2" fill="rgb(144,144,144)" opacity="0.86"/><rect x="281.4" y="206.4" width="1.1" height="1.1" fill="rgb(177,177,177)" opacity="0.54"/>
</g></g>
<line x1="50.9" y1="219.2" x2="57.599999999999994" y2="219.2" stroke="#e0e0e0" stroke-width="1.4" />
<line x1="93.3" y1="219.2" x2="100.0" y2="219.2" stroke="#e0e0e0" stroke-width="1.4" />
<line x1="135.7" y1="219.2" x2="142.39999999999998" y2="219.2" stroke="#e0e0e0" stroke-width="1.4" />
<line x1="181.7" y1="219.2" x2="188.39999999999998" y2="219.2" stroke="#e0e0e0" stroke-width="1.4" />
<line x1="224.2" y1="219.2" x2="230.89999999999998" y2="219.2" stroke="#e0e0e0" stroke-width="1.4" />
<line x1="267.3" y1="219.2" x2="274.0" y2="219.2" stroke="#e0e0e0" stroke-width="1.4" />
<text x="8" y="257.5" font-size="11.5" text-anchor="start" font-weight="bold" fill="#111" stroke="#111" stroke-width="0.45" >E</text>
<text x="123" y="260" font-size="9.3" text-anchor="middle" font-weight="normal" fill="#161616" stroke="#161616" stroke-width="0.22" >606</text>
<text x="319" y="260" font-size="9.3" text-anchor="middle" font-weight="normal" fill="#161616" stroke="#161616" stroke-width="0.22" >931</text>
<line x1="37.5" y1="262.5" x2="211.5" y2="262.5" stroke="#444" stroke-width="1" />
<line x1="233.5" y1="262.5" x2="408" y2="262.5" stroke="#444" stroke-width="1" />
<line x1="223.8" y1="252.5" x2="223.8" y2="375" stroke="#444" stroke-width="1" />
<text x="36.5" y="346.9" font-size="9" text-anchor="end" font-weight="normal" fill="#161616" stroke="#161616" stroke-width="0.22" >G0/G1:</text>
<text x="36.5" y="356.9" font-size="9" text-anchor="end" font-weight="normal" fill="#161616" stroke="#161616" stroke-width="0.22" >S:</text>
<text x="36.5" y="366.9" font-size="9" text-anchor="end" font-weight="normal" fill="#161616" stroke="#161616" stroke-width="0.22" >G2/M:</text>
<text x="61" y="275.6" font-size="9" text-anchor="middle" font-weight="normal" fill="#161616" stroke="#161616" stroke-width="0.22" >ns</text>
<text x="61" y="346.9" font-size="9" text-anchor="middle" font-weight="normal" fill="#161616" stroke="#161616" stroke-width="0.22" >37%</text>
<text x="61" y="356.9" font-size="9" text-anchor="middle" font-weight="normal" fill="#161616" stroke="#161616" stroke-width="0.22" >50%</text>
<text x="61" y="366.9" font-size="9" text-anchor="middle" font-weight="normal" fill="#161616" stroke="#161616" stroke-width="0.22" >13%</text>
<line x1="40.85" y1="277" x2="40.85" y2="330.4" stroke="#d2d2d2" stroke-width="0.8" />
<line x1="40.85" y1="330.4" x2="87.35" y2="330.4" stroke="#b8b8c0" stroke-width="0.9" />
<line x1="38.050000000000004" y1="283" x2="39.25" y2="283" stroke="#c8c8c8" stroke-width="0.7" />
<line x1="38.050000000000004" y1="292" x2="39.25" y2="292" stroke="#c8c8c8" stroke-width="0.7" />
<line x1="38.050000000000004" y1="306.7" x2="39.25" y2="306.7" stroke="#c8c8c8" stroke-width="0.7" />
<line x1="38.050000000000004" y1="314.6" x2="39.25" y2="314.6" stroke="#c8c8c8" stroke-width="0.7" />
<line x1="38.050000000000004" y1="322.5" x2="39.25" y2="322.5" stroke="#c8c8c8" stroke-width="0.7" />
<line x1="40.85" y1="331.4" x2="40.85" y2="332.4" stroke="#d4d4d4" stroke-width="0.6" />
<line x1="48.6" y1="331.4" x2="48.6" y2="332.4" stroke="#d4d4d4" stroke-width="0.6" />
<line x1="56.35" y1="331.4" x2="56.35" y2="332.4" stroke="#d4d4d4" stroke-width="0.6" />
<line x1="64.1" y1="331.4" x2="64.1" y2="332.4" stroke="#d4d4d4" stroke-width="0.6" />
<line x1="71.85" y1="331.4" x2="71.85" y2="332.4" stroke="#d4d4d4" stroke-width="0.6" />
<line x1="79.6" y1="331.4" x2="79.6" y2="332.4" stroke="#d4d4d4" stroke-width="0.6" />
<line x1="87.35" y1="331.4" x2="87.35" y2="332.4" stroke="#d4d4d4" stroke-width="0.6" />
<text x="64.1" y="335.4" font-size="2.6" text-anchor="middle" fill="#c4c4c4">Channels (FL2-A)</text>
<text x="37.35" y="305.4" font-size="2.6" text-anchor="middle" fill="#d0d0d0" transform="rotate(-90 37.35 305.4)">Number</text>
<path d="M60.60,289.01 L60.85,289.27 L61.10,290.38 L61.35,292.16 L61.60,294.38 L61.85,296.82 L62.10,299.37 L62.35,302.00 L62.60,304.71 L62.85,307.42 L63.10,310.03 L63.35,312.39 L63.60,314.45 L63.85,316.15 L64.10,317.51 L64.35,318.56 L64.60,319.36 L64.85,319.94 L65.10,320.38 L65.35,320.69 L65.60,320.93 L65.85,321.11 L66.10,321.25 L66.35,321.38 L66.60,321.48 L66.85,321.58 L67.10,321.67 L67.35,321.77 L67.60,321.85 L67.85,321.94 L68.10,322.03 L68.35,322.12 L68.60,322.21 L68.85,322.29 L69.10,322.38 L69.35,322.47 L69.60,322.56 L69.85,322.64 L70.10,322.73 L70.35,322.82 L70.60,322.90 L70.85,322.99 L71.10,323.07 L71.35,323.14 L71.60,323.21 L71.85,323.28 L72.10,323.33 L72.35,323.37 L72.60,323.39 L72.85,323.38 L73.10,323.34 L73.35,323.27 L73.60,323.15 L73.85,322.98 L74.10,322.75 L74.35,322.46 L74.60,322.10 L74.85,321.69 L75.10,321.21 L75.35,320.69 L75.60,320.14 L75.85,319.57 L76.10,319.01 L76.35,318.49 L76.60,318.03 L76.85,317.66 L77.10,317.40 L77.35,317.29 L77.60,317.32 L77.85,317.47 L78.10,317.75 L78.35,318.19 L78.60,318.77 L78.85,319.48 L79.10,320.29 L79.35,321.18 L79.60,322.11 L79.85,323.06 L80.10,323.99 L80.35,324.89 L80.60,325.73 L80.85,326.50 L81.10,327.18 L81.35,327.78 L81.60,328.30 L81.85,328.73 L82.10,329.08 L82.35,329.37 L82.60,329.60 L82.85,329.78 L83.10,329.92 L83.35,330.03 L83.60,330.12 L83.85,330.18 L84.10,330.23 L84.35,330.27 L84.60,330.30 L84.85,330.32 L85.10,330.34 L85.35,330.35 L85.60,330.36 L85.85,330.37 L86.10,330.38 L86.35,330.38 L86.60,330.39 L86.85,330.39 L87.10,330.39 L87.35,330.4 L60.6,330.4 Z" fill="#e2e2f5" stroke="none" stroke-width="1" />
<path d="M54.60,330.38 L54.85,330.36 L55.10,330.32 L55.35,330.27 L55.60,330.17 L55.85,330.02 L56.10,329.79 L56.35,329.43 L56.60,328.92 L56.85,328.18 L57.10,327.17 L57.35,325.82 L57.60,324.06 L57.85,321.86 L58.10,319.19 L58.35,316.06 L58.60,312.52 L58.85,308.68 L59.10,304.69 L59.35,300.75 L59.60,297.08 L59.85,293.92 L60.10,291.47 L60.35,289.93 L60.60,289.40 L60.85,289.93 L61.10,291.47 L61.35,293.92 L61.60,297.08 L61.85,300.75 L62.10,304.69 L62.35,308.68 L62.60,312.52 L62.85,316.06 L63.10,319.19 L63.35,321.86 L63.60,324.06 L63.85,325.82 L64.10,327.17 L64.35,328.18 L64.60,328.92 L64.85,329.43 L65.10,329.79 L65.35,330.02 L65.60,330.17 L65.85,330.27 L66.10,330.32 L66.35,330.36 L66.60,330.38 Z" fill="#d30b0b" stroke="none" stroke-width="1" />
<path d="M70.35,330.40 L70.60,330.39 L70.85,330.39 L71.10,330.38 L71.35,330.37 L71.60,330.35 L71.85,330.33 L72.10,330.29 L72.35,330.24 L72.60,330.17 L72.85,330.07 L73.10,329.95 L73.35,329.78 L73.60,329.57 L73.85,329.31 L74.10,328.99 L74.35,328.60 L74.60,328.15 L74.85,327.64 L75.10,327.07 L75.35,326.44 L75.60,325.79 L75.85,325.11 L76.10,324.44 L76.35,323.80 L76.60,323.21 L76.85,322.71 L77.10,322.31 L77.35,322.04 L77.60,321.91 L77.85,321.93 L78.10,322.09 L78.35,322.38 L78.60,322.80 L78.85,323.32 L79.10,323.92 L79.35,324.57 L79.60,325.24 L79.85,325.92 L80.10,326.57 L80.35,327.19 L80.60,327.75 L80.85,328.25 L81.10,328.69 L81.35,329.06 L81.60,329.37 L81.85,329.62 L82.10,329.82 L82.35,329.97 L82.60,330.09 L82.85,330.18 L83.10,330.25 L83.35,330.30 L83.60,330.33 L83.85,330.35 L84.10,330.37 L84.35,330.38 L84.60,330.39 L84.85,330.39 L85.10,330.40 Z" fill="#d30b0b" stroke="none" stroke-width="1" />
<path d="M56.60,328.92 L56.85,328.18 L57.10,327.17 L57.35,325.82 L57.60,324.06 L57.85,321.86 L58.10,319.19 L58.35,316.05 L58.60,312.51 L58.85,308.67 L59.10,304.68 L59.35,300.73 L59.60,297.04 L59.85,293.83 L60.10,286.80 L60.35,281.89 L60.60,280.01 L60.85,281.46 L61.10,285.84 L61.35,292.15 L61.60,294.00 L61.85,297.53 L62.10,299.10 L62.35,301.74 L62.60,305.29 L62.85,307.46 L63.10,310.56 L63.35,311.76 L63.60,314.20 L63.85,316.92 L64.10,317.11 L64.35,318.70 L64.60,320.00 L64.85,320.12 L65.10,320.51 L65.35,319.97 L65.60,321.62 L65.85,321.57 L66.10,320.81 L66.35,321.28 L66.60,322.05 L66.85,321.69 L67.10,321.49 L67.35,322.05 L67.60,321.45 L67.85,322.54 L68.10,321.41 L68.35,322.00 L68.60,322.89 L68.85,322.24 L69.10,321.60 L69.35,322.69 L69.60,323.23 L69.85,322.87 L70.10,323.41 L70.35,323.54 L70.60,322.46 L70.85,322.29 L71.10,323.35 L71.35,322.40 L71.60,323.22 L71.85,323.57 L72.10,323.09 L72.35,322.62 L72.60,323.18 L72.85,323.21 L73.10,323.34 L73.35,324.03 L73.60,322.58 L73.85,323.05 L74.10,322.38 L74.35,322.31 L74.60,322.07 L74.85,321.95 L75.10,321.90 L75.35,320.81 L75.60,320.07 L75.85,319.00 L76.10,319.59 L76.35,318.06 L76.60,318.46 L76.85,317.22 L77.10,316.92 L77.35,318.08 L77.60,316.52 L77.85,317.14 L78.10,317.80 L78.35,318.09 L78.60,318.97 L78.85,319.61 L79.10,320.95 L79.35,321.01 L79.60,321.64 L79.85,323.20 L80.10,324.12 L80.35,324.23 L80.60,325.96 L80.85,326.50 L81.10,327.18 L81.35,327.78 L81.60,328.30 L81.85,328.73 L82.10,329.08 L82.35,329.37 L82.60,329.60 L82.85,329.78 L83.10,329.92 L83.35,330.03 L83.60,330.12 L83.85,330.18 L84.10,330.23 L84.35,330.27 L84.60,330.30 L84.85,330.32 L85.10,330.34 L85.35,330.35 L85.60,330.36 L85.85,330.37 L86.10,330.38 L86.35,330.38 L86.60,330.39 L86.85,330.39 L87.10,330.39" fill="none" stroke="#9c9cb6" stroke-width="0.55" stroke-linejoin="round"/>
<circle cx="60.6" cy="331.79999999999995" r="0.8" fill="#444" />
<text x="126.5" y="275.6" font-size="9" text-anchor="middle" font-weight="normal" fill="#161616" stroke="#161616" stroke-width="0.22" >sh17</text>
<text x="126.5" y="346.9" font-size="9" text-anchor="middle" font-weight="normal" fill="#161616" stroke="#161616" stroke-width="0.22" >54%</text>
<text x="126.5" y="356.9" font-size="9" text-anchor="middle" font-weight="normal" fill="#161616" stroke="#161616" stroke-width="0.22" >34%</text>
<text x="126.5" y="366.9" font-size="9" text-anchor="middle" font-weight="normal" fill="#161616" stroke="#161616" stroke-width="0.22" >12%</text>
<line x1="106.6" y1="277" x2="106.6" y2="329.8" stroke="#d2d2d2" stroke-width="0.8" />
<line x1="106.6" y1="329.8" x2="153.1" y2="329.8" stroke="#b8b8c0" stroke-width="0.9" />
<line x1="103.8" y1="283" x2="105.0" y2="283" stroke="#c8c8c8" stroke-width="0.7" />
<line x1="103.8" y1="292" x2="105.0" y2="292" stroke="#c8c8c8" stroke-width="0.7" />
<line x1="103.8" y1="306.7" x2="105.0" y2="306.7" stroke="#c8c8c8" stroke-width="0.7" />
<line x1="103.8" y1="314.6" x2="105.0" y2="314.6" stroke="#c8c8c8" stroke-width="0.7" />
<line x1="103.8" y1="322.5" x2="105.0" y2="322.5" stroke="#c8c8c8" stroke-width="0.7" />
<line x1="106.6" y1="330.8" x2="106.6" y2="331.8" stroke="#d4d4d4" stroke-width="0.6" />
<line x1="114.35" y1="330.8" x2="114.35" y2="331.8" stroke="#d4d4d4" stroke-width="0.6" />
<line x1="122.1" y1="330.8" x2="122.1" y2="331.8" stroke="#d4d4d4" stroke-width="0.6" />
<line x1="129.85" y1="330.8" x2="129.85" y2="331.8" stroke="#d4d4d4" stroke-width="0.6" />
<line x1="137.6" y1="330.8" x2="137.6" y2="331.8" stroke="#d4d4d4" stroke-width="0.6" />
<line x1="145.35" y1="330.8" x2="145.35" y2="331.8" stroke="#d4d4d4" stroke-width="0.6" />
<line x1="153.1" y1="330.8" x2="153.1" y2="331.8" stroke="#d4d4d4" stroke-width="0.6" />
<text x="129.85" y="334.8" font-size="2.6" text-anchor="middle" fill="#c4c4c4">Channels (FL2-A)</text>
<text x="103.1" y="304.8" font-size="2.6" text-anchor="middle" fill="#d0d0d0" transform="rotate(-90 103.1 304.8)">Number</text>
<path d="M125.10,289.60 L125.35,290.66 L125.60,292.89 L125.85,296.01 L126.10,299.70 L126.35,303.65 L126.60,307.62 L126.85,311.37 L127.10,314.75 L127.35,317.63 L127.60,319.97 L127.85,321.78 L128.10,323.11 L128.35,324.05 L128.60,324.69 L128.85,325.12 L129.10,325.38 L129.35,325.55 L129.60,325.66 L129.85,325.73 L130.10,325.78 L130.35,325.82 L130.60,325.85 L130.85,325.88 L131.10,325.90 L131.35,325.93 L131.60,325.95 L131.85,325.98 L132.10,326.00 L132.35,326.02 L132.60,326.05 L132.85,326.07 L133.10,326.09 L133.35,326.11 L133.60,326.13 L133.85,326.15 L134.10,326.16 L134.35,326.17 L134.60,326.17 L134.85,326.16 L135.10,326.14 L135.35,326.10 L135.60,326.05 L135.85,325.98 L136.10,325.89 L136.35,325.77 L136.60,325.63 L136.85,325.45 L137.10,325.25 L137.35,325.02 L137.60,324.77 L137.85,324.50 L138.10,324.22 L138.35,323.93 L138.60,323.66 L138.85,323.41 L139.10,323.18 L139.35,323.01 L139.60,322.88 L139.85,322.82 L140.10,322.83 L140.35,322.90 L140.60,323.04 L140.85,323.25 L141.10,323.53 L141.35,323.87 L141.60,324.27 L141.85,324.70 L142.10,325.16 L142.35,325.64 L142.60,326.12 L142.85,326.59 L143.10,327.04 L143.35,327.45 L143.60,327.83 L143.85,328.17 L144.10,328.47 L144.35,328.72 L144.60,328.94 L144.85,329.12 L145.10,329.26 L145.35,329.38 L145.60,329.47 L145.85,329.55 L146.10,329.60 L146.35,329.65 L146.60,329.68 L146.85,329.71 L147.10,329.73 L147.35,329.75 L147.60,329.76 L147.85,329.77 L148.10,329.77 L148.35,329.78 L148.60,329.78 L148.85,329.79 L149.10,329.79 L149.35,329.79 L149.60,329.79 L149.85,329.80 L150.10,329.80 L150.35,329.80 L150.60,329.80 L150.85,329.80 L151.10,329.80 L151.35,329.80 L151.60,329.80 L151.85,329.80 L152.10,329.80 L152.35,329.80 L152.60,329.80 L152.85,329.80 L153.10,329.80 L153.1,329.8 L125,329.8 Z" fill="#e2e2f5" stroke="none" stroke-width="1" />
<path d="M119.85,329.78 L120.10,329.76 L120.35,329.72 L120.60,329.64 L120.85,329.51 L121.10,329.28 L121.35,328.91 L121.60,328.33 L121.85,327.46 L122.10,326.19 L122.35,324.43 L122.60,322.09 L122.85,319.13 L123.10,315.55 L123.35,311.43 L123.60,306.96 L123.85,302.39 L124.10,298.07 L124.35,294.35 L124.60,291.59 L124.85,290.06 L125.10,289.91 L125.35,291.18 L125.60,293.71 L125.85,297.26 L126.10,301.50 L126.35,306.04 L126.60,310.56 L126.85,314.76 L127.10,318.46 L127.35,321.55 L127.60,324.01 L127.85,325.88 L128.10,327.24 L128.35,328.18 L128.60,328.82 L128.85,329.22 L129.10,329.47 L129.35,329.62 L129.60,329.71 L129.85,329.75 L130.10,329.78 Z" fill="#d30b0b" stroke="none" stroke-width="1" />
<path d="M132.35,329.80 L132.60,329.80 L132.85,329.80 L133.10,329.79 L133.35,329.79 L133.60,329.78 L133.85,329.77 L134.10,329.76 L134.35,329.74 L134.60,329.72 L134.85,329.68 L135.10,329.64 L135.35,329.58 L135.60,329.50 L135.85,329.41 L136.10,329.29 L136.35,329.14 L136.60,328.97 L136.85,328.77 L137.10,328.54 L137.35,328.28 L137.60,328.00 L137.85,327.69 L138.10,327.38 L138.35,327.06 L138.60,326.75 L138.85,326.46 L139.10,326.19 L139.35,325.96 L139.60,325.78 L139.85,325.66 L140.10,325.61 L140.35,325.61 L140.60,325.68 L140.85,325.82 L141.10,326.00 L141.35,326.24 L141.60,326.51 L141.85,326.81 L142.10,327.13 L142.35,327.44 L142.60,327.76 L142.85,328.05 L143.10,328.33 L143.35,328.58 L143.60,328.81 L143.85,329.01 L144.10,329.17 L144.35,329.31 L144.60,329.43 L144.85,329.52 L145.10,329.59 L145.35,329.65 L145.60,329.69 L145.85,329.72 L146.10,329.75 L146.35,329.76 L146.60,329.77 L146.85,329.78 L147.10,329.79 L147.35,329.79 L147.60,329.80 L147.85,329.80 L148.10,329.80 Z" fill="#d30b0b" stroke="none" stroke-width="1" />
<path d="M121.60,328.33 L121.85,327.45 L122.10,326.19 L122.35,324.43 L122.60,322.09 L122.85,319.13 L123.10,315.54 L123.35,311.43 L123.60,306.95 L123.85,302.37 L124.10,298.03 L124.35,294.29 L124.60,291.48 L124.85,287.85 L125.10,287.31 L125.35,290.62 L125.60,292.89 L125.85,296.01 L126.10,299.70 L126.35,304.22 L126.60,307.42 L126.85,311.73 L127.10,315.03 L127.35,317.17 L127.60,319.57 L127.85,322.16 L128.10,322.90 L128.35,323.53 L128.60,324.05 L128.85,325.70 L129.10,325.19 L129.35,325.02 L129.60,325.52 L129.85,325.48 L130.10,326.07 L130.35,326.46 L130.60,326.41 L130.85,325.18 L131.10,325.29 L131.35,326.41 L131.60,326.23 L131.85,325.33 L132.10,325.66 L132.35,325.73 L132.60,326.43 L132.85,326.07 L133.10,326.74 L133.35,325.58 L133.60,325.85 L133.85,325.49 L134.10,325.64 L134.35,326.47 L134.60,326.67 L134.85,325.68 L135.10,326.55 L135.35,326.66 L135.60,325.69 L135.85,326.64 L136.10,325.18 L136.35,325.03 L136.60,325.34 L136.85,325.12 L137.10,325.48 L137.35,325.79 L137.60,324.71 L137.85,324.00 L138.10,323.92 L138.35,324.12 L138.60,323.41 L138.85,324.07 L139.10,322.92 L139.35,322.54 L139.60,323.65 L139.85,322.39 L140.10,323.39 L140.35,322.92 L140.60,322.70 L140.85,323.64 L141.10,323.03 L141.35,323.28 L141.60,324.60 L141.85,325.31 L142.10,325.16 L142.35,325.64 L142.60,326.12 L142.85,326.59 L143.10,327.04 L143.35,327.45 L143.60,327.83 L143.85,328.17 L144.10,328.47 L144.35,328.72 L144.60,328.94 L144.85,329.12 L145.10,329.26 L145.35,329.38 L145.60,329.47 L145.85,329.55 L146.10,329.60 L146.35,329.65 L146.60,329.68 L146.85,329.71 L147.10,329.73 L147.35,329.75 L147.60,329.76 L147.85,329.77 L148.10,329.77 L148.35,329.78 L148.60,329.78 L148.85,329.79 L149.10,329.79 L149.35,329.79 L149.60,329.79 L149.85,329.80 L150.10,329.80 L150.35,329.80 L150.60,329.80 L150.85,329.80 L151.10,329.80 L151.35,329.80 L151.60,329.80 L151.85,329.80 L152.10,329.80 L152.35,329.80 L152.60,329.80 L152.85,329.80 L153.10,329.80" fill="none" stroke="#9c9cb6" stroke-width="0.55" stroke-linejoin="round"/>
<circle cx="125" cy="331.2" r="0.8" fill="#444" />
<text x="193" y="275.6" font-size="9" text-anchor="middle" font-weight="normal" fill="#161616" stroke="#161616" stroke-width="0.22" >sh19</text>
<text x="193" y="346.9" font-size="9" text-anchor="middle" font-weight="normal" fill="#161616" stroke="#161616" stroke-width="0.22" >41%</text>
<text x="193" y="356.9" font-size="9" text-anchor="middle" font-weight="normal" fill="#161616" stroke="#161616" stroke-width="0.22" >46%</text>
<text x="193" y="366.9" font-size="9" text-anchor="middle" font-weight="normal" fill="#161616" stroke="#161616" stroke-width="0.22" >13%</text>
<line x1="171.9" y1="277" x2="171.9" y2="329.8" stroke="#d2d2d2" stroke-width="0.8" />
<line x1="171.9" y1="329.8" x2="218.4" y2="329.8" stroke="#b8b8c0" stroke-width="0.9" />
<line x1="169.1" y1="283" x2="170.3" y2="283" stroke="#c8c8c8" stroke-width="0.7" />
<line x1="169.1" y1="292" x2="170.3" y2="292" stroke="#c8c8c8" stroke-width="0.7" />
<line x1="169.1" y1="306.7" x2="170.3" y2="306.7" stroke="#c8c8c8" stroke-width="0.7" />
<line x1="169.1" y1="314.6" x2="170.3" y2="314.6" stroke="#c8c8c8" stroke-width="0.7" />
<line x1="169.1" y1="322.5" x2="170.3" y2="322.5" stroke="#c8c8c8" stroke-width="0.7" />
<line x1="171.9" y1="330.8" x2="171.9" y2="331.8" stroke="#d4d4d4" stroke-width="0.6" />
<line x1="179.65" y1="330.8" x2="179.65" y2="331.8" stroke="#d4d4d4" stroke-width="0.6" />
<line x1="187.4" y1="330.8" x2="187.4" y2="331.8" stroke="#d4d4d4" stroke-width="0.6" />
<line x1="195.15" y1="330.8" x2="195.15" y2="331.8" stroke="#d4d4d4" stroke-width="0.6" />
<line x1="202.9" y1="330.8" x2="202.9" y2="331.8" stroke="#d4d4d4" stroke-width="0.6" />
<line x1="210.65" y1="330.8" x2="210.65" y2="331.8" stroke="#d4d4d4" stroke-width="0.6" />
<line x1="218.4" y1="330.8" x2="218.4" y2="331.8" stroke="#d4d4d4" stroke-width="0.6" />
<text x="195.15" y="334.8" font-size="2.6" text-anchor="middle" fill="#c4c4c4">Channels (FL2-A)</text>
<text x="168.4" y="304.8" font-size="2.6" text-anchor="middle" fill="#d0d0d0" transform="rotate(-90 168.4 304.8)">Number</text>
<path d="M192.65,289.43 L192.90,289.84 L193.15,290.99 L193.40,292.71 L193.65,294.78 L193.90,297.02 L194.15,299.34 L194.40,301.73 L194.65,304.22 L194.90,306.76 L195.15,309.23 L195.40,311.51 L195.65,313.52 L195.90,315.22 L196.15,316.60 L196.40,317.69 L196.65,318.52 L196.90,319.15 L197.15,319.62 L197.40,319.97 L197.65,320.23 L197.90,320.42 L198.15,320.58 L198.40,320.71 L198.65,320.82 L198.90,320.92 L199.15,321.01 L199.40,321.10 L199.65,321.19 L199.90,321.28 L200.15,321.36 L200.40,321.44 L200.65,321.53 L200.90,321.61 L201.15,321.69 L201.40,321.77 L201.65,321.84 L201.90,321.91 L202.15,321.98 L202.40,322.04 L202.65,322.09 L202.90,322.13 L203.15,322.16 L203.40,322.18 L203.65,322.17 L203.90,322.14 L204.15,322.09 L204.40,322.00 L204.65,321.89 L204.90,321.74 L205.15,321.56 L205.40,321.35 L205.65,321.11 L205.90,320.83 L206.15,320.54 L206.40,320.23 L206.65,319.91 L206.90,319.60 L207.15,319.31 L207.40,319.05 L207.65,318.83 L207.90,318.66 L208.15,318.56 L208.40,318.54 L208.65,318.60 L208.90,318.72 L209.15,318.88 L209.40,319.14 L209.65,319.49 L209.90,319.93 L210.15,320.44 L210.40,321.02 L210.65,321.66 L210.90,322.33 L211.15,323.03 L211.40,323.74 L211.65,324.44 L211.90,325.13 L212.15,325.77 L212.40,326.37 L212.65,326.91 L212.90,327.40 L213.15,327.82 L213.40,328.19 L213.65,328.50 L213.90,328.76 L214.15,328.97 L214.40,329.14 L214.65,329.28 L214.90,329.40 L215.15,329.49 L215.40,329.56 L215.65,329.61 L215.90,329.65 L216.15,329.69 L216.40,329.71 L216.65,329.73 L216.90,329.75 L217.15,329.76 L217.40,329.77 L217.65,329.77 L217.90,329.78 L218.15,329.78 L218.40,329.79 L218.4,329.8 L192.6,329.8 Z" fill="#e2e2f5" stroke="none" stroke-width="1" />
<path d="M186.40,329.78 L186.65,329.76 L186.90,329.72 L187.15,329.67 L187.40,329.58 L187.65,329.45 L187.90,329.24 L188.15,328.92 L188.40,328.47 L188.65,327.83 L188.90,326.95 L189.15,325.77 L189.40,324.25 L189.65,322.34 L189.90,320.00 L190.15,317.23 L190.40,314.07 L190.65,310.59 L190.90,306.89 L191.15,303.14 L191.40,299.50 L191.65,296.19 L191.90,293.41 L192.15,291.33 L192.40,290.11 L192.65,289.82 L192.90,290.49 L193.15,292.07 L193.40,294.45 L193.65,297.46 L193.90,300.93 L194.15,304.64 L194.40,308.39 L194.65,312.02 L194.90,315.38 L195.15,318.39 L195.40,320.98 L195.65,323.15 L195.90,324.90 L196.15,326.28 L196.40,327.33 L196.65,328.11 L196.90,328.67 L197.15,329.06 L197.40,329.33 L197.65,329.51 L197.90,329.62 L198.15,329.69 L198.40,329.74 L198.65,329.77 Z" fill="#d30b0b" stroke="none" stroke-width="1" />
<path d="M200.15,329.80 L200.40,329.80 L200.65,329.79 L200.90,329.79 L201.15,329.79 L201.40,329.78 L201.65,329.77 L201.90,329.76 L202.15,329.74 L202.40,329.71 L202.65,329.68 L202.90,329.64 L203.15,329.58 L203.40,329.50 L203.65,329.41 L203.90,329.30 L204.15,329.16 L204.40,328.99 L204.65,328.79 L204.90,328.55 L205.15,328.28 L205.40,327.98 L205.65,327.65 L205.90,327.28 L206.15,326.90 L206.40,326.49 L206.65,326.08 L206.90,325.67 L207.15,325.27 L207.40,324.90 L207.65,324.57 L207.90,324.28 L208.15,324.06 L208.40,323.90 L208.65,323.81 L208.90,323.81 L209.15,323.88 L209.40,324.02 L209.65,324.23 L209.90,324.51 L210.15,324.83 L210.40,325.19 L210.65,325.59 L210.90,326.00 L211.15,326.41 L211.40,326.82 L211.65,327.21 L211.90,327.58 L212.15,327.92 L212.40,328.23 L212.65,328.50 L212.90,328.74 L213.15,328.95 L213.40,329.13 L213.65,329.27 L213.90,329.39 L214.15,329.49 L214.40,329.56 L214.65,329.63 L214.90,329.67 L215.15,329.71 L215.40,329.73 L215.65,329.75 L215.90,329.77 L216.15,329.78 L216.40,329.78 L216.65,329.79 L216.90,329.79 L217.15,329.80 L217.40,329.80 Z" fill="#d30b0b" stroke="none" stroke-width="1" />
<path d="M188.40,328.47 L188.65,327.83 L188.90,326.95 L189.15,325.77 L189.40,324.25 L189.65,322.33 L189.90,320.00 L190.15,317.23 L190.40,314.07 L190.65,310.59 L190.90,306.89 L191.15,303.12 L191.40,299.48 L191.65,296.15 L191.90,293.33 L192.15,288.27 L192.40,284.52 L192.65,283.47 L192.90,285.25 L193.15,289.42 L193.40,292.71 L193.65,294.36 L193.90,296.74 L194.15,299.66 L194.40,301.91 L194.65,304.38 L194.90,306.02 L195.15,308.53 L195.40,311.65 L195.65,313.66 L195.90,315.24 L196.15,316.55 L196.40,317.62 L196.65,317.97 L196.90,318.36 L197.15,320.30 L197.40,320.26 L197.65,320.65 L197.90,320.29 L198.15,319.87 L198.40,320.76 L198.65,320.43 L198.90,320.13 L199.15,321.30 L199.40,321.26 L199.65,320.85 L199.90,320.51 L200.15,321.70 L200.40,321.69 L200.65,322.17 L200.90,320.83 L201.15,321.26 L201.40,321.39 L201.65,321.13 L201.90,322.67 L202.15,321.37 L202.40,321.92 L202.65,322.87 L202.90,322.76 L203.15,321.74 L203.40,321.99 L203.65,321.38 L203.90,322.29 L204.15,322.73 L204.40,321.29 L204.65,321.59 L204.90,321.47 L205.15,321.50 L205.40,321.78 L205.65,320.87 L205.90,321.04 L206.15,320.98 L206.40,320.44 L206.65,319.54 L206.90,319.98 L207.15,319.98 L207.40,318.75 L207.65,318.66 L207.90,318.22 L208.15,319.35 L208.40,318.96 L208.65,317.84 L208.90,318.75 L209.15,319.18 L209.40,319.27 L209.65,319.52 L209.90,320.72 L210.15,320.84 L210.40,320.95 L210.65,322.34 L210.90,322.27 L211.15,322.65 L211.40,323.69 L211.65,325.14 L211.90,325.29 L212.15,325.11 L212.40,326.37 L212.65,326.91 L212.90,327.40 L213.15,327.82 L213.40,328.19 L213.65,328.50 L213.90,328.76 L214.15,328.97 L214.40,329.14 L214.65,329.28 L214.90,329.40 L215.15,329.49 L215.40,329.56 L215.65,329.61 L215.90,329.65 L216.15,329.69 L216.40,329.71 L216.65,329.73 L216.90,329.75 L217.15,329.76 L217.40,329.77 L217.65,329.77 L217.90,329.78 L218.15,329.78 L218.40,329.79" fill="none" stroke="#9c9cb6" stroke-width="0.55" stroke-linejoin="round"/>
<circle cx="192.6" cy="331.2" r="0.8" fill="#444" />
<text x="255.6" y="275.6" font-size="9" text-anchor="middle" font-weight="normal" fill="#161616" stroke="#161616" stroke-width="0.22" >ns</text>
<text x="255.6" y="346.9" font-size="9" text-anchor="middle" font-weight="normal" fill="#161616" stroke="#161616" stroke-width="0.22" >26%</text>
<text x="255.6" y="356.9" font-size="9" text-anchor="middle" font-weight="normal" fill="#161616" stroke="#161616" stroke-width="0.22" >52%</text>
<text x="255.6" y="366.9" font-size="9" text-anchor="middle" font-weight="normal" fill="#161616" stroke="#161616" stroke-width="0.22" >22%</text>
<line x1="234.5" y1="277" x2="234.5" y2="329.6" stroke="#d2d2d2" stroke-width="0.8" />
<line x1="234.5" y1="329.6" x2="281.0" y2="329.6" stroke="#b8b8c0" stroke-width="0.9" />
<line x1="231.7" y1="283" x2="232.9" y2="283" stroke="#c8c8c8" stroke-width="0.7" />
<line x1="231.7" y1="292" x2="232.9" y2="292" stroke="#c8c8c8" stroke-width="0.7" />
<line x1="231.7" y1="306.7" x2="232.9" y2="306.7" stroke="#c8c8c8" stroke-width="0.7" />
<line x1="231.7" y1="314.6" x2="232.9" y2="314.6" stroke="#c8c8c8" stroke-width="0.7" />
<line x1="231.7" y1="322.5" x2="232.9" y2="322.5" stroke="#c8c8c8" stroke-width="0.7" />
<line x1="234.5" y1="330.6" x2="234.5" y2="331.6" stroke="#d4d4d4" stroke-width="0.6" />
<line x1="242.25" y1="330.6" x2="242.25" y2="331.6" stroke="#d4d4d4" stroke-width="0.6" />
<line x1="250.0" y1="330.6" x2="250.0" y2="331.6" stroke="#d4d4d4" stroke-width="0.6" />
<line x1="257.75" y1="330.6" x2="257.75" y2="331.6" stroke="#d4d4d4" stroke-width="0.6" />
<line x1="265.5" y1="330.6" x2="265.5" y2="331.6" stroke="#d4d4d4" stroke-width="0.6" />
<line x1="273.25" y1="330.6" x2="273.25" y2="331.6" stroke="#d4d4d4" stroke-width="0.6" />
<line x1="281.0" y1="330.6" x2="281.0" y2="331.6" stroke="#d4d4d4" stroke-width="0.6" />
<text x="257.75" y="334.6" font-size="2.6" text-anchor="middle" fill="#c4c4c4">Channels (FL2-A)</text>
<text x="231.0" y="304.6" font-size="2.6" text-anchor="middle" fill="#d0d0d0" transform="rotate(-90 231.0 304.6)">Number</text>
<path d="M253.75,290.29 L254.00,290.50 L254.25,291.17 L254.50,292.15 L254.75,293.27 L255.00,294.30 L255.25,295.12 L255.50,295.73 L255.75,296.34 L256.00,297.20 L256.25,298.43 L256.50,300.01 L256.75,301.78 L257.00,303.58 L257.25,305.30 L257.50,306.86 L257.75,308.22 L258.00,309.38 L258.25,310.35 L258.50,311.14 L258.75,311.78 L259.00,312.30 L259.25,312.71 L259.50,313.05 L259.75,313.33 L260.00,313.55 L260.25,313.75 L260.50,313.91 L260.75,314.06 L261.00,314.19 L261.25,314.30 L261.50,314.40 L261.75,314.48 L262.00,314.55 L262.25,314.61 L262.50,314.64 L262.75,314.64 L263.00,314.62 L263.25,314.56 L263.50,314.47 L263.75,314.33 L264.00,314.14 L264.25,313.90 L264.50,313.60 L264.75,313.24 L265.00,312.82 L265.25,312.33 L265.50,311.78 L265.75,311.17 L266.00,310.51 L266.25,309.80 L266.50,309.05 L266.75,308.28 L267.00,307.50 L267.25,306.74 L267.50,306.00 L267.75,305.31 L268.00,304.69 L268.25,304.15 L268.50,303.72 L268.75,303.42 L269.00,303.26 L269.25,303.24 L269.50,303.39 L269.75,303.58 L270.00,303.94 L270.25,304.46 L270.50,305.15 L270.75,306.00 L271.00,306.99 L271.25,308.12 L271.50,309.36 L271.75,310.70 L272.00,312.12 L272.25,313.59 L272.50,315.09 L272.75,316.59 L273.00,318.06 L273.25,319.47 L273.50,320.80 L273.75,322.04 L274.00,323.17 L274.25,324.18 L274.50,325.08 L274.75,325.86 L275.00,326.53 L275.25,327.10 L275.50,327.57 L275.75,327.97 L276.00,328.30 L276.25,328.57 L276.50,328.79 L276.75,328.96 L277.00,329.10 L277.25,329.21 L277.50,329.30 L277.75,329.37 L278.00,329.42 L278.25,329.46 L278.50,329.49 L278.75,329.52 L279.00,329.54 L279.25,329.55 L279.50,329.56 L279.75,329.57 L280.00,329.58 L280.25,329.58 L280.50,329.59 L280.75,329.59 L281.00,329.59 L281.0,329.6 L253.7,329.6 Z" fill="#e2e2f5" stroke="none" stroke-width="1" />
<path d="M246.25,329.57 L246.50,329.56 L246.75,329.53 L247.00,329.49 L247.25,329.43 L247.50,329.34 L247.75,329.22 L248.00,329.04 L248.25,328.80 L248.50,328.47 L248.75,328.02 L249.00,327.43 L249.25,326.68 L249.50,325.72 L249.75,324.53 L250.00,323.09 L250.25,321.38 L250.50,319.38 L250.75,317.11 L251.00,314.57 L251.25,311.82 L251.50,308.89 L251.75,305.88 L252.00,302.88 L252.25,299.98 L252.50,297.30 L252.75,294.94 L253.00,293.02 L253.25,291.62 L253.50,290.80 L253.75,290.61 L254.00,291.06 L254.25,292.11 L254.50,293.73 L254.75,295.84 L255.00,298.34 L255.25,301.12 L255.50,304.07 L255.75,307.09 L256.00,310.08 L256.25,312.94 L256.50,315.62 L256.75,318.05 L257.00,320.22 L257.25,322.10 L257.50,323.70 L257.75,325.04 L258.00,326.13 L258.25,327.00 L258.50,327.69 L258.75,328.21 L259.00,328.61 L259.25,328.91 L259.50,329.12 L259.75,329.28 L260.00,329.38 L260.25,329.46 L260.50,329.51 L260.75,329.54 L261.00,329.56 L261.25,329.58 Z" fill="#d30b0b" stroke="none" stroke-width="1" />
<path d="M259.25,329.59 L259.50,329.59 L259.75,329.59 L260.00,329.58 L260.25,329.57 L260.50,329.56 L260.75,329.55 L261.00,329.53 L261.25,329.50 L261.50,329.46 L261.75,329.42 L262.00,329.36 L262.25,329.28 L262.50,329.18 L262.75,329.06 L263.00,328.91 L263.25,328.73 L263.50,328.50 L263.75,328.24 L264.00,327.92 L264.25,327.56 L264.50,327.13 L264.75,326.64 L265.00,326.09 L265.25,325.47 L265.50,324.79 L265.75,324.05 L266.00,323.26 L266.25,322.41 L266.50,321.53 L266.75,320.63 L267.00,319.71 L267.25,318.80 L267.50,317.92 L267.75,317.08 L268.00,316.31 L268.25,315.61 L268.50,315.02 L268.75,314.54 L269.00,314.19 L269.25,313.97 L269.50,313.90 L269.75,313.97 L270.00,314.19 L270.25,314.54 L270.50,315.02 L270.75,315.61 L271.00,316.31 L271.25,317.08 L271.50,317.92 L271.75,318.80 L272.00,319.71 L272.25,320.63 L272.50,321.53 L272.75,322.41 L273.00,323.26 L273.25,324.05 L273.50,324.79 L273.75,325.47 L274.00,326.09 L274.25,326.64 L274.50,327.13 L274.75,327.56 L275.00,327.92 L275.25,328.24 L275.50,328.50 L275.75,328.73 L276.00,328.91 L276.25,329.06 L276.50,329.18 L276.75,329.28 L277.00,329.36 L277.25,329.42 L277.50,329.46 L277.75,329.50 L278.00,329.53 L278.25,329.55 L278.50,329.56 L278.75,329.57 L279.00,329.58 L279.25,329.59 L279.50,329.59 L279.75,329.59 Z" fill="#d30b0b" stroke="none" stroke-width="1" />
<path d="M248.75,328.02 L249.00,327.43 L249.25,326.68 L249.50,325.72 L249.75,324.53 L250.00,323.09 L250.25,321.38 L250.50,319.38 L250.75,317.11 L251.00,314.57 L251.25,311.81 L251.50,308.89 L251.75,305.88 L252.00,302.87 L252.25,299.97 L252.50,297.28 L252.75,294.91 L253.00,290.00 L253.25,285.73 L253.50,283.07 L253.75,282.31 L254.00,283.51 L254.25,286.42 L254.50,290.53 L254.75,294.00 L255.00,294.89 L255.25,294.98 L255.50,295.51 L255.75,296.82 L256.00,297.86 L256.25,298.19 L256.50,300.31 L256.75,301.91 L257.00,303.01 L257.25,304.69 L257.50,307.42 L257.75,307.66 L258.00,309.00 L258.25,310.54 L258.50,310.77 L258.75,311.58 L259.00,312.97 L259.25,313.09 L259.50,313.76 L259.75,313.51 L260.00,314.23 L260.25,313.25 L260.50,313.15 L260.75,313.65 L261.00,313.47 L261.25,314.97 L261.50,314.92 L261.75,314.66 L262.00,314.22 L262.25,315.27 L262.50,315.12 L262.75,315.00 L263.00,314.43 L263.25,313.76 L263.50,315.01 L263.75,313.91 L264.00,313.41 L264.25,314.16 L264.50,314.16 L264.75,312.72 L265.00,312.34 L265.25,311.63 L265.50,311.11 L265.75,310.62 L266.00,310.43 L266.25,309.07 L266.50,308.80 L266.75,307.82 L267.00,307.10 L267.25,306.00 L267.50,306.58 L267.75,304.96 L268.00,305.27 L268.25,303.80 L268.50,303.93 L268.75,303.28 L269.00,303.05 L269.25,303.59 L269.50,302.65 L269.75,304.26 L270.00,303.77 L270.25,304.50 L270.50,305.72 L270.75,305.37 L271.00,306.36 L271.25,308.47 L271.50,309.84 L271.75,311.47 L272.00,312.65 L272.25,313.71 L272.50,314.59 L272.75,316.41 L273.00,318.04 L273.25,320.07 L273.50,321.27 L273.75,322.60 L274.00,323.64 L274.25,324.85 L274.50,325.85 L274.75,325.86 L275.00,326.53 L275.25,327.10 L275.50,327.57 L275.75,327.97 L276.00,328.30 L276.25,328.57 L276.50,328.79 L276.75,328.96 L277.00,329.10 L277.25,329.21 L277.50,329.30 L277.75,329.37 L278.00,329.42 L278.25,329.46 L278.50,329.49 L278.75,329.52 L279.00,329.54 L279.25,329.55 L279.50,329.56 L279.75,329.57 L280.00,329.58 L280.25,329.58 L280.50,329.59 L280.75,329.59 L281.00,329.59" fill="none" stroke="#9c9cb6" stroke-width="0.55" stroke-linejoin="round"/>
<circle cx="253.7" cy="331.0" r="0.8" fill="#444" />
<text x="320" y="275.6" font-size="9" text-anchor="middle" font-weight="normal" fill="#161616" stroke="#161616" stroke-width="0.22" >sh17</text>
<text x="320" y="346.9" font-size="9" text-anchor="middle" font-weight="normal" fill="#161616" stroke="#161616" stroke-width="0.22" >36%</text>
<text x="320" y="356.9" font-size="9" text-anchor="middle" font-weight="normal" fill="#161616" stroke="#161616" stroke-width="0.22" >37%</text>
<text x="320" y="366.9" font-size="9" text-anchor="middle" font-weight="normal" fill="#161616" stroke="#161616" stroke-width="0.22" >26%</text>
<line x1="297.2" y1="277" x2="297.2" y2="329.7" stroke="#d2d2d2" stroke-width="0.8" />
<line x1="297.2" y1="329.7" x2="343.7" y2="329.7" stroke="#b8b8c0" stroke-width="0.9" />
<line x1="294.4" y1="283" x2="295.59999999999997" y2="283" stroke="#c8c8c8" stroke-width="0.7" />
<line x1="294.4" y1="292" x2="295.59999999999997" y2="292" stroke="#c8c8c8" stroke-width="0.7" />
<line x1="294.4" y1="306.7" x2="295.59999999999997" y2="306.7" stroke="#c8c8c8" stroke-width="0.7" />
<line x1="294.4" y1="314.6" x2="295.59999999999997" y2="314.6" stroke="#c8c8c8" stroke-width="0.7" />
<line x1="294.4" y1="322.5" x2="295.59999999999997" y2="322.5" stroke="#c8c8c8" stroke-width="0.7" />
<line x1="297.2" y1="330.7" x2="297.2" y2="331.7" stroke="#d4d4d4" stroke-width="0.6" />
<line x1="304.95" y1="330.7" x2="304.95" y2="331.7" stroke="#d4d4d4" stroke-width="0.6" />
<line x1="312.7" y1="330.7" x2="312.7" y2="331.7" stroke="#d4d4d4" stroke-width="0.6" />
<line x1="320.45" y1="330.7" x2="320.45" y2="331.7" stroke="#d4d4d4" stroke-width="0.6" />
<line x1="328.2" y1="330.7" x2="328.2" y2="331.7" stroke="#d4d4d4" stroke-width="0.6" />
<line x1="335.95" y1="330.7" x2="335.95" y2="331.7" stroke="#d4d4d4" stroke-width="0.6" />
<line x1="343.7" y1="330.7" x2="343.7" y2="331.7" stroke="#d4d4d4" stroke-width="0.6" />
<text x="320.45" y="334.7" font-size="2.6" text-anchor="middle" fill="#c4c4c4">Channels (FL2-A)</text>
<text x="293.7" y="304.7" font-size="2.6" text-anchor="middle" fill="#d0d0d0" transform="rotate(-90 293.7 304.7)">Number</text>
<path d="M313.95,292.55 L314.20,293.10 L314.45,294.20 L314.70,295.66 L314.95,297.28 L315.20,298.92 L315.45,300.57 L315.70,302.31 L315.95,304.21 L316.20,306.25 L316.45,308.31 L316.70,310.27 L316.95,312.03 L317.20,313.55 L317.45,314.80 L317.70,315.80 L317.95,316.59 L318.20,317.19 L318.45,317.65 L318.70,317.99 L318.95,318.25 L319.20,318.45 L319.45,318.60 L319.70,318.72 L319.95,318.81 L320.20,318.88 L320.45,318.94 L320.70,318.97 L320.95,318.98 L321.20,318.97 L321.45,318.93 L321.70,318.86 L321.95,318.75 L322.20,318.60 L322.45,318.40 L322.70,318.14 L322.95,317.83 L323.20,317.45 L323.45,317.01 L323.70,316.50 L323.95,315.94 L324.20,315.32 L324.45,314.64 L324.70,313.93 L324.95,313.20 L325.20,312.46 L325.45,311.73 L325.70,311.03 L325.95,310.38 L326.20,309.80 L326.45,309.32 L326.70,308.96 L326.95,308.73 L327.20,308.64 L327.45,308.71 L327.70,308.87 L327.95,309.18 L328.20,309.66 L328.45,310.29 L328.70,311.06 L328.95,311.97 L329.20,313.00 L329.45,314.12 L329.70,315.32 L329.95,316.56 L330.20,317.83 L330.45,319.10 L330.70,320.34 L330.95,321.53 L331.20,322.65 L331.45,323.68 L331.70,324.62 L331.95,325.46 L332.20,326.19 L332.45,326.83 L332.70,327.37 L332.95,327.82 L333.20,328.20 L333.45,328.51 L333.70,328.77 L333.95,328.97 L334.20,329.13 L334.45,329.26 L334.70,329.36 L334.95,329.44 L335.20,329.50 L335.45,329.55 L335.70,329.58 L335.95,329.61 L336.20,329.63 L336.45,329.65 L336.70,329.66 L336.95,329.67 L337.20,329.68 L337.45,329.68 L337.70,329.69 L337.95,329.69 L338.20,329.69 L338.45,329.69 L338.70,329.69 L338.95,329.70 L339.20,329.70 L339.45,329.70 L339.70,329.70 L339.95,329.70 L340.20,329.70 L340.45,329.70 L340.70,329.70 L340.95,329.70 L341.20,329.70 L341.45,329.70 L341.70,329.70 L341.95,329.70 L342.20,329.70 L342.45,329.70 L342.70,329.70 L342.95,329.70 L343.20,329.70 L343.45,329.70 L343.70,329.70 L343.7,329.7 L313.8,329.7 Z" fill="#e2e2f5" stroke="none" stroke-width="1" />
<path d="M307.45,329.67 L307.70,329.65 L307.95,329.62 L308.20,329.57 L308.45,329.49 L308.70,329.36 L308.95,329.16 L309.20,328.88 L309.45,328.48 L309.70,327.91 L309.95,327.14 L310.20,326.12 L310.45,324.81 L310.70,323.16 L310.95,321.16 L311.20,318.79 L311.45,316.07 L311.70,313.05 L311.95,309.81 L312.20,306.48 L312.45,303.18 L312.70,300.10 L312.95,297.38 L313.20,295.21 L313.45,293.70 L313.70,292.97 L313.95,293.05 L314.20,293.94 L314.45,295.59 L314.70,297.89 L314.95,300.69 L315.20,303.83 L315.45,307.15 L315.70,310.47 L315.95,313.67 L316.20,316.64 L316.45,319.29 L316.70,321.59 L316.95,323.52 L317.20,325.10 L317.45,326.35 L317.70,327.31 L317.95,328.04 L318.20,328.57 L318.45,328.95 L318.70,329.21 L318.95,329.39 L319.20,329.51 L319.45,329.58 L319.70,329.63 L319.95,329.66 L320.20,329.68 Z" fill="#d30b0b" stroke="none" stroke-width="1" />
<path d="M317.95,329.70 L318.20,329.69 L318.45,329.69 L318.70,329.68 L318.95,329.68 L319.20,329.67 L319.45,329.65 L319.70,329.63 L319.95,329.60 L320.20,329.57 L320.45,329.52 L320.70,329.46 L320.95,329.38 L321.20,329.27 L321.45,329.14 L321.70,328.98 L321.95,328.78 L322.20,328.53 L322.45,328.24 L322.70,327.89 L322.95,327.48 L323.20,327.01 L323.45,326.47 L323.70,325.87 L323.95,325.21 L324.20,324.49 L324.45,323.72 L324.70,322.92 L324.95,322.08 L325.20,321.23 L325.45,320.40 L325.70,319.59 L325.95,318.82 L326.20,318.13 L326.45,317.52 L326.70,317.02 L326.95,316.65 L327.20,316.40 L327.45,316.30 L327.70,316.35 L327.95,316.53 L328.20,316.86 L328.45,317.31 L328.70,317.87 L328.95,318.54 L329.20,319.27 L329.45,320.07 L329.70,320.90 L329.95,321.74 L330.20,322.58 L330.45,323.40 L330.70,324.19 L330.95,324.93 L331.20,325.62 L331.45,326.24 L331.70,326.80 L331.95,327.30 L332.20,327.73 L332.45,328.10 L332.70,328.42 L332.95,328.68 L333.20,328.90 L333.45,329.08 L333.70,329.22 L333.95,329.34 L334.20,329.43 L334.45,329.50 L334.70,329.55 L334.95,329.59 L335.20,329.62 L335.45,329.64 L335.70,329.66 L335.95,329.67 L336.20,329.68 L336.45,329.69 L336.70,329.69 L336.95,329.69 Z" fill="#d30b0b" stroke="none" stroke-width="1" />
<path d="M309.70,327.91 L309.95,327.14 L310.20,326.12 L310.45,324.81 L310.70,323.16 L310.95,321.16 L311.20,318.79 L311.45,316.07 L311.70,313.05 L311.95,309.81 L312.20,306.47 L312.45,303.16 L312.70,300.06 L312.95,297.33 L313.20,291.23 L313.45,286.47 L313.70,283.93 L313.95,283.99 L314.20,286.57 L314.45,291.08 L314.70,295.20 L314.95,297.27 L315.20,299.05 L315.45,300.14 L315.70,301.78 L315.95,303.61 L316.20,305.86 L316.45,308.21 L316.70,310.38 L316.95,311.65 L317.20,313.94 L317.45,314.12 L317.70,315.50 L317.95,317.09 L318.20,316.69 L318.45,317.76 L318.70,317.57 L318.95,318.72 L319.20,319.10 L319.45,319.04 L319.70,318.97 L319.95,319.34 L320.20,319.64 L320.45,318.32 L320.70,318.88 L320.95,318.31 L321.20,319.36 L321.45,318.96 L321.70,319.60 L321.95,318.05 L322.20,318.76 L322.45,318.82 L322.70,318.72 L322.95,317.67 L323.20,317.27 L323.45,317.62 L323.70,316.58 L323.95,315.53 L324.20,315.22 L324.45,314.01 L324.70,314.08 L324.95,313.57 L325.20,312.23 L325.45,310.93 L325.70,310.80 L325.95,310.39 L326.20,309.41 L326.45,309.42 L326.70,309.66 L326.95,308.15 L327.20,309.07 L327.45,309.27 L327.70,309.60 L327.95,308.72 L328.20,310.32 L328.45,309.99 L328.70,311.84 L328.95,311.88 L329.20,313.52 L329.45,313.67 L329.70,315.19 L329.95,316.75 L330.20,317.69 L330.45,319.28 L330.70,320.22 L330.95,321.24 L331.20,323.02 L331.45,323.66 L331.70,324.99 L331.95,325.46 L332.20,326.19 L332.45,326.83 L332.70,327.37 L332.95,327.82 L333.20,328.20 L333.45,328.51 L333.70,328.77 L333.95,328.97 L334.20,329.13 L334.45,329.26 L334.70,329.36 L334.95,329.44 L335.20,329.50 L335.45,329.55 L335.70,329.58 L335.95,329.61 L336.20,329.63 L336.45,329.65 L336.70,329.66 L336.95,329.67 L337.20,329.68 L337.45,329.68 L337.70,329.69 L337.95,329.69 L338.20,329.69 L338.45,329.69 L338.70,329.69 L338.95,329.70 L339.20,329.70 L339.45,329.70 L339.70,329.70 L339.95,329.70 L340.20,329.70 L340.45,329.70 L340.70,329.70 L340.95,329.70 L341.20,329.70 L341.45,329.70 L341.70,329.70 L341.95,329.70 L342.20,329.70 L342.45,329.70 L342.70,329.70 L342.95,329.70 L343.20,329.70 L343.45,329.70 L343.70,329.70" fill="none" stroke="#9c9cb6" stroke-width="0.55" stroke-linejoin="round"/>
<circle cx="313.8" cy="331.09999999999997" r="0.8" fill="#444" />
<text x="385.5" y="275.6" font-size="9" text-anchor="middle" font-weight="normal" fill="#161616" stroke="#161616" stroke-width="0.22" >sh19</text>
<text x="385.5" y="346.9" font-size="9" text-anchor="middle" font-weight="normal" fill="#161616" stroke="#161616" stroke-width="0.22" >29%</text>
<text x="385.5" y="356.9" font-size="9" text-anchor="middle" font-weight="normal" fill="#161616" stroke="#161616" stroke-width="0.22" >46%</text>
<text x="385.5" y="366.9" font-size="9" text-anchor="middle" font-weight="normal" fill="#161616" stroke="#161616" stroke-width="0.22" >25%</text>
<line x1="363.7" y1="277" x2="363.7" y2="330" stroke="#d2d2d2" stroke-width="0.8" />
<line x1="363.7" y1="330" x2="410.2" y2="330" stroke="#b8b8c0" stroke-width="0.9" />
<line x1="360.9" y1="283" x2="362.09999999999997" y2="283" stroke="#c8c8c8" stroke-width="0.7" />
<line x1="360.9" y1="292" x2="362.09999999999997" y2="292" stroke="#c8c8c8" stroke-width="0.7" />
<line x1="360.9" y1="306.7" x2="362.09999999999997" y2="306.7" stroke="#c8c8c8" stroke-width="0.7" />
<line x1="360.9" y1="314.6" x2="362.09999999999997" y2="314.6" stroke="#c8c8c8" stroke-width="0.7" />
<line x1="360.9" y1="322.5" x2="362.09999999999997" y2="322.5" stroke="#c8c8c8" stroke-width="0.7" />
<line x1="363.7" y1="331" x2="363.7" y2="332" stroke="#d4d4d4" stroke-width="0.6" />
<line x1="371.45" y1="331" x2="371.45" y2="332" stroke="#d4d4d4" stroke-width="0.6" />
<line x1="379.2" y1="331" x2="379.2" y2="332" stroke="#d4d4d4" stroke-width="0.6" />
<line x1="386.95" y1="331" x2="386.95" y2="332" stroke="#d4d4d4" stroke-width="0.6" />
<line x1="394.7" y1="331" x2="394.7" y2="332" stroke="#d4d4d4" stroke-width="0.6" />
<line x1="402.45" y1="331" x2="402.45" y2="332" stroke="#d4d4d4" stroke-width="0.6" />
<line x1="410.2" y1="331" x2="410.2" y2="332" stroke="#d4d4d4" stroke-width="0.6" />
<text x="386.95" y="335" font-size="2.6" text-anchor="middle" fill="#c4c4c4">Channels (FL2-A)</text>
<text x="360.2" y="305" font-size="2.6" text-anchor="middle" fill="#d0d0d0" transform="rotate(-90 360.2 305)">Number</text>
<path d="M383.45,294.09 L383.70,294.30 L383.95,294.91 L384.20,295.80 L384.45,296.85 L384.70,297.88 L384.95,298.73 L385.20,299.37 L385.45,299.90 L385.70,300.54 L385.95,301.48 L386.20,302.75 L386.45,304.26 L386.70,305.87 L386.95,307.45 L387.20,308.94 L387.45,310.27 L387.70,311.43 L387.95,312.42 L388.20,313.24 L388.45,313.92 L388.70,314.46 L388.95,314.90 L389.20,315.26 L389.45,315.53 L389.70,315.76 L389.95,315.93 L390.20,316.07 L390.45,316.18 L390.70,316.26 L390.95,316.32 L391.20,316.36 L391.45,316.38 L391.70,316.38 L391.95,316.36 L392.20,316.31 L392.45,316.24 L392.70,316.14 L392.95,316.00 L393.20,315.83 L393.45,315.62 L393.70,315.36 L393.95,315.06 L394.20,314.71 L394.45,314.32 L394.70,313.87 L394.95,313.38 L395.20,312.83 L395.45,312.24 L395.70,311.62 L395.95,310.95 L396.20,310.26 L396.45,309.55 L396.70,308.83 L396.95,308.11 L397.20,307.40 L397.45,306.72 L397.70,306.07 L397.95,305.48 L398.20,304.96 L398.45,304.51 L398.70,304.15 L398.95,303.89 L399.20,303.74 L399.45,303.71 L399.70,303.79 L399.95,303.92 L400.20,304.17 L400.45,304.56 L400.70,305.07 L400.95,305.70 L401.20,306.45 L401.45,307.31 L401.70,308.28 L401.95,309.34 L402.20,310.50 L402.45,311.73 L402.70,313.02 L402.95,314.35 L403.20,315.71 L403.45,317.07 L403.70,318.42 L403.95,319.72 L404.20,320.96 L404.45,322.12 L404.70,323.19 L404.95,324.16 L405.20,325.03 L405.45,325.80 L405.70,326.48 L405.95,327.06 L406.20,327.57 L406.45,327.99 L406.70,328.36 L406.95,328.66 L407.20,328.91 L407.45,329.12 L407.70,329.30 L407.95,329.44 L408.20,329.55 L408.45,329.65 L408.70,329.72 L408.95,329.78 L409.20,329.83 L409.45,329.87 L409.70,329.90 L409.95,329.92 L410.20,329.94 L410.2,330 L383.4,330 Z" fill="#e2e2f5" stroke="none" stroke-width="1" />
<path d="M375.45,329.98 L375.70,329.96 L375.95,329.95 L376.20,329.92 L376.45,329.87 L376.70,329.81 L376.95,329.72 L377.20,329.60 L377.45,329.43 L377.70,329.19 L377.95,328.88 L378.20,328.48 L378.45,327.95 L378.70,327.29 L378.95,326.46 L379.20,325.44 L379.45,324.22 L379.70,322.77 L379.95,321.10 L380.20,319.19 L380.45,317.07 L380.70,314.75 L380.95,312.28 L381.20,309.70 L381.45,307.09 L381.70,304.52 L381.95,302.07 L382.20,299.82 L382.45,297.87 L382.70,296.28 L382.95,295.13 L383.20,294.47 L383.45,294.31 L383.70,294.67 L383.95,295.54 L384.20,296.87 L384.45,298.61 L384.70,300.69 L384.95,303.03 L385.20,305.54 L385.45,308.14 L385.70,310.74 L385.95,313.28 L386.20,315.70 L386.45,317.94 L386.70,319.98 L386.95,321.80 L387.20,323.38 L387.45,324.73 L387.70,325.87 L387.95,326.81 L388.20,327.57 L388.45,328.18 L388.70,328.65 L388.95,329.02 L389.20,329.30 L389.45,329.50 L389.70,329.65 L389.95,329.76 L390.20,329.84 L390.45,329.89 L390.70,329.93 L390.95,329.95 L391.20,329.97 L391.45,329.98 Z" fill="#d30b0b" stroke="none" stroke-width="1" />
<path d="M387.95,329.99 L388.20,329.99 L388.45,329.99 L388.70,329.98 L388.95,329.97 L389.20,329.96 L389.45,329.95 L389.70,329.94 L389.95,329.92 L390.20,329.89 L390.45,329.86 L390.70,329.82 L390.95,329.77 L391.20,329.71 L391.45,329.63 L391.70,329.54 L391.95,329.43 L392.20,329.29 L392.45,329.13 L392.70,328.94 L392.95,328.72 L393.20,328.46 L393.45,328.16 L393.70,327.82 L393.95,327.43 L394.20,327.00 L394.45,326.52 L394.70,325.99 L394.95,325.40 L395.20,324.77 L395.45,324.10 L395.70,323.38 L395.95,322.63 L396.20,321.85 L396.45,321.05 L396.70,320.23 L396.95,319.42 L397.20,318.62 L397.45,317.85 L397.70,317.11 L397.95,316.42 L398.20,315.79 L398.45,315.24 L398.70,314.77 L398.95,314.40 L399.20,314.12 L399.45,313.96 L399.70,313.90 L399.95,313.96 L400.20,314.12 L400.45,314.40 L400.70,314.77 L400.95,315.24 L401.20,315.79 L401.45,316.42 L401.70,317.11 L401.95,317.85 L402.20,318.62 L402.45,319.42 L402.70,320.23 L402.95,321.05 L403.20,321.85 L403.45,322.63 L403.70,323.38 L403.95,324.10 L404.20,324.77 L404.45,325.40 L404.70,325.99 L404.95,326.52 L405.20,327.00 L405.45,327.43 L405.70,327.82 L405.95,328.16 L406.20,328.46 L406.45,328.72 L406.70,328.94 L406.95,329.13 L407.20,329.29 L407.45,329.43 L407.70,329.54 L407.95,329.63 L408.20,329.71 L408.45,329.77 L408.70,329.82 L408.95,329.86 L409.20,329.89 L409.45,329.92 L409.70,329.94 L409.95,329.95 L410.20,329.96 Z" fill="#d30b0b" stroke="none" stroke-width="1" />
<path d="M378.20,328.48 L378.45,327.95 L378.70,327.29 L378.95,326.46 L379.20,325.44 L379.45,324.22 L379.70,322.77 L379.95,321.10 L380.20,319.19 L380.45,317.07 L380.70,314.75 L380.95,312.28 L381.20,309.70 L381.45,307.09 L381.70,304.51 L381.95,302.06 L382.20,298.53 L382.45,292.72 L382.70,287.54 L382.95,283.49 L383.20,280.99 L383.45,280.32 L383.70,281.51 L383.95,284.37 L384.20,288.47 L384.45,293.26 L384.70,298.57 L384.95,299.36 L385.20,298.84 L385.45,300.64 L385.70,300.80 L385.95,301.02 L386.20,302.79 L386.45,303.79 L386.70,305.75 L386.95,307.70 L387.20,309.51 L387.45,310.99 L387.70,311.33 L387.95,311.82 L388.20,313.82 L388.45,314.12 L388.70,313.84 L388.95,315.01 L389.20,315.22 L389.45,315.48 L389.70,316.11 L389.95,315.82 L390.20,316.30 L390.45,316.20 L390.70,316.53 L390.95,316.81 L391.20,316.54 L391.45,317.14 L391.70,316.54 L391.95,317.05 L392.20,315.66 L392.45,316.31 L392.70,315.93 L392.95,316.45 L393.20,316.29 L393.45,316.29 L393.70,315.71 L393.95,314.77 L394.20,315.23 L394.45,315.05 L394.70,314.39 L394.95,312.76 L395.20,313.25 L395.45,312.14 L395.70,311.31 L395.95,310.83 L396.20,309.56 L396.45,309.85 L396.70,308.41 L396.95,308.71 L397.20,307.33 L397.45,307.35 L397.70,305.67 L397.95,305.45 L398.20,304.96 L398.45,304.75 L398.70,304.34 L398.95,304.56 L399.20,304.35 L399.45,304.50 L399.70,303.71 L399.95,303.49 L400.20,303.64 L400.45,304.26 L400.70,305.02 L400.95,306.49 L401.20,306.69 L401.45,307.68 L401.70,307.84 L401.95,309.00 L402.20,311.14 L402.45,311.64 L402.70,312.93 L402.95,314.72 L403.20,315.68 L403.45,317.83 L403.70,318.01 L403.95,319.53 L404.20,321.40 L404.45,322.82 L404.70,323.09 L404.95,324.72 L405.20,325.03 L405.45,325.80 L405.70,326.48 L405.95,327.06 L406.20,327.57 L406.45,327.99 L406.70,328.36 L406.95,328.66 L407.20,328.91 L407.45,329.12 L407.70,329.30 L407.95,329.44 L408.20,329.55 L408.45,329.65 L408.70,329.72 L408.95,329.78 L409.20,329.83 L409.45,329.87 L409.70,329.90 L409.95,329.92 L410.20,329.94" fill="none" stroke="#9c9cb6" stroke-width="0.55" stroke-linejoin="round"/>
<circle cx="383.4" cy="331.4" r="0.8" fill="#444" />
<text x="413.8" y="209" font-size="11.5" text-anchor="start" font-weight="bold" fill="#111" stroke="#111" stroke-width="0.45" >D</text>
<line x1="453.8" y1="216.7" x2="453.8" y2="342" stroke="#4a4a4a" stroke-width="1.2" />
<line x1="453.8" y1="342" x2="511.5" y2="342" stroke="#4a4a4a" stroke-width="1.2" />
<line x1="451.5" y1="246.2" x2="453.8" y2="246.2" stroke="#4a4a4a" stroke-width="1.1" />
<text x="449.6" y="249.2" font-size="8.3" text-anchor="end" font-weight="normal" fill="#161616" stroke="#161616" stroke-width="0.22" >600</text>
<line x1="451.5" y1="278.8" x2="453.8" y2="278.8" stroke="#4a4a4a" stroke-width="1.1" />
<text x="449.6" y="281.8" font-size="8.3" text-anchor="end" font-weight="normal" fill="#161616" stroke="#161616" stroke-width="0.22" >400</text>
<line x1="451.5" y1="310.8" x2="453.8" y2="310.8" stroke="#4a4a4a" stroke-width="1.1" />
<text x="449.6" y="313.8" font-size="8.3" text-anchor="end" font-weight="normal" fill="#161616" stroke="#161616" stroke-width="0.22" >200</text>
<text x="430.5" y="267.3" font-size="8.65" text-anchor="middle" font-weight="normal" fill="#161616" stroke="#161616" stroke-width="0.22" transform="rotate(-90 430.5 267.3)">Tumor weight (mg)</text>
<rect x="465" y="239.6" width="9.4" height="102.4" fill="#000" stroke="none" stroke-width="1" />
<line x1="469.7" y1="221" x2="469.7" y2="239.6" stroke="#111" stroke-width="1" />
<line x1="465" y1="221" x2="474" y2="221" stroke="#111" stroke-width="1" />
<rect x="474.9" y="324.2" width="7.8" height="17.8" fill="#d9d9d9" stroke="#111" stroke-width="0.9" />
<line x1="478.8" y1="314.7" x2="478.8" y2="324.2" stroke="#111" stroke-width="1" />
<line x1="475.8" y1="314.7" x2="482" y2="314.7" stroke="#111" stroke-width="1" />
<rect x="493" y="284.4" width="8.7" height="57.6" fill="#000" stroke="none" stroke-width="1" />
<line x1="497.3" y1="277" x2="497.3" y2="284.4" stroke="#111" stroke-width="1" />
<line x1="493.5" y1="277" x2="501.5" y2="277" stroke="#111" stroke-width="1" />
<rect x="502.2" y="338.3" width="7.8" height="3.7" fill="#f0f0f0" stroke="#111" stroke-width="0.9" />
<line x1="506" y1="333.5" x2="506" y2="338.3" stroke="#111" stroke-width="1" />
<line x1="503" y1="333.5" x2="509" y2="333.5" stroke="#111" stroke-width="1" />
<text x="428.2" y="353.3" font-size="8.7" text-anchor="start" font-weight="normal" fill="#161616" stroke="#161616" stroke-width="0.22" >shRNA</text>
<text x="473.5" y="353.5" font-size="9" text-anchor="middle" font-weight="normal" fill="#161616" stroke="#161616" stroke-width="0.22" >ns17</text>
<text x="502.2" y="353.5" font-size="9" text-anchor="middle" font-weight="normal" fill="#161616" stroke="#161616" stroke-width="0.22" >ns17</text>
<line x1="464" y1="355.2" x2="483" y2="355.2" stroke="#333" stroke-width="1.1" />
<line x1="493" y1="355.2" x2="511.5" y2="355.2" stroke="#333" stroke-width="1.1" />
<text x="473.8" y="364.8" font-size="9" text-anchor="middle" font-weight="normal" fill="#161616" stroke="#161616" stroke-width="0.22" >606</text>
<text x="502.2" y="364.8" font-size="9" text-anchor="middle" font-weight="normal" fill="#161616" stroke="#161616" stroke-width="0.22" >931</text>
</svg></body></html>
